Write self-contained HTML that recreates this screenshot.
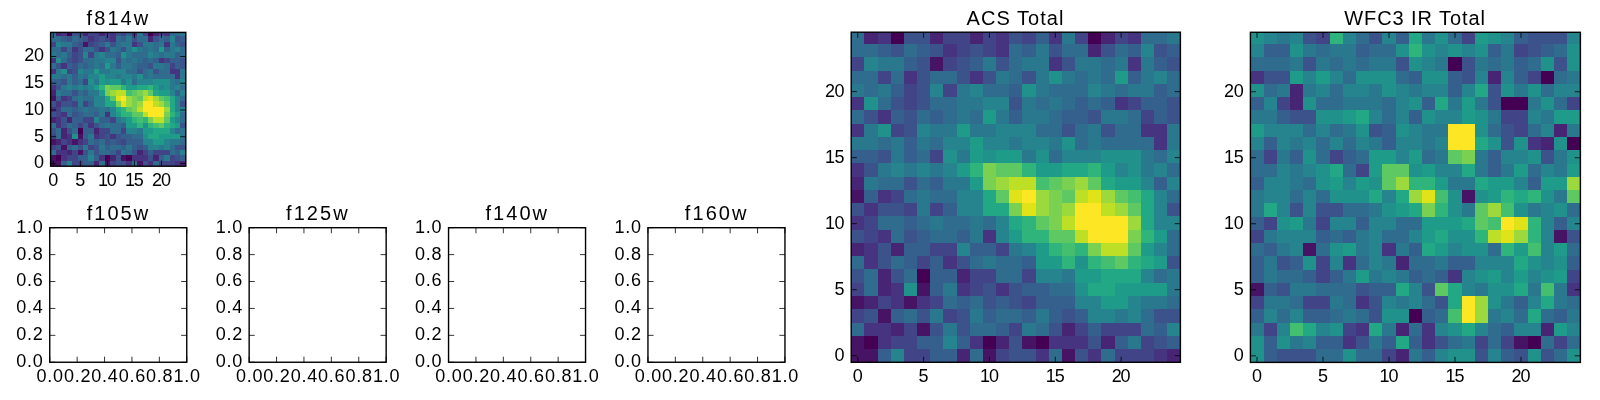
<!DOCTYPE html>
<html><head><meta charset="utf-8"><style>
html,body{margin:0;padding:0;background:#fff;width:1600px;height:400px;overflow:hidden}
svg{display:block;will-change:transform;font-family:"Liberation Sans",sans-serif}
text{fill:#000;stroke:none}
line{stroke:#000;stroke-width:0.80px}
rect.sp{fill:none;stroke:#000}
</style></head><body>
<svg width="1600" height="400" viewBox="0 0 1600 400">
<g>
<clipPath id="c1"><rect x="50.60" y="32.40" width="135.20" height="133.80"/></clipPath>
<g shape-rendering="crispEdges" clip-path="url(#c1)">
<rect x="50.60" y="30.70" width="6.01" height="6.02" fill="#2f6c8e"/>
<rect x="56.01" y="30.70" width="6.01" height="6.02" fill="#482475"/>
<rect x="61.42" y="30.70" width="6.01" height="6.02" fill="#463480"/>
<rect x="66.82" y="30.70" width="6.01" height="6.02" fill="#440154"/>
<rect x="72.23" y="30.70" width="6.01" height="6.02" fill="#3b528b"/>
<rect x="77.64" y="30.70" width="6.01" height="6.02" fill="#3b528b"/>
<rect x="83.05" y="30.70" width="6.01" height="6.02" fill="#482475"/>
<rect x="88.46" y="30.70" width="6.01" height="6.02" fill="#414487"/>
<rect x="93.86" y="30.70" width="6.01" height="6.02" fill="#414487"/>
<rect x="99.27" y="30.70" width="6.01" height="6.02" fill="#482475"/>
<rect x="104.68" y="30.70" width="6.01" height="6.02" fill="#414487"/>
<rect x="110.09" y="30.70" width="6.01" height="6.02" fill="#463480"/>
<rect x="115.50" y="30.70" width="6.01" height="6.02" fill="#3b528b"/>
<rect x="120.90" y="30.70" width="6.01" height="6.02" fill="#414487"/>
<rect x="126.31" y="30.70" width="6.01" height="6.02" fill="#355f8d"/>
<rect x="131.72" y="30.70" width="6.01" height="6.02" fill="#463480"/>
<rect x="137.13" y="30.70" width="6.01" height="6.02" fill="#2a788e"/>
<rect x="142.54" y="30.70" width="6.01" height="6.02" fill="#414487"/>
<rect x="147.94" y="30.70" width="6.01" height="6.02" fill="#440154"/>
<rect x="153.35" y="30.70" width="6.01" height="6.02" fill="#482475"/>
<rect x="158.76" y="30.70" width="6.01" height="6.02" fill="#414487"/>
<rect x="164.17" y="30.70" width="6.01" height="6.02" fill="#463480"/>
<rect x="169.58" y="30.70" width="6.01" height="6.02" fill="#2f6c8e"/>
<rect x="174.98" y="30.70" width="6.01" height="6.02" fill="#2f6c8e"/>
<rect x="180.39" y="30.70" width="6.01" height="6.02" fill="#2a788e"/>
<rect x="50.60" y="36.12" width="6.01" height="6.02" fill="#2f6c8e"/>
<rect x="56.01" y="36.12" width="6.01" height="6.02" fill="#2f6c8e"/>
<rect x="61.42" y="36.12" width="6.01" height="6.02" fill="#355f8d"/>
<rect x="66.82" y="36.12" width="6.01" height="6.02" fill="#3b528b"/>
<rect x="72.23" y="36.12" width="6.01" height="6.02" fill="#2f6c8e"/>
<rect x="77.64" y="36.12" width="6.01" height="6.02" fill="#355f8d"/>
<rect x="83.05" y="36.12" width="6.01" height="6.02" fill="#3b528b"/>
<rect x="88.46" y="36.12" width="6.01" height="6.02" fill="#463480"/>
<rect x="93.86" y="36.12" width="6.01" height="6.02" fill="#414487"/>
<rect x="99.27" y="36.12" width="6.01" height="6.02" fill="#3b528b"/>
<rect x="104.68" y="36.12" width="6.01" height="6.02" fill="#414487"/>
<rect x="110.09" y="36.12" width="6.01" height="6.02" fill="#463480"/>
<rect x="115.50" y="36.12" width="6.01" height="6.02" fill="#2f6c8e"/>
<rect x="120.90" y="36.12" width="6.01" height="6.02" fill="#355f8d"/>
<rect x="126.31" y="36.12" width="6.01" height="6.02" fill="#2a788e"/>
<rect x="131.72" y="36.12" width="6.01" height="6.02" fill="#3b528b"/>
<rect x="137.13" y="36.12" width="6.01" height="6.02" fill="#2f6c8e"/>
<rect x="142.54" y="36.12" width="6.01" height="6.02" fill="#2f6c8e"/>
<rect x="147.94" y="36.12" width="6.01" height="6.02" fill="#482475"/>
<rect x="153.35" y="36.12" width="6.01" height="6.02" fill="#3b528b"/>
<rect x="158.76" y="36.12" width="6.01" height="6.02" fill="#2f6c8e"/>
<rect x="164.17" y="36.12" width="6.01" height="6.02" fill="#355f8d"/>
<rect x="169.58" y="36.12" width="6.01" height="6.02" fill="#25848e"/>
<rect x="174.98" y="36.12" width="6.01" height="6.02" fill="#3b528b"/>
<rect x="180.39" y="36.12" width="6.01" height="6.02" fill="#355f8d"/>
<rect x="50.60" y="41.54" width="6.01" height="6.02" fill="#414487"/>
<rect x="56.01" y="41.54" width="6.01" height="6.02" fill="#25848e"/>
<rect x="61.42" y="41.54" width="6.01" height="6.02" fill="#2a788e"/>
<rect x="66.82" y="41.54" width="6.01" height="6.02" fill="#2a788e"/>
<rect x="72.23" y="41.54" width="6.01" height="6.02" fill="#355f8d"/>
<rect x="77.64" y="41.54" width="6.01" height="6.02" fill="#3b528b"/>
<rect x="83.05" y="41.54" width="6.01" height="6.02" fill="#471365"/>
<rect x="88.46" y="41.54" width="6.01" height="6.02" fill="#414487"/>
<rect x="93.86" y="41.54" width="6.01" height="6.02" fill="#3b528b"/>
<rect x="99.27" y="41.54" width="6.01" height="6.02" fill="#355f8d"/>
<rect x="104.68" y="41.54" width="6.01" height="6.02" fill="#2a788e"/>
<rect x="110.09" y="41.54" width="6.01" height="6.02" fill="#3b528b"/>
<rect x="115.50" y="41.54" width="6.01" height="6.02" fill="#2f6c8e"/>
<rect x="120.90" y="41.54" width="6.01" height="6.02" fill="#2a788e"/>
<rect x="126.31" y="41.54" width="6.01" height="6.02" fill="#2a788e"/>
<rect x="131.72" y="41.54" width="6.01" height="6.02" fill="#463480"/>
<rect x="137.13" y="41.54" width="6.01" height="6.02" fill="#3b528b"/>
<rect x="142.54" y="41.54" width="6.01" height="6.02" fill="#2a788e"/>
<rect x="147.94" y="41.54" width="6.01" height="6.02" fill="#2a788e"/>
<rect x="153.35" y="41.54" width="6.01" height="6.02" fill="#2f6c8e"/>
<rect x="158.76" y="41.54" width="6.01" height="6.02" fill="#2a788e"/>
<rect x="164.17" y="41.54" width="6.01" height="6.02" fill="#463480"/>
<rect x="169.58" y="41.54" width="6.01" height="6.02" fill="#2a788e"/>
<rect x="174.98" y="41.54" width="6.01" height="6.02" fill="#355f8d"/>
<rect x="180.39" y="41.54" width="6.01" height="6.02" fill="#3b528b"/>
<rect x="50.60" y="46.96" width="6.01" height="6.02" fill="#2f6c8e"/>
<rect x="56.01" y="46.96" width="6.01" height="6.02" fill="#2f6c8e"/>
<rect x="61.42" y="46.96" width="6.01" height="6.02" fill="#414487"/>
<rect x="66.82" y="46.96" width="6.01" height="6.02" fill="#2f6c8e"/>
<rect x="72.23" y="46.96" width="6.01" height="6.02" fill="#463480"/>
<rect x="77.64" y="46.96" width="6.01" height="6.02" fill="#3b528b"/>
<rect x="83.05" y="46.96" width="6.01" height="6.02" fill="#2f6c8e"/>
<rect x="88.46" y="46.96" width="6.01" height="6.02" fill="#2f6c8e"/>
<rect x="93.86" y="46.96" width="6.01" height="6.02" fill="#3b528b"/>
<rect x="99.27" y="46.96" width="6.01" height="6.02" fill="#463480"/>
<rect x="104.68" y="46.96" width="6.01" height="6.02" fill="#3b528b"/>
<rect x="110.09" y="46.96" width="6.01" height="6.02" fill="#2a788e"/>
<rect x="115.50" y="46.96" width="6.01" height="6.02" fill="#2f6c8e"/>
<rect x="120.90" y="46.96" width="6.01" height="6.02" fill="#3b528b"/>
<rect x="126.31" y="46.96" width="6.01" height="6.02" fill="#2a788e"/>
<rect x="131.72" y="46.96" width="6.01" height="6.02" fill="#21918c"/>
<rect x="137.13" y="46.96" width="6.01" height="6.02" fill="#2a788e"/>
<rect x="142.54" y="46.96" width="6.01" height="6.02" fill="#2f6c8e"/>
<rect x="147.94" y="46.96" width="6.01" height="6.02" fill="#2a788e"/>
<rect x="153.35" y="46.96" width="6.01" height="6.02" fill="#2f6c8e"/>
<rect x="158.76" y="46.96" width="6.01" height="6.02" fill="#1e9c89"/>
<rect x="164.17" y="46.96" width="6.01" height="6.02" fill="#355f8d"/>
<rect x="169.58" y="46.96" width="6.01" height="6.02" fill="#2a788e"/>
<rect x="174.98" y="46.96" width="6.01" height="6.02" fill="#25848e"/>
<rect x="180.39" y="46.96" width="6.01" height="6.02" fill="#2f6c8e"/>
<rect x="50.60" y="52.38" width="6.01" height="6.02" fill="#2a788e"/>
<rect x="56.01" y="52.38" width="6.01" height="6.02" fill="#2f6c8e"/>
<rect x="61.42" y="52.38" width="6.01" height="6.02" fill="#2a788e"/>
<rect x="66.82" y="52.38" width="6.01" height="6.02" fill="#355f8d"/>
<rect x="72.23" y="52.38" width="6.01" height="6.02" fill="#414487"/>
<rect x="77.64" y="52.38" width="6.01" height="6.02" fill="#3b528b"/>
<rect x="83.05" y="52.38" width="6.01" height="6.02" fill="#25848e"/>
<rect x="88.46" y="52.38" width="6.01" height="6.02" fill="#414487"/>
<rect x="93.86" y="52.38" width="6.01" height="6.02" fill="#2a788e"/>
<rect x="99.27" y="52.38" width="6.01" height="6.02" fill="#25848e"/>
<rect x="104.68" y="52.38" width="6.01" height="6.02" fill="#2f6c8e"/>
<rect x="110.09" y="52.38" width="6.01" height="6.02" fill="#2f6c8e"/>
<rect x="115.50" y="52.38" width="6.01" height="6.02" fill="#355f8d"/>
<rect x="120.90" y="52.38" width="6.01" height="6.02" fill="#21918c"/>
<rect x="126.31" y="52.38" width="6.01" height="6.02" fill="#2a788e"/>
<rect x="131.72" y="52.38" width="6.01" height="6.02" fill="#2f6c8e"/>
<rect x="137.13" y="52.38" width="6.01" height="6.02" fill="#2f6c8e"/>
<rect x="142.54" y="52.38" width="6.01" height="6.02" fill="#2f6c8e"/>
<rect x="147.94" y="52.38" width="6.01" height="6.02" fill="#25848e"/>
<rect x="153.35" y="52.38" width="6.01" height="6.02" fill="#2a788e"/>
<rect x="158.76" y="52.38" width="6.01" height="6.02" fill="#2f6c8e"/>
<rect x="164.17" y="52.38" width="6.01" height="6.02" fill="#2a788e"/>
<rect x="169.58" y="52.38" width="6.01" height="6.02" fill="#2a788e"/>
<rect x="174.98" y="52.38" width="6.01" height="6.02" fill="#355f8d"/>
<rect x="180.39" y="52.38" width="6.01" height="6.02" fill="#2f6c8e"/>
<rect x="50.60" y="57.80" width="6.01" height="6.02" fill="#463480"/>
<rect x="56.01" y="57.80" width="6.01" height="6.02" fill="#21918c"/>
<rect x="61.42" y="57.80" width="6.01" height="6.02" fill="#2f6c8e"/>
<rect x="66.82" y="57.80" width="6.01" height="6.02" fill="#3b528b"/>
<rect x="72.23" y="57.80" width="6.01" height="6.02" fill="#414487"/>
<rect x="77.64" y="57.80" width="6.01" height="6.02" fill="#3b528b"/>
<rect x="83.05" y="57.80" width="6.01" height="6.02" fill="#2f6c8e"/>
<rect x="88.46" y="57.80" width="6.01" height="6.02" fill="#2f6c8e"/>
<rect x="93.86" y="57.80" width="6.01" height="6.02" fill="#2a788e"/>
<rect x="99.27" y="57.80" width="6.01" height="6.02" fill="#2a788e"/>
<rect x="104.68" y="57.80" width="6.01" height="6.02" fill="#25848e"/>
<rect x="110.09" y="57.80" width="6.01" height="6.02" fill="#25848e"/>
<rect x="115.50" y="57.80" width="6.01" height="6.02" fill="#3b528b"/>
<rect x="120.90" y="57.80" width="6.01" height="6.02" fill="#2a788e"/>
<rect x="126.31" y="57.80" width="6.01" height="6.02" fill="#2f6c8e"/>
<rect x="131.72" y="57.80" width="6.01" height="6.02" fill="#2a788e"/>
<rect x="137.13" y="57.80" width="6.01" height="6.02" fill="#2f6c8e"/>
<rect x="142.54" y="57.80" width="6.01" height="6.02" fill="#355f8d"/>
<rect x="147.94" y="57.80" width="6.01" height="6.02" fill="#2f6c8e"/>
<rect x="153.35" y="57.80" width="6.01" height="6.02" fill="#355f8d"/>
<rect x="158.76" y="57.80" width="6.01" height="6.02" fill="#463480"/>
<rect x="164.17" y="57.80" width="6.01" height="6.02" fill="#414487"/>
<rect x="169.58" y="57.80" width="6.01" height="6.02" fill="#355f8d"/>
<rect x="174.98" y="57.80" width="6.01" height="6.02" fill="#355f8d"/>
<rect x="180.39" y="57.80" width="6.01" height="6.02" fill="#3b528b"/>
<rect x="50.60" y="63.22" width="6.01" height="6.02" fill="#2f6c8e"/>
<rect x="56.01" y="63.22" width="6.01" height="6.02" fill="#3b528b"/>
<rect x="61.42" y="63.22" width="6.01" height="6.02" fill="#463480"/>
<rect x="66.82" y="63.22" width="6.01" height="6.02" fill="#355f8d"/>
<rect x="72.23" y="63.22" width="6.01" height="6.02" fill="#3b528b"/>
<rect x="77.64" y="63.22" width="6.01" height="6.02" fill="#2f6c8e"/>
<rect x="83.05" y="63.22" width="6.01" height="6.02" fill="#355f8d"/>
<rect x="88.46" y="63.22" width="6.01" height="6.02" fill="#2f6c8e"/>
<rect x="93.86" y="63.22" width="6.01" height="6.02" fill="#2a788e"/>
<rect x="99.27" y="63.22" width="6.01" height="6.02" fill="#2f6c8e"/>
<rect x="104.68" y="63.22" width="6.01" height="6.02" fill="#1e9c89"/>
<rect x="110.09" y="63.22" width="6.01" height="6.02" fill="#2a788e"/>
<rect x="115.50" y="63.22" width="6.01" height="6.02" fill="#355f8d"/>
<rect x="120.90" y="63.22" width="6.01" height="6.02" fill="#2a788e"/>
<rect x="126.31" y="63.22" width="6.01" height="6.02" fill="#2a788e"/>
<rect x="131.72" y="63.22" width="6.01" height="6.02" fill="#2f6c8e"/>
<rect x="137.13" y="63.22" width="6.01" height="6.02" fill="#355f8d"/>
<rect x="142.54" y="63.22" width="6.01" height="6.02" fill="#355f8d"/>
<rect x="147.94" y="63.22" width="6.01" height="6.02" fill="#3b528b"/>
<rect x="153.35" y="63.22" width="6.01" height="6.02" fill="#2a788e"/>
<rect x="158.76" y="63.22" width="6.01" height="6.02" fill="#2a788e"/>
<rect x="164.17" y="63.22" width="6.01" height="6.02" fill="#2f6c8e"/>
<rect x="169.58" y="63.22" width="6.01" height="6.02" fill="#414487"/>
<rect x="174.98" y="63.22" width="6.01" height="6.02" fill="#355f8d"/>
<rect x="180.39" y="63.22" width="6.01" height="6.02" fill="#3b528b"/>
<rect x="50.60" y="68.64" width="6.01" height="6.02" fill="#463480"/>
<rect x="56.01" y="68.64" width="6.01" height="6.02" fill="#2a788e"/>
<rect x="61.42" y="68.64" width="6.01" height="6.02" fill="#21918c"/>
<rect x="66.82" y="68.64" width="6.01" height="6.02" fill="#414487"/>
<rect x="72.23" y="68.64" width="6.01" height="6.02" fill="#3b528b"/>
<rect x="77.64" y="68.64" width="6.01" height="6.02" fill="#25848e"/>
<rect x="83.05" y="68.64" width="6.01" height="6.02" fill="#2a788e"/>
<rect x="88.46" y="68.64" width="6.01" height="6.02" fill="#2a788e"/>
<rect x="93.86" y="68.64" width="6.01" height="6.02" fill="#1e9c89"/>
<rect x="99.27" y="68.64" width="6.01" height="6.02" fill="#2a788e"/>
<rect x="104.68" y="68.64" width="6.01" height="6.02" fill="#2a788e"/>
<rect x="110.09" y="68.64" width="6.01" height="6.02" fill="#25848e"/>
<rect x="115.50" y="68.64" width="6.01" height="6.02" fill="#25848e"/>
<rect x="120.90" y="68.64" width="6.01" height="6.02" fill="#25848e"/>
<rect x="126.31" y="68.64" width="6.01" height="6.02" fill="#2f6c8e"/>
<rect x="131.72" y="68.64" width="6.01" height="6.02" fill="#2f6c8e"/>
<rect x="137.13" y="68.64" width="6.01" height="6.02" fill="#3b528b"/>
<rect x="142.54" y="68.64" width="6.01" height="6.02" fill="#2f6c8e"/>
<rect x="147.94" y="68.64" width="6.01" height="6.02" fill="#2a788e"/>
<rect x="153.35" y="68.64" width="6.01" height="6.02" fill="#3b528b"/>
<rect x="158.76" y="68.64" width="6.01" height="6.02" fill="#2f6c8e"/>
<rect x="164.17" y="68.64" width="6.01" height="6.02" fill="#2f6c8e"/>
<rect x="169.58" y="68.64" width="6.01" height="6.02" fill="#463480"/>
<rect x="174.98" y="68.64" width="6.01" height="6.02" fill="#463480"/>
<rect x="180.39" y="68.64" width="6.01" height="6.02" fill="#2a788e"/>
<rect x="50.60" y="74.06" width="6.01" height="6.02" fill="#2a788e"/>
<rect x="56.01" y="74.06" width="6.01" height="6.02" fill="#2a788e"/>
<rect x="61.42" y="74.06" width="6.01" height="6.02" fill="#2f6c8e"/>
<rect x="66.82" y="74.06" width="6.01" height="6.02" fill="#2a788e"/>
<rect x="72.23" y="74.06" width="6.01" height="6.02" fill="#355f8d"/>
<rect x="77.64" y="74.06" width="6.01" height="6.02" fill="#2a788e"/>
<rect x="83.05" y="74.06" width="6.01" height="6.02" fill="#2f6c8e"/>
<rect x="88.46" y="74.06" width="6.01" height="6.02" fill="#25848e"/>
<rect x="93.86" y="74.06" width="6.01" height="6.02" fill="#25848e"/>
<rect x="99.27" y="74.06" width="6.01" height="6.02" fill="#1e9c89"/>
<rect x="104.68" y="74.06" width="6.01" height="6.02" fill="#25848e"/>
<rect x="110.09" y="74.06" width="6.01" height="6.02" fill="#25848e"/>
<rect x="115.50" y="74.06" width="6.01" height="6.02" fill="#2a788e"/>
<rect x="120.90" y="74.06" width="6.01" height="6.02" fill="#25848e"/>
<rect x="126.31" y="74.06" width="6.01" height="6.02" fill="#25848e"/>
<rect x="131.72" y="74.06" width="6.01" height="6.02" fill="#2a788e"/>
<rect x="137.13" y="74.06" width="6.01" height="6.02" fill="#21918c"/>
<rect x="142.54" y="74.06" width="6.01" height="6.02" fill="#2f6c8e"/>
<rect x="147.94" y="74.06" width="6.01" height="6.02" fill="#2a788e"/>
<rect x="153.35" y="74.06" width="6.01" height="6.02" fill="#2f6c8e"/>
<rect x="158.76" y="74.06" width="6.01" height="6.02" fill="#2f6c8e"/>
<rect x="164.17" y="74.06" width="6.01" height="6.02" fill="#2f6c8e"/>
<rect x="169.58" y="74.06" width="6.01" height="6.02" fill="#2f6c8e"/>
<rect x="174.98" y="74.06" width="6.01" height="6.02" fill="#463480"/>
<rect x="180.39" y="74.06" width="6.01" height="6.02" fill="#2a788e"/>
<rect x="50.60" y="79.48" width="6.01" height="6.02" fill="#355f8d"/>
<rect x="56.01" y="79.48" width="6.01" height="6.02" fill="#355f8d"/>
<rect x="61.42" y="79.48" width="6.01" height="6.02" fill="#3b528b"/>
<rect x="66.82" y="79.48" width="6.01" height="6.02" fill="#2a788e"/>
<rect x="72.23" y="79.48" width="6.01" height="6.02" fill="#355f8d"/>
<rect x="77.64" y="79.48" width="6.01" height="6.02" fill="#2f6c8e"/>
<rect x="83.05" y="79.48" width="6.01" height="6.02" fill="#414487"/>
<rect x="88.46" y="79.48" width="6.01" height="6.02" fill="#21918c"/>
<rect x="93.86" y="79.48" width="6.01" height="6.02" fill="#2a788e"/>
<rect x="99.27" y="79.48" width="6.01" height="6.02" fill="#1e9c89"/>
<rect x="104.68" y="79.48" width="6.01" height="6.02" fill="#21918c"/>
<rect x="110.09" y="79.48" width="6.01" height="6.02" fill="#1e9c89"/>
<rect x="115.50" y="79.48" width="6.01" height="6.02" fill="#1e9c89"/>
<rect x="120.90" y="79.48" width="6.01" height="6.02" fill="#2a788e"/>
<rect x="126.31" y="79.48" width="6.01" height="6.02" fill="#21918c"/>
<rect x="131.72" y="79.48" width="6.01" height="6.02" fill="#2f6c8e"/>
<rect x="137.13" y="79.48" width="6.01" height="6.02" fill="#25848e"/>
<rect x="142.54" y="79.48" width="6.01" height="6.02" fill="#25848e"/>
<rect x="147.94" y="79.48" width="6.01" height="6.02" fill="#25848e"/>
<rect x="153.35" y="79.48" width="6.01" height="6.02" fill="#21918c"/>
<rect x="158.76" y="79.48" width="6.01" height="6.02" fill="#21918c"/>
<rect x="164.17" y="79.48" width="6.01" height="6.02" fill="#21918c"/>
<rect x="169.58" y="79.48" width="6.01" height="6.02" fill="#2a788e"/>
<rect x="174.98" y="79.48" width="6.01" height="6.02" fill="#2f6c8e"/>
<rect x="180.39" y="79.48" width="6.01" height="6.02" fill="#25848e"/>
<rect x="50.60" y="84.90" width="6.01" height="6.02" fill="#463480"/>
<rect x="56.01" y="84.90" width="6.01" height="6.02" fill="#3b528b"/>
<rect x="61.42" y="84.90" width="6.01" height="6.02" fill="#2a788e"/>
<rect x="66.82" y="84.90" width="6.01" height="6.02" fill="#25848e"/>
<rect x="72.23" y="84.90" width="6.01" height="6.02" fill="#2a788e"/>
<rect x="77.64" y="84.90" width="6.01" height="6.02" fill="#25848e"/>
<rect x="83.05" y="84.90" width="6.01" height="6.02" fill="#2a788e"/>
<rect x="88.46" y="84.90" width="6.01" height="6.02" fill="#25848e"/>
<rect x="93.86" y="84.90" width="6.01" height="6.02" fill="#1e9c89"/>
<rect x="99.27" y="84.90" width="6.01" height="6.02" fill="#2fb47c"/>
<rect x="104.68" y="84.90" width="6.01" height="6.02" fill="#7ad151"/>
<rect x="110.09" y="84.90" width="6.01" height="6.02" fill="#5ec962"/>
<rect x="115.50" y="84.90" width="6.01" height="6.02" fill="#5ec962"/>
<rect x="120.90" y="84.90" width="6.01" height="6.02" fill="#2fb47c"/>
<rect x="126.31" y="84.90" width="6.01" height="6.02" fill="#1e9c89"/>
<rect x="131.72" y="84.90" width="6.01" height="6.02" fill="#1e9c89"/>
<rect x="137.13" y="84.90" width="6.01" height="6.02" fill="#22a884"/>
<rect x="142.54" y="84.90" width="6.01" height="6.02" fill="#22a884"/>
<rect x="147.94" y="84.90" width="6.01" height="6.02" fill="#2fb47c"/>
<rect x="153.35" y="84.90" width="6.01" height="6.02" fill="#1e9c89"/>
<rect x="158.76" y="84.90" width="6.01" height="6.02" fill="#25848e"/>
<rect x="164.17" y="84.90" width="6.01" height="6.02" fill="#21918c"/>
<rect x="169.58" y="84.90" width="6.01" height="6.02" fill="#2a788e"/>
<rect x="174.98" y="84.90" width="6.01" height="6.02" fill="#25848e"/>
<rect x="180.39" y="84.90" width="6.01" height="6.02" fill="#2f6c8e"/>
<rect x="50.60" y="90.32" width="6.01" height="6.02" fill="#482475"/>
<rect x="56.01" y="90.32" width="6.01" height="6.02" fill="#2a788e"/>
<rect x="61.42" y="90.32" width="6.01" height="6.02" fill="#2f6c8e"/>
<rect x="66.82" y="90.32" width="6.01" height="6.02" fill="#2f6c8e"/>
<rect x="72.23" y="90.32" width="6.01" height="6.02" fill="#3b528b"/>
<rect x="77.64" y="90.32" width="6.01" height="6.02" fill="#2f6c8e"/>
<rect x="83.05" y="90.32" width="6.01" height="6.02" fill="#355f8d"/>
<rect x="88.46" y="90.32" width="6.01" height="6.02" fill="#2a788e"/>
<rect x="93.86" y="90.32" width="6.01" height="6.02" fill="#2a788e"/>
<rect x="99.27" y="90.32" width="6.01" height="6.02" fill="#1e9c89"/>
<rect x="104.68" y="90.32" width="6.01" height="6.02" fill="#7ad151"/>
<rect x="110.09" y="90.32" width="6.01" height="6.02" fill="#9bd93c"/>
<rect x="115.50" y="90.32" width="6.01" height="6.02" fill="#bddf26"/>
<rect x="120.90" y="90.32" width="6.01" height="6.02" fill="#bddf26"/>
<rect x="126.31" y="90.32" width="6.01" height="6.02" fill="#44bf70"/>
<rect x="131.72" y="90.32" width="6.01" height="6.02" fill="#5ec962"/>
<rect x="137.13" y="90.32" width="6.01" height="6.02" fill="#7ad151"/>
<rect x="142.54" y="90.32" width="6.01" height="6.02" fill="#9bd93c"/>
<rect x="147.94" y="90.32" width="6.01" height="6.02" fill="#5ec962"/>
<rect x="153.35" y="90.32" width="6.01" height="6.02" fill="#22a884"/>
<rect x="158.76" y="90.32" width="6.01" height="6.02" fill="#1e9c89"/>
<rect x="164.17" y="90.32" width="6.01" height="6.02" fill="#1e9c89"/>
<rect x="169.58" y="90.32" width="6.01" height="6.02" fill="#25848e"/>
<rect x="174.98" y="90.32" width="6.01" height="6.02" fill="#355f8d"/>
<rect x="180.39" y="90.32" width="6.01" height="6.02" fill="#25848e"/>
<rect x="50.60" y="95.74" width="6.01" height="6.02" fill="#471365"/>
<rect x="56.01" y="95.74" width="6.01" height="6.02" fill="#355f8d"/>
<rect x="61.42" y="95.74" width="6.01" height="6.02" fill="#463480"/>
<rect x="66.82" y="95.74" width="6.01" height="6.02" fill="#414487"/>
<rect x="72.23" y="95.74" width="6.01" height="6.02" fill="#2f6c8e"/>
<rect x="77.64" y="95.74" width="6.01" height="6.02" fill="#2a788e"/>
<rect x="83.05" y="95.74" width="6.01" height="6.02" fill="#2f6c8e"/>
<rect x="88.46" y="95.74" width="6.01" height="6.02" fill="#2f6c8e"/>
<rect x="93.86" y="95.74" width="6.01" height="6.02" fill="#25848e"/>
<rect x="99.27" y="95.74" width="6.01" height="6.02" fill="#25848e"/>
<rect x="104.68" y="95.74" width="6.01" height="6.02" fill="#22a884"/>
<rect x="110.09" y="95.74" width="6.01" height="6.02" fill="#5ec962"/>
<rect x="115.50" y="95.74" width="6.01" height="6.02" fill="#dfe318"/>
<rect x="120.90" y="95.74" width="6.01" height="6.02" fill="#fde725"/>
<rect x="126.31" y="95.74" width="6.01" height="6.02" fill="#9bd93c"/>
<rect x="131.72" y="95.74" width="6.01" height="6.02" fill="#7ad151"/>
<rect x="137.13" y="95.74" width="6.01" height="6.02" fill="#5ec962"/>
<rect x="142.54" y="95.74" width="6.01" height="6.02" fill="#bddf26"/>
<rect x="147.94" y="95.74" width="6.01" height="6.02" fill="#dfe318"/>
<rect x="153.35" y="95.74" width="6.01" height="6.02" fill="#9bd93c"/>
<rect x="158.76" y="95.74" width="6.01" height="6.02" fill="#5ec962"/>
<rect x="164.17" y="95.74" width="6.01" height="6.02" fill="#44bf70"/>
<rect x="169.58" y="95.74" width="6.01" height="6.02" fill="#22a884"/>
<rect x="174.98" y="95.74" width="6.01" height="6.02" fill="#25848e"/>
<rect x="180.39" y="95.74" width="6.01" height="6.02" fill="#2f6c8e"/>
<rect x="50.60" y="101.16" width="6.01" height="6.02" fill="#3b528b"/>
<rect x="56.01" y="101.16" width="6.01" height="6.02" fill="#463480"/>
<rect x="61.42" y="101.16" width="6.01" height="6.02" fill="#3b528b"/>
<rect x="66.82" y="101.16" width="6.01" height="6.02" fill="#3b528b"/>
<rect x="72.23" y="101.16" width="6.01" height="6.02" fill="#414487"/>
<rect x="77.64" y="101.16" width="6.01" height="6.02" fill="#2a788e"/>
<rect x="83.05" y="101.16" width="6.01" height="6.02" fill="#414487"/>
<rect x="88.46" y="101.16" width="6.01" height="6.02" fill="#355f8d"/>
<rect x="93.86" y="101.16" width="6.01" height="6.02" fill="#25848e"/>
<rect x="99.27" y="101.16" width="6.01" height="6.02" fill="#25848e"/>
<rect x="104.68" y="101.16" width="6.01" height="6.02" fill="#22a884"/>
<rect x="110.09" y="101.16" width="6.01" height="6.02" fill="#22a884"/>
<rect x="115.50" y="101.16" width="6.01" height="6.02" fill="#7ad151"/>
<rect x="120.90" y="101.16" width="6.01" height="6.02" fill="#dfe318"/>
<rect x="126.31" y="101.16" width="6.01" height="6.02" fill="#9bd93c"/>
<rect x="131.72" y="101.16" width="6.01" height="6.02" fill="#7ad151"/>
<rect x="137.13" y="101.16" width="6.01" height="6.02" fill="#9bd93c"/>
<rect x="142.54" y="101.16" width="6.01" height="6.02" fill="#fde725"/>
<rect x="147.94" y="101.16" width="6.01" height="6.02" fill="#fde725"/>
<rect x="153.35" y="101.16" width="6.01" height="6.02" fill="#bddf26"/>
<rect x="158.76" y="101.16" width="6.01" height="6.02" fill="#9bd93c"/>
<rect x="164.17" y="101.16" width="6.01" height="6.02" fill="#5ec962"/>
<rect x="169.58" y="101.16" width="6.01" height="6.02" fill="#22a884"/>
<rect x="174.98" y="101.16" width="6.01" height="6.02" fill="#25848e"/>
<rect x="180.39" y="101.16" width="6.01" height="6.02" fill="#3b528b"/>
<rect x="50.60" y="106.58" width="6.01" height="6.02" fill="#463480"/>
<rect x="56.01" y="106.58" width="6.01" height="6.02" fill="#414487"/>
<rect x="61.42" y="106.58" width="6.01" height="6.02" fill="#2f6c8e"/>
<rect x="66.82" y="106.58" width="6.01" height="6.02" fill="#2f6c8e"/>
<rect x="72.23" y="106.58" width="6.01" height="6.02" fill="#355f8d"/>
<rect x="77.64" y="106.58" width="6.01" height="6.02" fill="#2f6c8e"/>
<rect x="83.05" y="106.58" width="6.01" height="6.02" fill="#2a788e"/>
<rect x="88.46" y="106.58" width="6.01" height="6.02" fill="#2f6c8e"/>
<rect x="93.86" y="106.58" width="6.01" height="6.02" fill="#2f6c8e"/>
<rect x="99.27" y="106.58" width="6.01" height="6.02" fill="#2a788e"/>
<rect x="104.68" y="106.58" width="6.01" height="6.02" fill="#2f6c8e"/>
<rect x="110.09" y="106.58" width="6.01" height="6.02" fill="#25848e"/>
<rect x="115.50" y="106.58" width="6.01" height="6.02" fill="#22a884"/>
<rect x="120.90" y="106.58" width="6.01" height="6.02" fill="#2fb47c"/>
<rect x="126.31" y="106.58" width="6.01" height="6.02" fill="#5ec962"/>
<rect x="131.72" y="106.58" width="6.01" height="6.02" fill="#7ad151"/>
<rect x="137.13" y="106.58" width="6.01" height="6.02" fill="#bddf26"/>
<rect x="142.54" y="106.58" width="6.01" height="6.02" fill="#fde725"/>
<rect x="147.94" y="106.58" width="6.01" height="6.02" fill="#fde725"/>
<rect x="153.35" y="106.58" width="6.01" height="6.02" fill="#fde725"/>
<rect x="158.76" y="106.58" width="6.01" height="6.02" fill="#fde725"/>
<rect x="164.17" y="106.58" width="6.01" height="6.02" fill="#9bd93c"/>
<rect x="169.58" y="106.58" width="6.01" height="6.02" fill="#22a884"/>
<rect x="174.98" y="106.58" width="6.01" height="6.02" fill="#25848e"/>
<rect x="180.39" y="106.58" width="6.01" height="6.02" fill="#25848e"/>
<rect x="50.60" y="112.00" width="6.01" height="6.02" fill="#3b528b"/>
<rect x="56.01" y="112.00" width="6.01" height="6.02" fill="#414487"/>
<rect x="61.42" y="112.00" width="6.01" height="6.02" fill="#463480"/>
<rect x="66.82" y="112.00" width="6.01" height="6.02" fill="#2f6c8e"/>
<rect x="72.23" y="112.00" width="6.01" height="6.02" fill="#3b528b"/>
<rect x="77.64" y="112.00" width="6.01" height="6.02" fill="#355f8d"/>
<rect x="83.05" y="112.00" width="6.01" height="6.02" fill="#2f6c8e"/>
<rect x="88.46" y="112.00" width="6.01" height="6.02" fill="#2f6c8e"/>
<rect x="93.86" y="112.00" width="6.01" height="6.02" fill="#355f8d"/>
<rect x="99.27" y="112.00" width="6.01" height="6.02" fill="#2a788e"/>
<rect x="104.68" y="112.00" width="6.01" height="6.02" fill="#463480"/>
<rect x="110.09" y="112.00" width="6.01" height="6.02" fill="#25848e"/>
<rect x="115.50" y="112.00" width="6.01" height="6.02" fill="#1e9c89"/>
<rect x="120.90" y="112.00" width="6.01" height="6.02" fill="#2fb47c"/>
<rect x="126.31" y="112.00" width="6.01" height="6.02" fill="#2fb47c"/>
<rect x="131.72" y="112.00" width="6.01" height="6.02" fill="#5ec962"/>
<rect x="137.13" y="112.00" width="6.01" height="6.02" fill="#5ec962"/>
<rect x="142.54" y="112.00" width="6.01" height="6.02" fill="#bddf26"/>
<rect x="147.94" y="112.00" width="6.01" height="6.02" fill="#fde725"/>
<rect x="153.35" y="112.00" width="6.01" height="6.02" fill="#fde725"/>
<rect x="158.76" y="112.00" width="6.01" height="6.02" fill="#fde725"/>
<rect x="164.17" y="112.00" width="6.01" height="6.02" fill="#7ad151"/>
<rect x="169.58" y="112.00" width="6.01" height="6.02" fill="#2fb47c"/>
<rect x="174.98" y="112.00" width="6.01" height="6.02" fill="#1e9c89"/>
<rect x="180.39" y="112.00" width="6.01" height="6.02" fill="#2f6c8e"/>
<rect x="50.60" y="117.42" width="6.01" height="6.02" fill="#482475"/>
<rect x="56.01" y="117.42" width="6.01" height="6.02" fill="#463480"/>
<rect x="61.42" y="117.42" width="6.01" height="6.02" fill="#3b528b"/>
<rect x="66.82" y="117.42" width="6.01" height="6.02" fill="#482475"/>
<rect x="72.23" y="117.42" width="6.01" height="6.02" fill="#355f8d"/>
<rect x="77.64" y="117.42" width="6.01" height="6.02" fill="#355f8d"/>
<rect x="83.05" y="117.42" width="6.01" height="6.02" fill="#414487"/>
<rect x="88.46" y="117.42" width="6.01" height="6.02" fill="#414487"/>
<rect x="93.86" y="117.42" width="6.01" height="6.02" fill="#25848e"/>
<rect x="99.27" y="117.42" width="6.01" height="6.02" fill="#355f8d"/>
<rect x="104.68" y="117.42" width="6.01" height="6.02" fill="#355f8d"/>
<rect x="110.09" y="117.42" width="6.01" height="6.02" fill="#414487"/>
<rect x="115.50" y="117.42" width="6.01" height="6.02" fill="#2a788e"/>
<rect x="120.90" y="117.42" width="6.01" height="6.02" fill="#25848e"/>
<rect x="126.31" y="117.42" width="6.01" height="6.02" fill="#1e9c89"/>
<rect x="131.72" y="117.42" width="6.01" height="6.02" fill="#2fb47c"/>
<rect x="137.13" y="117.42" width="6.01" height="6.02" fill="#44bf70"/>
<rect x="142.54" y="117.42" width="6.01" height="6.02" fill="#2fb47c"/>
<rect x="147.94" y="117.42" width="6.01" height="6.02" fill="#7ad151"/>
<rect x="153.35" y="117.42" width="6.01" height="6.02" fill="#bddf26"/>
<rect x="158.76" y="117.42" width="6.01" height="6.02" fill="#bddf26"/>
<rect x="164.17" y="117.42" width="6.01" height="6.02" fill="#5ec962"/>
<rect x="169.58" y="117.42" width="6.01" height="6.02" fill="#1e9c89"/>
<rect x="174.98" y="117.42" width="6.01" height="6.02" fill="#25848e"/>
<rect x="180.39" y="117.42" width="6.01" height="6.02" fill="#2f6c8e"/>
<rect x="50.60" y="122.84" width="6.01" height="6.02" fill="#2f6c8e"/>
<rect x="56.01" y="122.84" width="6.01" height="6.02" fill="#463480"/>
<rect x="61.42" y="122.84" width="6.01" height="6.02" fill="#3b528b"/>
<rect x="66.82" y="122.84" width="6.01" height="6.02" fill="#2f6c8e"/>
<rect x="72.23" y="122.84" width="6.01" height="6.02" fill="#355f8d"/>
<rect x="77.64" y="122.84" width="6.01" height="6.02" fill="#414487"/>
<rect x="83.05" y="122.84" width="6.01" height="6.02" fill="#355f8d"/>
<rect x="88.46" y="122.84" width="6.01" height="6.02" fill="#463480"/>
<rect x="93.86" y="122.84" width="6.01" height="6.02" fill="#3b528b"/>
<rect x="99.27" y="122.84" width="6.01" height="6.02" fill="#2f6c8e"/>
<rect x="104.68" y="122.84" width="6.01" height="6.02" fill="#2a788e"/>
<rect x="110.09" y="122.84" width="6.01" height="6.02" fill="#2f6c8e"/>
<rect x="115.50" y="122.84" width="6.01" height="6.02" fill="#2f6c8e"/>
<rect x="120.90" y="122.84" width="6.01" height="6.02" fill="#355f8d"/>
<rect x="126.31" y="122.84" width="6.01" height="6.02" fill="#1e9c89"/>
<rect x="131.72" y="122.84" width="6.01" height="6.02" fill="#1e9c89"/>
<rect x="137.13" y="122.84" width="6.01" height="6.02" fill="#2fb47c"/>
<rect x="142.54" y="122.84" width="6.01" height="6.02" fill="#21918c"/>
<rect x="147.94" y="122.84" width="6.01" height="6.02" fill="#2fb47c"/>
<rect x="153.35" y="122.84" width="6.01" height="6.02" fill="#44bf70"/>
<rect x="158.76" y="122.84" width="6.01" height="6.02" fill="#5ec962"/>
<rect x="164.17" y="122.84" width="6.01" height="6.02" fill="#2fb47c"/>
<rect x="169.58" y="122.84" width="6.01" height="6.02" fill="#22a884"/>
<rect x="174.98" y="122.84" width="6.01" height="6.02" fill="#1e9c89"/>
<rect x="180.39" y="122.84" width="6.01" height="6.02" fill="#3b528b"/>
<rect x="50.60" y="128.26" width="6.01" height="6.02" fill="#3b528b"/>
<rect x="56.01" y="128.26" width="6.01" height="6.02" fill="#2f6c8e"/>
<rect x="61.42" y="128.26" width="6.01" height="6.02" fill="#482475"/>
<rect x="66.82" y="128.26" width="6.01" height="6.02" fill="#3b528b"/>
<rect x="72.23" y="128.26" width="6.01" height="6.02" fill="#2f6c8e"/>
<rect x="77.64" y="128.26" width="6.01" height="6.02" fill="#440154"/>
<rect x="83.05" y="128.26" width="6.01" height="6.02" fill="#355f8d"/>
<rect x="88.46" y="128.26" width="6.01" height="6.02" fill="#355f8d"/>
<rect x="93.86" y="128.26" width="6.01" height="6.02" fill="#482475"/>
<rect x="99.27" y="128.26" width="6.01" height="6.02" fill="#414487"/>
<rect x="104.68" y="128.26" width="6.01" height="6.02" fill="#414487"/>
<rect x="110.09" y="128.26" width="6.01" height="6.02" fill="#2f6c8e"/>
<rect x="115.50" y="128.26" width="6.01" height="6.02" fill="#2f6c8e"/>
<rect x="120.90" y="128.26" width="6.01" height="6.02" fill="#414487"/>
<rect x="126.31" y="128.26" width="6.01" height="6.02" fill="#25848e"/>
<rect x="131.72" y="128.26" width="6.01" height="6.02" fill="#25848e"/>
<rect x="137.13" y="128.26" width="6.01" height="6.02" fill="#2a788e"/>
<rect x="142.54" y="128.26" width="6.01" height="6.02" fill="#1e9c89"/>
<rect x="147.94" y="128.26" width="6.01" height="6.02" fill="#1e9c89"/>
<rect x="153.35" y="128.26" width="6.01" height="6.02" fill="#22a884"/>
<rect x="158.76" y="128.26" width="6.01" height="6.02" fill="#22a884"/>
<rect x="164.17" y="128.26" width="6.01" height="6.02" fill="#22a884"/>
<rect x="169.58" y="128.26" width="6.01" height="6.02" fill="#25848e"/>
<rect x="174.98" y="128.26" width="6.01" height="6.02" fill="#2f6c8e"/>
<rect x="180.39" y="128.26" width="6.01" height="6.02" fill="#2a788e"/>
<rect x="50.60" y="133.68" width="6.01" height="6.02" fill="#414487"/>
<rect x="56.01" y="133.68" width="6.01" height="6.02" fill="#2f6c8e"/>
<rect x="61.42" y="133.68" width="6.01" height="6.02" fill="#482475"/>
<rect x="66.82" y="133.68" width="6.01" height="6.02" fill="#463480"/>
<rect x="72.23" y="133.68" width="6.01" height="6.02" fill="#21918c"/>
<rect x="77.64" y="133.68" width="6.01" height="6.02" fill="#471365"/>
<rect x="83.05" y="133.68" width="6.01" height="6.02" fill="#355f8d"/>
<rect x="88.46" y="133.68" width="6.01" height="6.02" fill="#2a788e"/>
<rect x="93.86" y="133.68" width="6.01" height="6.02" fill="#463480"/>
<rect x="99.27" y="133.68" width="6.01" height="6.02" fill="#414487"/>
<rect x="104.68" y="133.68" width="6.01" height="6.02" fill="#3b528b"/>
<rect x="110.09" y="133.68" width="6.01" height="6.02" fill="#463480"/>
<rect x="115.50" y="133.68" width="6.01" height="6.02" fill="#3b528b"/>
<rect x="120.90" y="133.68" width="6.01" height="6.02" fill="#355f8d"/>
<rect x="126.31" y="133.68" width="6.01" height="6.02" fill="#355f8d"/>
<rect x="131.72" y="133.68" width="6.01" height="6.02" fill="#2f6c8e"/>
<rect x="137.13" y="133.68" width="6.01" height="6.02" fill="#2f6c8e"/>
<rect x="142.54" y="133.68" width="6.01" height="6.02" fill="#21918c"/>
<rect x="147.94" y="133.68" width="6.01" height="6.02" fill="#22a884"/>
<rect x="153.35" y="133.68" width="6.01" height="6.02" fill="#22a884"/>
<rect x="158.76" y="133.68" width="6.01" height="6.02" fill="#1e9c89"/>
<rect x="164.17" y="133.68" width="6.01" height="6.02" fill="#1e9c89"/>
<rect x="169.58" y="133.68" width="6.01" height="6.02" fill="#1e9c89"/>
<rect x="174.98" y="133.68" width="6.01" height="6.02" fill="#1e9c89"/>
<rect x="180.39" y="133.68" width="6.01" height="6.02" fill="#2a788e"/>
<rect x="50.60" y="139.10" width="6.01" height="6.02" fill="#471365"/>
<rect x="56.01" y="139.10" width="6.01" height="6.02" fill="#482475"/>
<rect x="61.42" y="139.10" width="6.01" height="6.02" fill="#414487"/>
<rect x="66.82" y="139.10" width="6.01" height="6.02" fill="#463480"/>
<rect x="72.23" y="139.10" width="6.01" height="6.02" fill="#471365"/>
<rect x="77.64" y="139.10" width="6.01" height="6.02" fill="#463480"/>
<rect x="83.05" y="139.10" width="6.01" height="6.02" fill="#414487"/>
<rect x="88.46" y="139.10" width="6.01" height="6.02" fill="#2f6c8e"/>
<rect x="93.86" y="139.10" width="6.01" height="6.02" fill="#355f8d"/>
<rect x="99.27" y="139.10" width="6.01" height="6.02" fill="#2f6c8e"/>
<rect x="104.68" y="139.10" width="6.01" height="6.02" fill="#3b528b"/>
<rect x="110.09" y="139.10" width="6.01" height="6.02" fill="#355f8d"/>
<rect x="115.50" y="139.10" width="6.01" height="6.02" fill="#3b528b"/>
<rect x="120.90" y="139.10" width="6.01" height="6.02" fill="#414487"/>
<rect x="126.31" y="139.10" width="6.01" height="6.02" fill="#355f8d"/>
<rect x="131.72" y="139.10" width="6.01" height="6.02" fill="#355f8d"/>
<rect x="137.13" y="139.10" width="6.01" height="6.02" fill="#355f8d"/>
<rect x="142.54" y="139.10" width="6.01" height="6.02" fill="#25848e"/>
<rect x="147.94" y="139.10" width="6.01" height="6.02" fill="#25848e"/>
<rect x="153.35" y="139.10" width="6.01" height="6.02" fill="#1e9c89"/>
<rect x="158.76" y="139.10" width="6.01" height="6.02" fill="#1e9c89"/>
<rect x="164.17" y="139.10" width="6.01" height="6.02" fill="#25848e"/>
<rect x="169.58" y="139.10" width="6.01" height="6.02" fill="#2a788e"/>
<rect x="174.98" y="139.10" width="6.01" height="6.02" fill="#2a788e"/>
<rect x="180.39" y="139.10" width="6.01" height="6.02" fill="#2f6c8e"/>
<rect x="50.60" y="144.52" width="6.01" height="6.02" fill="#414487"/>
<rect x="56.01" y="144.52" width="6.01" height="6.02" fill="#3b528b"/>
<rect x="61.42" y="144.52" width="6.01" height="6.02" fill="#471365"/>
<rect x="66.82" y="144.52" width="6.01" height="6.02" fill="#355f8d"/>
<rect x="72.23" y="144.52" width="6.01" height="6.02" fill="#2f6c8e"/>
<rect x="77.64" y="144.52" width="6.01" height="6.02" fill="#3b528b"/>
<rect x="83.05" y="144.52" width="6.01" height="6.02" fill="#2a788e"/>
<rect x="88.46" y="144.52" width="6.01" height="6.02" fill="#414487"/>
<rect x="93.86" y="144.52" width="6.01" height="6.02" fill="#3b528b"/>
<rect x="99.27" y="144.52" width="6.01" height="6.02" fill="#2a788e"/>
<rect x="104.68" y="144.52" width="6.01" height="6.02" fill="#355f8d"/>
<rect x="110.09" y="144.52" width="6.01" height="6.02" fill="#2f6c8e"/>
<rect x="115.50" y="144.52" width="6.01" height="6.02" fill="#2f6c8e"/>
<rect x="120.90" y="144.52" width="6.01" height="6.02" fill="#355f8d"/>
<rect x="126.31" y="144.52" width="6.01" height="6.02" fill="#2a788e"/>
<rect x="131.72" y="144.52" width="6.01" height="6.02" fill="#355f8d"/>
<rect x="137.13" y="144.52" width="6.01" height="6.02" fill="#3b528b"/>
<rect x="142.54" y="144.52" width="6.01" height="6.02" fill="#355f8d"/>
<rect x="147.94" y="144.52" width="6.01" height="6.02" fill="#25848e"/>
<rect x="153.35" y="144.52" width="6.01" height="6.02" fill="#25848e"/>
<rect x="158.76" y="144.52" width="6.01" height="6.02" fill="#2a788e"/>
<rect x="164.17" y="144.52" width="6.01" height="6.02" fill="#25848e"/>
<rect x="169.58" y="144.52" width="6.01" height="6.02" fill="#2f6c8e"/>
<rect x="174.98" y="144.52" width="6.01" height="6.02" fill="#3b528b"/>
<rect x="180.39" y="144.52" width="6.01" height="6.02" fill="#3b528b"/>
<rect x="50.60" y="149.94" width="6.01" height="6.02" fill="#2f6c8e"/>
<rect x="56.01" y="149.94" width="6.01" height="6.02" fill="#463480"/>
<rect x="61.42" y="149.94" width="6.01" height="6.02" fill="#463480"/>
<rect x="66.82" y="149.94" width="6.01" height="6.02" fill="#482475"/>
<rect x="72.23" y="149.94" width="6.01" height="6.02" fill="#414487"/>
<rect x="77.64" y="149.94" width="6.01" height="6.02" fill="#471365"/>
<rect x="83.05" y="149.94" width="6.01" height="6.02" fill="#3b528b"/>
<rect x="88.46" y="149.94" width="6.01" height="6.02" fill="#2a788e"/>
<rect x="93.86" y="149.94" width="6.01" height="6.02" fill="#3b528b"/>
<rect x="99.27" y="149.94" width="6.01" height="6.02" fill="#2f6c8e"/>
<rect x="104.68" y="149.94" width="6.01" height="6.02" fill="#2f6c8e"/>
<rect x="110.09" y="149.94" width="6.01" height="6.02" fill="#355f8d"/>
<rect x="115.50" y="149.94" width="6.01" height="6.02" fill="#414487"/>
<rect x="120.90" y="149.94" width="6.01" height="6.02" fill="#2a788e"/>
<rect x="126.31" y="149.94" width="6.01" height="6.02" fill="#2f6c8e"/>
<rect x="131.72" y="149.94" width="6.01" height="6.02" fill="#3b528b"/>
<rect x="137.13" y="149.94" width="6.01" height="6.02" fill="#482475"/>
<rect x="142.54" y="149.94" width="6.01" height="6.02" fill="#414487"/>
<rect x="147.94" y="149.94" width="6.01" height="6.02" fill="#355f8d"/>
<rect x="153.35" y="149.94" width="6.01" height="6.02" fill="#414487"/>
<rect x="158.76" y="149.94" width="6.01" height="6.02" fill="#414487"/>
<rect x="164.17" y="149.94" width="6.01" height="6.02" fill="#414487"/>
<rect x="169.58" y="149.94" width="6.01" height="6.02" fill="#2f6c8e"/>
<rect x="174.98" y="149.94" width="6.01" height="6.02" fill="#355f8d"/>
<rect x="180.39" y="149.94" width="6.01" height="6.02" fill="#25848e"/>
<rect x="50.60" y="155.36" width="6.01" height="6.02" fill="#471365"/>
<rect x="56.01" y="155.36" width="6.01" height="6.02" fill="#440154"/>
<rect x="61.42" y="155.36" width="6.01" height="6.02" fill="#463480"/>
<rect x="66.82" y="155.36" width="6.01" height="6.02" fill="#414487"/>
<rect x="72.23" y="155.36" width="6.01" height="6.02" fill="#414487"/>
<rect x="77.64" y="155.36" width="6.01" height="6.02" fill="#355f8d"/>
<rect x="83.05" y="155.36" width="6.01" height="6.02" fill="#355f8d"/>
<rect x="88.46" y="155.36" width="6.01" height="6.02" fill="#25848e"/>
<rect x="93.86" y="155.36" width="6.01" height="6.02" fill="#355f8d"/>
<rect x="99.27" y="155.36" width="6.01" height="6.02" fill="#463480"/>
<rect x="104.68" y="155.36" width="6.01" height="6.02" fill="#440154"/>
<rect x="110.09" y="155.36" width="6.01" height="6.02" fill="#482475"/>
<rect x="115.50" y="155.36" width="6.01" height="6.02" fill="#3b528b"/>
<rect x="120.90" y="155.36" width="6.01" height="6.02" fill="#471365"/>
<rect x="126.31" y="155.36" width="6.01" height="6.02" fill="#440154"/>
<rect x="131.72" y="155.36" width="6.01" height="6.02" fill="#463480"/>
<rect x="137.13" y="155.36" width="6.01" height="6.02" fill="#463480"/>
<rect x="142.54" y="155.36" width="6.01" height="6.02" fill="#463480"/>
<rect x="147.94" y="155.36" width="6.01" height="6.02" fill="#3b528b"/>
<rect x="153.35" y="155.36" width="6.01" height="6.02" fill="#482475"/>
<rect x="158.76" y="155.36" width="6.01" height="6.02" fill="#355f8d"/>
<rect x="164.17" y="155.36" width="6.01" height="6.02" fill="#2a788e"/>
<rect x="169.58" y="155.36" width="6.01" height="6.02" fill="#414487"/>
<rect x="174.98" y="155.36" width="6.01" height="6.02" fill="#3b528b"/>
<rect x="180.39" y="155.36" width="6.01" height="6.02" fill="#355f8d"/>
<rect x="50.60" y="160.78" width="6.01" height="6.02" fill="#471365"/>
<rect x="56.01" y="160.78" width="6.01" height="6.02" fill="#471365"/>
<rect x="61.42" y="160.78" width="6.01" height="6.02" fill="#355f8d"/>
<rect x="66.82" y="160.78" width="6.01" height="6.02" fill="#25848e"/>
<rect x="72.23" y="160.78" width="6.01" height="6.02" fill="#414487"/>
<rect x="77.64" y="160.78" width="6.01" height="6.02" fill="#414487"/>
<rect x="83.05" y="160.78" width="6.01" height="6.02" fill="#355f8d"/>
<rect x="88.46" y="160.78" width="6.01" height="6.02" fill="#355f8d"/>
<rect x="93.86" y="160.78" width="6.01" height="6.02" fill="#482475"/>
<rect x="99.27" y="160.78" width="6.01" height="6.02" fill="#2f6c8e"/>
<rect x="104.68" y="160.78" width="6.01" height="6.02" fill="#471365"/>
<rect x="110.09" y="160.78" width="6.01" height="6.02" fill="#414487"/>
<rect x="115.50" y="160.78" width="6.01" height="6.02" fill="#3b528b"/>
<rect x="120.90" y="160.78" width="6.01" height="6.02" fill="#3b528b"/>
<rect x="126.31" y="160.78" width="6.01" height="6.02" fill="#463480"/>
<rect x="131.72" y="160.78" width="6.01" height="6.02" fill="#2f6c8e"/>
<rect x="137.13" y="160.78" width="6.01" height="6.02" fill="#471365"/>
<rect x="142.54" y="160.78" width="6.01" height="6.02" fill="#3b528b"/>
<rect x="147.94" y="160.78" width="6.01" height="6.02" fill="#463480"/>
<rect x="153.35" y="160.78" width="6.01" height="6.02" fill="#2f6c8e"/>
<rect x="158.76" y="160.78" width="6.01" height="6.02" fill="#414487"/>
<rect x="164.17" y="160.78" width="6.01" height="6.02" fill="#414487"/>
<rect x="169.58" y="160.78" width="6.01" height="6.02" fill="#414487"/>
<rect x="174.98" y="160.78" width="6.01" height="6.02" fill="#463480"/>
<rect x="180.39" y="160.78" width="6.01" height="6.02" fill="#482475"/>
</g>
<line x1="53.30" y1="166.20" x2="53.30" y2="160.60"/>
<line x1="53.30" y1="32.40" x2="53.30" y2="38.00"/>
<line x1="50.60" y1="163.52" x2="56.20" y2="163.52"/>
<line x1="185.80" y1="163.52" x2="180.20" y2="163.52"/>
<line x1="80.34" y1="166.20" x2="80.34" y2="160.60"/>
<line x1="80.34" y1="32.40" x2="80.34" y2="38.00"/>
<line x1="50.60" y1="136.76" x2="56.20" y2="136.76"/>
<line x1="185.80" y1="136.76" x2="180.20" y2="136.76"/>
<line x1="107.38" y1="166.20" x2="107.38" y2="160.60"/>
<line x1="107.38" y1="32.40" x2="107.38" y2="38.00"/>
<line x1="50.60" y1="110.00" x2="56.20" y2="110.00"/>
<line x1="185.80" y1="110.00" x2="180.20" y2="110.00"/>
<line x1="134.42" y1="166.20" x2="134.42" y2="160.60"/>
<line x1="134.42" y1="32.40" x2="134.42" y2="38.00"/>
<line x1="50.60" y1="83.24" x2="56.20" y2="83.24"/>
<line x1="185.80" y1="83.24" x2="180.20" y2="83.24"/>
<line x1="161.46" y1="166.20" x2="161.46" y2="160.60"/>
<line x1="161.46" y1="32.40" x2="161.46" y2="38.00"/>
<line x1="50.60" y1="56.48" x2="56.20" y2="56.48"/>
<line x1="185.80" y1="56.48" x2="180.20" y2="56.48"/>
<rect class="sp" x="50.60" y="32.40" width="135.20" height="133.80" stroke-width="1.40"/>
<text x="53.30" y="185.70" font-size="18.00" text-anchor="middle">0</text>
<text x="44.00" y="168.42" font-size="18.00" text-anchor="end">0</text>
<text x="80.34" y="185.70" font-size="18.00" text-anchor="middle">5</text>
<text x="44.00" y="141.66" font-size="18.00" text-anchor="end">5</text>
<text x="107.38" y="185.70" font-size="18.00" text-anchor="middle" textLength="18.90" lengthAdjust="spacing">10</text>
<text x="44.00" y="114.90" font-size="18.00" text-anchor="end" textLength="19.70" lengthAdjust="spacing">10</text>
<text x="134.42" y="185.70" font-size="18.00" text-anchor="middle" textLength="18.90" lengthAdjust="spacing">15</text>
<text x="44.00" y="88.14" font-size="18.00" text-anchor="end" textLength="19.70" lengthAdjust="spacing">15</text>
<text x="161.46" y="185.70" font-size="18.00" text-anchor="middle" textLength="18.90" lengthAdjust="spacing">20</text>
<text x="44.00" y="61.38" font-size="18.00" text-anchor="end" textLength="19.70" lengthAdjust="spacing">20</text>
<text x="117.40" y="25.00" font-size="20.00" text-anchor="middle" textLength="61.56" lengthAdjust="spacing">f814w</text>
<rect class="sp" x="49.75" y="227.70" width="137.00" height="134.55" stroke-width="1.40"/>
<line x1="49.75" y1="362.25" x2="49.75" y2="356.65"/>
<line x1="49.75" y1="227.70" x2="49.75" y2="233.30"/>
<line x1="49.75" y1="362.25" x2="55.35" y2="362.25"/>
<line x1="186.75" y1="362.25" x2="181.15" y2="362.25"/>
<line x1="77.15" y1="362.25" x2="77.15" y2="356.65"/>
<line x1="77.15" y1="227.70" x2="77.15" y2="233.30"/>
<line x1="49.75" y1="335.34" x2="55.35" y2="335.34"/>
<line x1="186.75" y1="335.34" x2="181.15" y2="335.34"/>
<line x1="104.55" y1="362.25" x2="104.55" y2="356.65"/>
<line x1="104.55" y1="227.70" x2="104.55" y2="233.30"/>
<line x1="49.75" y1="308.43" x2="55.35" y2="308.43"/>
<line x1="186.75" y1="308.43" x2="181.15" y2="308.43"/>
<line x1="131.95" y1="362.25" x2="131.95" y2="356.65"/>
<line x1="131.95" y1="227.70" x2="131.95" y2="233.30"/>
<line x1="49.75" y1="281.52" x2="55.35" y2="281.52"/>
<line x1="186.75" y1="281.52" x2="181.15" y2="281.52"/>
<line x1="159.35" y1="362.25" x2="159.35" y2="356.65"/>
<line x1="159.35" y1="227.70" x2="159.35" y2="233.30"/>
<line x1="49.75" y1="254.61" x2="55.35" y2="254.61"/>
<line x1="186.75" y1="254.61" x2="181.15" y2="254.61"/>
<line x1="186.75" y1="362.25" x2="186.75" y2="356.65"/>
<line x1="186.75" y1="227.70" x2="186.75" y2="233.30"/>
<line x1="49.75" y1="227.70" x2="55.35" y2="227.70"/>
<line x1="186.75" y1="227.70" x2="181.15" y2="227.70"/>
<text x="49.75" y="381.55" font-size="18.00" text-anchor="middle" textLength="26.51" lengthAdjust="spacing">0.0</text>
<text x="42.75" y="367.15" font-size="18.00" text-anchor="end" textLength="26.51" lengthAdjust="spacing">0.0</text>
<text x="77.15" y="381.55" font-size="18.00" text-anchor="middle" textLength="26.51" lengthAdjust="spacing">0.2</text>
<text x="42.75" y="340.24" font-size="18.00" text-anchor="end" textLength="26.51" lengthAdjust="spacing">0.2</text>
<text x="104.55" y="381.55" font-size="18.00" text-anchor="middle" textLength="26.51" lengthAdjust="spacing">0.4</text>
<text x="42.75" y="313.33" font-size="18.00" text-anchor="end" textLength="26.51" lengthAdjust="spacing">0.4</text>
<text x="131.95" y="381.55" font-size="18.00" text-anchor="middle" textLength="26.51" lengthAdjust="spacing">0.6</text>
<text x="42.75" y="286.42" font-size="18.00" text-anchor="end" textLength="26.51" lengthAdjust="spacing">0.6</text>
<text x="159.35" y="381.55" font-size="18.00" text-anchor="middle" textLength="26.51" lengthAdjust="spacing">0.8</text>
<text x="42.75" y="259.51" font-size="18.00" text-anchor="end" textLength="26.51" lengthAdjust="spacing">0.8</text>
<text x="186.75" y="381.55" font-size="18.00" text-anchor="middle" textLength="26.51" lengthAdjust="spacing">1.0</text>
<text x="42.75" y="232.60" font-size="18.00" text-anchor="end" textLength="26.51" lengthAdjust="spacing">1.0</text>
<text x="117.45" y="220.30" font-size="20.00" text-anchor="middle" textLength="61.56" lengthAdjust="spacing">f105w</text>
<rect class="sp" x="249.15" y="227.70" width="137.00" height="134.55" stroke-width="1.40"/>
<line x1="249.15" y1="362.25" x2="249.15" y2="356.65"/>
<line x1="249.15" y1="227.70" x2="249.15" y2="233.30"/>
<line x1="249.15" y1="362.25" x2="254.75" y2="362.25"/>
<line x1="386.15" y1="362.25" x2="380.55" y2="362.25"/>
<line x1="276.55" y1="362.25" x2="276.55" y2="356.65"/>
<line x1="276.55" y1="227.70" x2="276.55" y2="233.30"/>
<line x1="249.15" y1="335.34" x2="254.75" y2="335.34"/>
<line x1="386.15" y1="335.34" x2="380.55" y2="335.34"/>
<line x1="303.95" y1="362.25" x2="303.95" y2="356.65"/>
<line x1="303.95" y1="227.70" x2="303.95" y2="233.30"/>
<line x1="249.15" y1="308.43" x2="254.75" y2="308.43"/>
<line x1="386.15" y1="308.43" x2="380.55" y2="308.43"/>
<line x1="331.35" y1="362.25" x2="331.35" y2="356.65"/>
<line x1="331.35" y1="227.70" x2="331.35" y2="233.30"/>
<line x1="249.15" y1="281.52" x2="254.75" y2="281.52"/>
<line x1="386.15" y1="281.52" x2="380.55" y2="281.52"/>
<line x1="358.75" y1="362.25" x2="358.75" y2="356.65"/>
<line x1="358.75" y1="227.70" x2="358.75" y2="233.30"/>
<line x1="249.15" y1="254.61" x2="254.75" y2="254.61"/>
<line x1="386.15" y1="254.61" x2="380.55" y2="254.61"/>
<line x1="386.15" y1="362.25" x2="386.15" y2="356.65"/>
<line x1="386.15" y1="227.70" x2="386.15" y2="233.30"/>
<line x1="249.15" y1="227.70" x2="254.75" y2="227.70"/>
<line x1="386.15" y1="227.70" x2="380.55" y2="227.70"/>
<text x="249.15" y="381.55" font-size="18.00" text-anchor="middle" textLength="26.51" lengthAdjust="spacing">0.0</text>
<text x="242.15" y="367.15" font-size="18.00" text-anchor="end" textLength="26.51" lengthAdjust="spacing">0.0</text>
<text x="276.55" y="381.55" font-size="18.00" text-anchor="middle" textLength="26.51" lengthAdjust="spacing">0.2</text>
<text x="242.15" y="340.24" font-size="18.00" text-anchor="end" textLength="26.51" lengthAdjust="spacing">0.2</text>
<text x="303.95" y="381.55" font-size="18.00" text-anchor="middle" textLength="26.51" lengthAdjust="spacing">0.4</text>
<text x="242.15" y="313.33" font-size="18.00" text-anchor="end" textLength="26.51" lengthAdjust="spacing">0.4</text>
<text x="331.35" y="381.55" font-size="18.00" text-anchor="middle" textLength="26.51" lengthAdjust="spacing">0.6</text>
<text x="242.15" y="286.42" font-size="18.00" text-anchor="end" textLength="26.51" lengthAdjust="spacing">0.6</text>
<text x="358.75" y="381.55" font-size="18.00" text-anchor="middle" textLength="26.51" lengthAdjust="spacing">0.8</text>
<text x="242.15" y="259.51" font-size="18.00" text-anchor="end" textLength="26.51" lengthAdjust="spacing">0.8</text>
<text x="386.15" y="381.55" font-size="18.00" text-anchor="middle" textLength="26.51" lengthAdjust="spacing">1.0</text>
<text x="242.15" y="232.60" font-size="18.00" text-anchor="end" textLength="26.51" lengthAdjust="spacing">1.0</text>
<text x="316.85" y="220.30" font-size="20.00" text-anchor="middle" textLength="61.56" lengthAdjust="spacing">f125w</text>
<rect class="sp" x="448.55" y="227.70" width="137.00" height="134.55" stroke-width="1.40"/>
<line x1="448.55" y1="362.25" x2="448.55" y2="356.65"/>
<line x1="448.55" y1="227.70" x2="448.55" y2="233.30"/>
<line x1="448.55" y1="362.25" x2="454.15" y2="362.25"/>
<line x1="585.55" y1="362.25" x2="579.95" y2="362.25"/>
<line x1="475.95" y1="362.25" x2="475.95" y2="356.65"/>
<line x1="475.95" y1="227.70" x2="475.95" y2="233.30"/>
<line x1="448.55" y1="335.34" x2="454.15" y2="335.34"/>
<line x1="585.55" y1="335.34" x2="579.95" y2="335.34"/>
<line x1="503.35" y1="362.25" x2="503.35" y2="356.65"/>
<line x1="503.35" y1="227.70" x2="503.35" y2="233.30"/>
<line x1="448.55" y1="308.43" x2="454.15" y2="308.43"/>
<line x1="585.55" y1="308.43" x2="579.95" y2="308.43"/>
<line x1="530.75" y1="362.25" x2="530.75" y2="356.65"/>
<line x1="530.75" y1="227.70" x2="530.75" y2="233.30"/>
<line x1="448.55" y1="281.52" x2="454.15" y2="281.52"/>
<line x1="585.55" y1="281.52" x2="579.95" y2="281.52"/>
<line x1="558.15" y1="362.25" x2="558.15" y2="356.65"/>
<line x1="558.15" y1="227.70" x2="558.15" y2="233.30"/>
<line x1="448.55" y1="254.61" x2="454.15" y2="254.61"/>
<line x1="585.55" y1="254.61" x2="579.95" y2="254.61"/>
<line x1="585.55" y1="362.25" x2="585.55" y2="356.65"/>
<line x1="585.55" y1="227.70" x2="585.55" y2="233.30"/>
<line x1="448.55" y1="227.70" x2="454.15" y2="227.70"/>
<line x1="585.55" y1="227.70" x2="579.95" y2="227.70"/>
<text x="448.55" y="381.55" font-size="18.00" text-anchor="middle" textLength="26.51" lengthAdjust="spacing">0.0</text>
<text x="441.55" y="367.15" font-size="18.00" text-anchor="end" textLength="26.51" lengthAdjust="spacing">0.0</text>
<text x="475.95" y="381.55" font-size="18.00" text-anchor="middle" textLength="26.51" lengthAdjust="spacing">0.2</text>
<text x="441.55" y="340.24" font-size="18.00" text-anchor="end" textLength="26.51" lengthAdjust="spacing">0.2</text>
<text x="503.35" y="381.55" font-size="18.00" text-anchor="middle" textLength="26.51" lengthAdjust="spacing">0.4</text>
<text x="441.55" y="313.33" font-size="18.00" text-anchor="end" textLength="26.51" lengthAdjust="spacing">0.4</text>
<text x="530.75" y="381.55" font-size="18.00" text-anchor="middle" textLength="26.51" lengthAdjust="spacing">0.6</text>
<text x="441.55" y="286.42" font-size="18.00" text-anchor="end" textLength="26.51" lengthAdjust="spacing">0.6</text>
<text x="558.15" y="381.55" font-size="18.00" text-anchor="middle" textLength="26.51" lengthAdjust="spacing">0.8</text>
<text x="441.55" y="259.51" font-size="18.00" text-anchor="end" textLength="26.51" lengthAdjust="spacing">0.8</text>
<text x="585.55" y="381.55" font-size="18.00" text-anchor="middle" textLength="26.51" lengthAdjust="spacing">1.0</text>
<text x="441.55" y="232.60" font-size="18.00" text-anchor="end" textLength="26.51" lengthAdjust="spacing">1.0</text>
<text x="516.25" y="220.30" font-size="20.00" text-anchor="middle" textLength="61.56" lengthAdjust="spacing">f140w</text>
<rect class="sp" x="647.95" y="227.70" width="137.00" height="134.55" stroke-width="1.40"/>
<line x1="647.95" y1="362.25" x2="647.95" y2="356.65"/>
<line x1="647.95" y1="227.70" x2="647.95" y2="233.30"/>
<line x1="647.95" y1="362.25" x2="653.55" y2="362.25"/>
<line x1="784.95" y1="362.25" x2="779.35" y2="362.25"/>
<line x1="675.35" y1="362.25" x2="675.35" y2="356.65"/>
<line x1="675.35" y1="227.70" x2="675.35" y2="233.30"/>
<line x1="647.95" y1="335.34" x2="653.55" y2="335.34"/>
<line x1="784.95" y1="335.34" x2="779.35" y2="335.34"/>
<line x1="702.75" y1="362.25" x2="702.75" y2="356.65"/>
<line x1="702.75" y1="227.70" x2="702.75" y2="233.30"/>
<line x1="647.95" y1="308.43" x2="653.55" y2="308.43"/>
<line x1="784.95" y1="308.43" x2="779.35" y2="308.43"/>
<line x1="730.15" y1="362.25" x2="730.15" y2="356.65"/>
<line x1="730.15" y1="227.70" x2="730.15" y2="233.30"/>
<line x1="647.95" y1="281.52" x2="653.55" y2="281.52"/>
<line x1="784.95" y1="281.52" x2="779.35" y2="281.52"/>
<line x1="757.55" y1="362.25" x2="757.55" y2="356.65"/>
<line x1="757.55" y1="227.70" x2="757.55" y2="233.30"/>
<line x1="647.95" y1="254.61" x2="653.55" y2="254.61"/>
<line x1="784.95" y1="254.61" x2="779.35" y2="254.61"/>
<line x1="784.95" y1="362.25" x2="784.95" y2="356.65"/>
<line x1="784.95" y1="227.70" x2="784.95" y2="233.30"/>
<line x1="647.95" y1="227.70" x2="653.55" y2="227.70"/>
<line x1="784.95" y1="227.70" x2="779.35" y2="227.70"/>
<text x="647.95" y="381.55" font-size="18.00" text-anchor="middle" textLength="26.51" lengthAdjust="spacing">0.0</text>
<text x="640.95" y="367.15" font-size="18.00" text-anchor="end" textLength="26.51" lengthAdjust="spacing">0.0</text>
<text x="675.35" y="381.55" font-size="18.00" text-anchor="middle" textLength="26.51" lengthAdjust="spacing">0.2</text>
<text x="640.95" y="340.24" font-size="18.00" text-anchor="end" textLength="26.51" lengthAdjust="spacing">0.2</text>
<text x="702.75" y="381.55" font-size="18.00" text-anchor="middle" textLength="26.51" lengthAdjust="spacing">0.4</text>
<text x="640.95" y="313.33" font-size="18.00" text-anchor="end" textLength="26.51" lengthAdjust="spacing">0.4</text>
<text x="730.15" y="381.55" font-size="18.00" text-anchor="middle" textLength="26.51" lengthAdjust="spacing">0.6</text>
<text x="640.95" y="286.42" font-size="18.00" text-anchor="end" textLength="26.51" lengthAdjust="spacing">0.6</text>
<text x="757.55" y="381.55" font-size="18.00" text-anchor="middle" textLength="26.51" lengthAdjust="spacing">0.8</text>
<text x="640.95" y="259.51" font-size="18.00" text-anchor="end" textLength="26.51" lengthAdjust="spacing">0.8</text>
<text x="784.95" y="381.55" font-size="18.00" text-anchor="middle" textLength="26.51" lengthAdjust="spacing">1.0</text>
<text x="640.95" y="232.60" font-size="18.00" text-anchor="end" textLength="26.51" lengthAdjust="spacing">1.0</text>
<text x="715.65" y="220.30" font-size="20.00" text-anchor="middle" textLength="61.56" lengthAdjust="spacing">f160w</text>
<clipPath id="c2"><rect x="851.20" y="32.20" width="329.20" height="330.10"/></clipPath>
<g shape-rendering="crispEdges" clip-path="url(#c2)">
<rect x="851.20" y="30.80" width="13.77" height="13.86" fill="#2f6c8e"/>
<rect x="864.37" y="30.80" width="13.77" height="13.86" fill="#482475"/>
<rect x="877.54" y="30.80" width="13.77" height="13.86" fill="#463480"/>
<rect x="890.70" y="30.80" width="13.77" height="13.86" fill="#440154"/>
<rect x="903.87" y="30.80" width="13.77" height="13.86" fill="#3b528b"/>
<rect x="917.04" y="30.80" width="13.77" height="13.86" fill="#3b528b"/>
<rect x="930.21" y="30.80" width="13.77" height="13.86" fill="#482475"/>
<rect x="943.38" y="30.80" width="13.77" height="13.86" fill="#414487"/>
<rect x="956.54" y="30.80" width="13.77" height="13.86" fill="#414487"/>
<rect x="969.71" y="30.80" width="13.77" height="13.86" fill="#482475"/>
<rect x="982.88" y="30.80" width="13.77" height="13.86" fill="#414487"/>
<rect x="996.05" y="30.80" width="13.77" height="13.86" fill="#463480"/>
<rect x="1009.22" y="30.80" width="13.77" height="13.86" fill="#3b528b"/>
<rect x="1022.38" y="30.80" width="13.77" height="13.86" fill="#414487"/>
<rect x="1035.55" y="30.80" width="13.77" height="13.86" fill="#355f8d"/>
<rect x="1048.72" y="30.80" width="13.77" height="13.86" fill="#463480"/>
<rect x="1061.89" y="30.80" width="13.77" height="13.86" fill="#2a788e"/>
<rect x="1075.06" y="30.80" width="13.77" height="13.86" fill="#414487"/>
<rect x="1088.22" y="30.80" width="13.77" height="13.86" fill="#440154"/>
<rect x="1101.39" y="30.80" width="13.77" height="13.86" fill="#482475"/>
<rect x="1114.56" y="30.80" width="13.77" height="13.86" fill="#414487"/>
<rect x="1127.73" y="30.80" width="13.77" height="13.86" fill="#463480"/>
<rect x="1140.90" y="30.80" width="13.77" height="13.86" fill="#2f6c8e"/>
<rect x="1154.06" y="30.80" width="13.77" height="13.86" fill="#2f6c8e"/>
<rect x="1167.23" y="30.80" width="13.77" height="13.86" fill="#2a788e"/>
<rect x="851.20" y="44.06" width="13.77" height="13.86" fill="#2f6c8e"/>
<rect x="864.37" y="44.06" width="13.77" height="13.86" fill="#2f6c8e"/>
<rect x="877.54" y="44.06" width="13.77" height="13.86" fill="#355f8d"/>
<rect x="890.70" y="44.06" width="13.77" height="13.86" fill="#3b528b"/>
<rect x="903.87" y="44.06" width="13.77" height="13.86" fill="#2f6c8e"/>
<rect x="917.04" y="44.06" width="13.77" height="13.86" fill="#355f8d"/>
<rect x="930.21" y="44.06" width="13.77" height="13.86" fill="#3b528b"/>
<rect x="943.38" y="44.06" width="13.77" height="13.86" fill="#463480"/>
<rect x="956.54" y="44.06" width="13.77" height="13.86" fill="#414487"/>
<rect x="969.71" y="44.06" width="13.77" height="13.86" fill="#3b528b"/>
<rect x="982.88" y="44.06" width="13.77" height="13.86" fill="#414487"/>
<rect x="996.05" y="44.06" width="13.77" height="13.86" fill="#463480"/>
<rect x="1009.22" y="44.06" width="13.77" height="13.86" fill="#2f6c8e"/>
<rect x="1022.38" y="44.06" width="13.77" height="13.86" fill="#355f8d"/>
<rect x="1035.55" y="44.06" width="13.77" height="13.86" fill="#2a788e"/>
<rect x="1048.72" y="44.06" width="13.77" height="13.86" fill="#3b528b"/>
<rect x="1061.89" y="44.06" width="13.77" height="13.86" fill="#2f6c8e"/>
<rect x="1075.06" y="44.06" width="13.77" height="13.86" fill="#2f6c8e"/>
<rect x="1088.22" y="44.06" width="13.77" height="13.86" fill="#482475"/>
<rect x="1101.39" y="44.06" width="13.77" height="13.86" fill="#3b528b"/>
<rect x="1114.56" y="44.06" width="13.77" height="13.86" fill="#2f6c8e"/>
<rect x="1127.73" y="44.06" width="13.77" height="13.86" fill="#355f8d"/>
<rect x="1140.90" y="44.06" width="13.77" height="13.86" fill="#25848e"/>
<rect x="1154.06" y="44.06" width="13.77" height="13.86" fill="#3b528b"/>
<rect x="1167.23" y="44.06" width="13.77" height="13.86" fill="#355f8d"/>
<rect x="851.20" y="57.32" width="13.77" height="13.86" fill="#414487"/>
<rect x="864.37" y="57.32" width="13.77" height="13.86" fill="#25848e"/>
<rect x="877.54" y="57.32" width="13.77" height="13.86" fill="#2a788e"/>
<rect x="890.70" y="57.32" width="13.77" height="13.86" fill="#2a788e"/>
<rect x="903.87" y="57.32" width="13.77" height="13.86" fill="#355f8d"/>
<rect x="917.04" y="57.32" width="13.77" height="13.86" fill="#3b528b"/>
<rect x="930.21" y="57.32" width="13.77" height="13.86" fill="#471365"/>
<rect x="943.38" y="57.32" width="13.77" height="13.86" fill="#414487"/>
<rect x="956.54" y="57.32" width="13.77" height="13.86" fill="#3b528b"/>
<rect x="969.71" y="57.32" width="13.77" height="13.86" fill="#355f8d"/>
<rect x="982.88" y="57.32" width="13.77" height="13.86" fill="#2a788e"/>
<rect x="996.05" y="57.32" width="13.77" height="13.86" fill="#3b528b"/>
<rect x="1009.22" y="57.32" width="13.77" height="13.86" fill="#2f6c8e"/>
<rect x="1022.38" y="57.32" width="13.77" height="13.86" fill="#2a788e"/>
<rect x="1035.55" y="57.32" width="13.77" height="13.86" fill="#2a788e"/>
<rect x="1048.72" y="57.32" width="13.77" height="13.86" fill="#463480"/>
<rect x="1061.89" y="57.32" width="13.77" height="13.86" fill="#3b528b"/>
<rect x="1075.06" y="57.32" width="13.77" height="13.86" fill="#2a788e"/>
<rect x="1088.22" y="57.32" width="13.77" height="13.86" fill="#2a788e"/>
<rect x="1101.39" y="57.32" width="13.77" height="13.86" fill="#2f6c8e"/>
<rect x="1114.56" y="57.32" width="13.77" height="13.86" fill="#2a788e"/>
<rect x="1127.73" y="57.32" width="13.77" height="13.86" fill="#463480"/>
<rect x="1140.90" y="57.32" width="13.77" height="13.86" fill="#2a788e"/>
<rect x="1154.06" y="57.32" width="13.77" height="13.86" fill="#355f8d"/>
<rect x="1167.23" y="57.32" width="13.77" height="13.86" fill="#3b528b"/>
<rect x="851.20" y="70.58" width="13.77" height="13.86" fill="#2f6c8e"/>
<rect x="864.37" y="70.58" width="13.77" height="13.86" fill="#2f6c8e"/>
<rect x="877.54" y="70.58" width="13.77" height="13.86" fill="#414487"/>
<rect x="890.70" y="70.58" width="13.77" height="13.86" fill="#2f6c8e"/>
<rect x="903.87" y="70.58" width="13.77" height="13.86" fill="#463480"/>
<rect x="917.04" y="70.58" width="13.77" height="13.86" fill="#3b528b"/>
<rect x="930.21" y="70.58" width="13.77" height="13.86" fill="#2f6c8e"/>
<rect x="943.38" y="70.58" width="13.77" height="13.86" fill="#2f6c8e"/>
<rect x="956.54" y="70.58" width="13.77" height="13.86" fill="#3b528b"/>
<rect x="969.71" y="70.58" width="13.77" height="13.86" fill="#463480"/>
<rect x="982.88" y="70.58" width="13.77" height="13.86" fill="#3b528b"/>
<rect x="996.05" y="70.58" width="13.77" height="13.86" fill="#2a788e"/>
<rect x="1009.22" y="70.58" width="13.77" height="13.86" fill="#2f6c8e"/>
<rect x="1022.38" y="70.58" width="13.77" height="13.86" fill="#3b528b"/>
<rect x="1035.55" y="70.58" width="13.77" height="13.86" fill="#2a788e"/>
<rect x="1048.72" y="70.58" width="13.77" height="13.86" fill="#21918c"/>
<rect x="1061.89" y="70.58" width="13.77" height="13.86" fill="#2a788e"/>
<rect x="1075.06" y="70.58" width="13.77" height="13.86" fill="#2f6c8e"/>
<rect x="1088.22" y="70.58" width="13.77" height="13.86" fill="#2a788e"/>
<rect x="1101.39" y="70.58" width="13.77" height="13.86" fill="#2f6c8e"/>
<rect x="1114.56" y="70.58" width="13.77" height="13.86" fill="#1e9c89"/>
<rect x="1127.73" y="70.58" width="13.77" height="13.86" fill="#355f8d"/>
<rect x="1140.90" y="70.58" width="13.77" height="13.86" fill="#2a788e"/>
<rect x="1154.06" y="70.58" width="13.77" height="13.86" fill="#25848e"/>
<rect x="1167.23" y="70.58" width="13.77" height="13.86" fill="#2f6c8e"/>
<rect x="851.20" y="83.84" width="13.77" height="13.86" fill="#2a788e"/>
<rect x="864.37" y="83.84" width="13.77" height="13.86" fill="#2f6c8e"/>
<rect x="877.54" y="83.84" width="13.77" height="13.86" fill="#2a788e"/>
<rect x="890.70" y="83.84" width="13.77" height="13.86" fill="#355f8d"/>
<rect x="903.87" y="83.84" width="13.77" height="13.86" fill="#414487"/>
<rect x="917.04" y="83.84" width="13.77" height="13.86" fill="#3b528b"/>
<rect x="930.21" y="83.84" width="13.77" height="13.86" fill="#25848e"/>
<rect x="943.38" y="83.84" width="13.77" height="13.86" fill="#414487"/>
<rect x="956.54" y="83.84" width="13.77" height="13.86" fill="#2a788e"/>
<rect x="969.71" y="83.84" width="13.77" height="13.86" fill="#25848e"/>
<rect x="982.88" y="83.84" width="13.77" height="13.86" fill="#2f6c8e"/>
<rect x="996.05" y="83.84" width="13.77" height="13.86" fill="#2f6c8e"/>
<rect x="1009.22" y="83.84" width="13.77" height="13.86" fill="#355f8d"/>
<rect x="1022.38" y="83.84" width="13.77" height="13.86" fill="#21918c"/>
<rect x="1035.55" y="83.84" width="13.77" height="13.86" fill="#2a788e"/>
<rect x="1048.72" y="83.84" width="13.77" height="13.86" fill="#2f6c8e"/>
<rect x="1061.89" y="83.84" width="13.77" height="13.86" fill="#2f6c8e"/>
<rect x="1075.06" y="83.84" width="13.77" height="13.86" fill="#2f6c8e"/>
<rect x="1088.22" y="83.84" width="13.77" height="13.86" fill="#25848e"/>
<rect x="1101.39" y="83.84" width="13.77" height="13.86" fill="#2a788e"/>
<rect x="1114.56" y="83.84" width="13.77" height="13.86" fill="#2f6c8e"/>
<rect x="1127.73" y="83.84" width="13.77" height="13.86" fill="#2a788e"/>
<rect x="1140.90" y="83.84" width="13.77" height="13.86" fill="#2a788e"/>
<rect x="1154.06" y="83.84" width="13.77" height="13.86" fill="#355f8d"/>
<rect x="1167.23" y="83.84" width="13.77" height="13.86" fill="#2f6c8e"/>
<rect x="851.20" y="97.10" width="13.77" height="13.86" fill="#463480"/>
<rect x="864.37" y="97.10" width="13.77" height="13.86" fill="#21918c"/>
<rect x="877.54" y="97.10" width="13.77" height="13.86" fill="#2f6c8e"/>
<rect x="890.70" y="97.10" width="13.77" height="13.86" fill="#3b528b"/>
<rect x="903.87" y="97.10" width="13.77" height="13.86" fill="#414487"/>
<rect x="917.04" y="97.10" width="13.77" height="13.86" fill="#3b528b"/>
<rect x="930.21" y="97.10" width="13.77" height="13.86" fill="#2f6c8e"/>
<rect x="943.38" y="97.10" width="13.77" height="13.86" fill="#2f6c8e"/>
<rect x="956.54" y="97.10" width="13.77" height="13.86" fill="#2a788e"/>
<rect x="969.71" y="97.10" width="13.77" height="13.86" fill="#2a788e"/>
<rect x="982.88" y="97.10" width="13.77" height="13.86" fill="#25848e"/>
<rect x="996.05" y="97.10" width="13.77" height="13.86" fill="#25848e"/>
<rect x="1009.22" y="97.10" width="13.77" height="13.86" fill="#3b528b"/>
<rect x="1022.38" y="97.10" width="13.77" height="13.86" fill="#2a788e"/>
<rect x="1035.55" y="97.10" width="13.77" height="13.86" fill="#2f6c8e"/>
<rect x="1048.72" y="97.10" width="13.77" height="13.86" fill="#2a788e"/>
<rect x="1061.89" y="97.10" width="13.77" height="13.86" fill="#2f6c8e"/>
<rect x="1075.06" y="97.10" width="13.77" height="13.86" fill="#355f8d"/>
<rect x="1088.22" y="97.10" width="13.77" height="13.86" fill="#2f6c8e"/>
<rect x="1101.39" y="97.10" width="13.77" height="13.86" fill="#355f8d"/>
<rect x="1114.56" y="97.10" width="13.77" height="13.86" fill="#463480"/>
<rect x="1127.73" y="97.10" width="13.77" height="13.86" fill="#414487"/>
<rect x="1140.90" y="97.10" width="13.77" height="13.86" fill="#355f8d"/>
<rect x="1154.06" y="97.10" width="13.77" height="13.86" fill="#355f8d"/>
<rect x="1167.23" y="97.10" width="13.77" height="13.86" fill="#3b528b"/>
<rect x="851.20" y="110.36" width="13.77" height="13.86" fill="#2f6c8e"/>
<rect x="864.37" y="110.36" width="13.77" height="13.86" fill="#3b528b"/>
<rect x="877.54" y="110.36" width="13.77" height="13.86" fill="#463480"/>
<rect x="890.70" y="110.36" width="13.77" height="13.86" fill="#355f8d"/>
<rect x="903.87" y="110.36" width="13.77" height="13.86" fill="#3b528b"/>
<rect x="917.04" y="110.36" width="13.77" height="13.86" fill="#2f6c8e"/>
<rect x="930.21" y="110.36" width="13.77" height="13.86" fill="#355f8d"/>
<rect x="943.38" y="110.36" width="13.77" height="13.86" fill="#2f6c8e"/>
<rect x="956.54" y="110.36" width="13.77" height="13.86" fill="#2a788e"/>
<rect x="969.71" y="110.36" width="13.77" height="13.86" fill="#2f6c8e"/>
<rect x="982.88" y="110.36" width="13.77" height="13.86" fill="#1e9c89"/>
<rect x="996.05" y="110.36" width="13.77" height="13.86" fill="#2a788e"/>
<rect x="1009.22" y="110.36" width="13.77" height="13.86" fill="#355f8d"/>
<rect x="1022.38" y="110.36" width="13.77" height="13.86" fill="#2a788e"/>
<rect x="1035.55" y="110.36" width="13.77" height="13.86" fill="#2a788e"/>
<rect x="1048.72" y="110.36" width="13.77" height="13.86" fill="#2f6c8e"/>
<rect x="1061.89" y="110.36" width="13.77" height="13.86" fill="#355f8d"/>
<rect x="1075.06" y="110.36" width="13.77" height="13.86" fill="#355f8d"/>
<rect x="1088.22" y="110.36" width="13.77" height="13.86" fill="#3b528b"/>
<rect x="1101.39" y="110.36" width="13.77" height="13.86" fill="#2a788e"/>
<rect x="1114.56" y="110.36" width="13.77" height="13.86" fill="#2a788e"/>
<rect x="1127.73" y="110.36" width="13.77" height="13.86" fill="#2f6c8e"/>
<rect x="1140.90" y="110.36" width="13.77" height="13.86" fill="#414487"/>
<rect x="1154.06" y="110.36" width="13.77" height="13.86" fill="#355f8d"/>
<rect x="1167.23" y="110.36" width="13.77" height="13.86" fill="#3b528b"/>
<rect x="851.20" y="123.62" width="13.77" height="13.86" fill="#463480"/>
<rect x="864.37" y="123.62" width="13.77" height="13.86" fill="#2a788e"/>
<rect x="877.54" y="123.62" width="13.77" height="13.86" fill="#21918c"/>
<rect x="890.70" y="123.62" width="13.77" height="13.86" fill="#414487"/>
<rect x="903.87" y="123.62" width="13.77" height="13.86" fill="#3b528b"/>
<rect x="917.04" y="123.62" width="13.77" height="13.86" fill="#25848e"/>
<rect x="930.21" y="123.62" width="13.77" height="13.86" fill="#2a788e"/>
<rect x="943.38" y="123.62" width="13.77" height="13.86" fill="#2a788e"/>
<rect x="956.54" y="123.62" width="13.77" height="13.86" fill="#1e9c89"/>
<rect x="969.71" y="123.62" width="13.77" height="13.86" fill="#2a788e"/>
<rect x="982.88" y="123.62" width="13.77" height="13.86" fill="#2a788e"/>
<rect x="996.05" y="123.62" width="13.77" height="13.86" fill="#25848e"/>
<rect x="1009.22" y="123.62" width="13.77" height="13.86" fill="#25848e"/>
<rect x="1022.38" y="123.62" width="13.77" height="13.86" fill="#25848e"/>
<rect x="1035.55" y="123.62" width="13.77" height="13.86" fill="#2f6c8e"/>
<rect x="1048.72" y="123.62" width="13.77" height="13.86" fill="#2f6c8e"/>
<rect x="1061.89" y="123.62" width="13.77" height="13.86" fill="#3b528b"/>
<rect x="1075.06" y="123.62" width="13.77" height="13.86" fill="#2f6c8e"/>
<rect x="1088.22" y="123.62" width="13.77" height="13.86" fill="#2a788e"/>
<rect x="1101.39" y="123.62" width="13.77" height="13.86" fill="#3b528b"/>
<rect x="1114.56" y="123.62" width="13.77" height="13.86" fill="#2f6c8e"/>
<rect x="1127.73" y="123.62" width="13.77" height="13.86" fill="#2f6c8e"/>
<rect x="1140.90" y="123.62" width="13.77" height="13.86" fill="#463480"/>
<rect x="1154.06" y="123.62" width="13.77" height="13.86" fill="#463480"/>
<rect x="1167.23" y="123.62" width="13.77" height="13.86" fill="#2a788e"/>
<rect x="851.20" y="136.88" width="13.77" height="13.86" fill="#2a788e"/>
<rect x="864.37" y="136.88" width="13.77" height="13.86" fill="#2a788e"/>
<rect x="877.54" y="136.88" width="13.77" height="13.86" fill="#2f6c8e"/>
<rect x="890.70" y="136.88" width="13.77" height="13.86" fill="#2a788e"/>
<rect x="903.87" y="136.88" width="13.77" height="13.86" fill="#355f8d"/>
<rect x="917.04" y="136.88" width="13.77" height="13.86" fill="#2a788e"/>
<rect x="930.21" y="136.88" width="13.77" height="13.86" fill="#2f6c8e"/>
<rect x="943.38" y="136.88" width="13.77" height="13.86" fill="#25848e"/>
<rect x="956.54" y="136.88" width="13.77" height="13.86" fill="#25848e"/>
<rect x="969.71" y="136.88" width="13.77" height="13.86" fill="#1e9c89"/>
<rect x="982.88" y="136.88" width="13.77" height="13.86" fill="#25848e"/>
<rect x="996.05" y="136.88" width="13.77" height="13.86" fill="#25848e"/>
<rect x="1009.22" y="136.88" width="13.77" height="13.86" fill="#2a788e"/>
<rect x="1022.38" y="136.88" width="13.77" height="13.86" fill="#25848e"/>
<rect x="1035.55" y="136.88" width="13.77" height="13.86" fill="#25848e"/>
<rect x="1048.72" y="136.88" width="13.77" height="13.86" fill="#2a788e"/>
<rect x="1061.89" y="136.88" width="13.77" height="13.86" fill="#21918c"/>
<rect x="1075.06" y="136.88" width="13.77" height="13.86" fill="#2f6c8e"/>
<rect x="1088.22" y="136.88" width="13.77" height="13.86" fill="#2a788e"/>
<rect x="1101.39" y="136.88" width="13.77" height="13.86" fill="#2f6c8e"/>
<rect x="1114.56" y="136.88" width="13.77" height="13.86" fill="#2f6c8e"/>
<rect x="1127.73" y="136.88" width="13.77" height="13.86" fill="#2f6c8e"/>
<rect x="1140.90" y="136.88" width="13.77" height="13.86" fill="#2f6c8e"/>
<rect x="1154.06" y="136.88" width="13.77" height="13.86" fill="#463480"/>
<rect x="1167.23" y="136.88" width="13.77" height="13.86" fill="#2a788e"/>
<rect x="851.20" y="150.14" width="13.77" height="13.86" fill="#355f8d"/>
<rect x="864.37" y="150.14" width="13.77" height="13.86" fill="#355f8d"/>
<rect x="877.54" y="150.14" width="13.77" height="13.86" fill="#3b528b"/>
<rect x="890.70" y="150.14" width="13.77" height="13.86" fill="#2a788e"/>
<rect x="903.87" y="150.14" width="13.77" height="13.86" fill="#355f8d"/>
<rect x="917.04" y="150.14" width="13.77" height="13.86" fill="#2f6c8e"/>
<rect x="930.21" y="150.14" width="13.77" height="13.86" fill="#414487"/>
<rect x="943.38" y="150.14" width="13.77" height="13.86" fill="#21918c"/>
<rect x="956.54" y="150.14" width="13.77" height="13.86" fill="#2a788e"/>
<rect x="969.71" y="150.14" width="13.77" height="13.86" fill="#1e9c89"/>
<rect x="982.88" y="150.14" width="13.77" height="13.86" fill="#21918c"/>
<rect x="996.05" y="150.14" width="13.77" height="13.86" fill="#1e9c89"/>
<rect x="1009.22" y="150.14" width="13.77" height="13.86" fill="#1e9c89"/>
<rect x="1022.38" y="150.14" width="13.77" height="13.86" fill="#2a788e"/>
<rect x="1035.55" y="150.14" width="13.77" height="13.86" fill="#21918c"/>
<rect x="1048.72" y="150.14" width="13.77" height="13.86" fill="#2f6c8e"/>
<rect x="1061.89" y="150.14" width="13.77" height="13.86" fill="#25848e"/>
<rect x="1075.06" y="150.14" width="13.77" height="13.86" fill="#25848e"/>
<rect x="1088.22" y="150.14" width="13.77" height="13.86" fill="#25848e"/>
<rect x="1101.39" y="150.14" width="13.77" height="13.86" fill="#21918c"/>
<rect x="1114.56" y="150.14" width="13.77" height="13.86" fill="#21918c"/>
<rect x="1127.73" y="150.14" width="13.77" height="13.86" fill="#21918c"/>
<rect x="1140.90" y="150.14" width="13.77" height="13.86" fill="#2a788e"/>
<rect x="1154.06" y="150.14" width="13.77" height="13.86" fill="#2f6c8e"/>
<rect x="1167.23" y="150.14" width="13.77" height="13.86" fill="#25848e"/>
<rect x="851.20" y="163.40" width="13.77" height="13.86" fill="#463480"/>
<rect x="864.37" y="163.40" width="13.77" height="13.86" fill="#3b528b"/>
<rect x="877.54" y="163.40" width="13.77" height="13.86" fill="#2a788e"/>
<rect x="890.70" y="163.40" width="13.77" height="13.86" fill="#25848e"/>
<rect x="903.87" y="163.40" width="13.77" height="13.86" fill="#2a788e"/>
<rect x="917.04" y="163.40" width="13.77" height="13.86" fill="#25848e"/>
<rect x="930.21" y="163.40" width="13.77" height="13.86" fill="#2a788e"/>
<rect x="943.38" y="163.40" width="13.77" height="13.86" fill="#25848e"/>
<rect x="956.54" y="163.40" width="13.77" height="13.86" fill="#1e9c89"/>
<rect x="969.71" y="163.40" width="13.77" height="13.86" fill="#2fb47c"/>
<rect x="982.88" y="163.40" width="13.77" height="13.86" fill="#7ad151"/>
<rect x="996.05" y="163.40" width="13.77" height="13.86" fill="#5ec962"/>
<rect x="1009.22" y="163.40" width="13.77" height="13.86" fill="#5ec962"/>
<rect x="1022.38" y="163.40" width="13.77" height="13.86" fill="#2fb47c"/>
<rect x="1035.55" y="163.40" width="13.77" height="13.86" fill="#1e9c89"/>
<rect x="1048.72" y="163.40" width="13.77" height="13.86" fill="#1e9c89"/>
<rect x="1061.89" y="163.40" width="13.77" height="13.86" fill="#22a884"/>
<rect x="1075.06" y="163.40" width="13.77" height="13.86" fill="#22a884"/>
<rect x="1088.22" y="163.40" width="13.77" height="13.86" fill="#2fb47c"/>
<rect x="1101.39" y="163.40" width="13.77" height="13.86" fill="#1e9c89"/>
<rect x="1114.56" y="163.40" width="13.77" height="13.86" fill="#25848e"/>
<rect x="1127.73" y="163.40" width="13.77" height="13.86" fill="#21918c"/>
<rect x="1140.90" y="163.40" width="13.77" height="13.86" fill="#2a788e"/>
<rect x="1154.06" y="163.40" width="13.77" height="13.86" fill="#25848e"/>
<rect x="1167.23" y="163.40" width="13.77" height="13.86" fill="#2f6c8e"/>
<rect x="851.20" y="176.66" width="13.77" height="13.86" fill="#482475"/>
<rect x="864.37" y="176.66" width="13.77" height="13.86" fill="#2a788e"/>
<rect x="877.54" y="176.66" width="13.77" height="13.86" fill="#2f6c8e"/>
<rect x="890.70" y="176.66" width="13.77" height="13.86" fill="#2f6c8e"/>
<rect x="903.87" y="176.66" width="13.77" height="13.86" fill="#3b528b"/>
<rect x="917.04" y="176.66" width="13.77" height="13.86" fill="#2f6c8e"/>
<rect x="930.21" y="176.66" width="13.77" height="13.86" fill="#355f8d"/>
<rect x="943.38" y="176.66" width="13.77" height="13.86" fill="#2a788e"/>
<rect x="956.54" y="176.66" width="13.77" height="13.86" fill="#2a788e"/>
<rect x="969.71" y="176.66" width="13.77" height="13.86" fill="#1e9c89"/>
<rect x="982.88" y="176.66" width="13.77" height="13.86" fill="#7ad151"/>
<rect x="996.05" y="176.66" width="13.77" height="13.86" fill="#9bd93c"/>
<rect x="1009.22" y="176.66" width="13.77" height="13.86" fill="#bddf26"/>
<rect x="1022.38" y="176.66" width="13.77" height="13.86" fill="#bddf26"/>
<rect x="1035.55" y="176.66" width="13.77" height="13.86" fill="#44bf70"/>
<rect x="1048.72" y="176.66" width="13.77" height="13.86" fill="#5ec962"/>
<rect x="1061.89" y="176.66" width="13.77" height="13.86" fill="#7ad151"/>
<rect x="1075.06" y="176.66" width="13.77" height="13.86" fill="#9bd93c"/>
<rect x="1088.22" y="176.66" width="13.77" height="13.86" fill="#5ec962"/>
<rect x="1101.39" y="176.66" width="13.77" height="13.86" fill="#22a884"/>
<rect x="1114.56" y="176.66" width="13.77" height="13.86" fill="#1e9c89"/>
<rect x="1127.73" y="176.66" width="13.77" height="13.86" fill="#1e9c89"/>
<rect x="1140.90" y="176.66" width="13.77" height="13.86" fill="#25848e"/>
<rect x="1154.06" y="176.66" width="13.77" height="13.86" fill="#355f8d"/>
<rect x="1167.23" y="176.66" width="13.77" height="13.86" fill="#25848e"/>
<rect x="851.20" y="189.92" width="13.77" height="13.86" fill="#471365"/>
<rect x="864.37" y="189.92" width="13.77" height="13.86" fill="#355f8d"/>
<rect x="877.54" y="189.92" width="13.77" height="13.86" fill="#463480"/>
<rect x="890.70" y="189.92" width="13.77" height="13.86" fill="#414487"/>
<rect x="903.87" y="189.92" width="13.77" height="13.86" fill="#2f6c8e"/>
<rect x="917.04" y="189.92" width="13.77" height="13.86" fill="#2a788e"/>
<rect x="930.21" y="189.92" width="13.77" height="13.86" fill="#2f6c8e"/>
<rect x="943.38" y="189.92" width="13.77" height="13.86" fill="#2f6c8e"/>
<rect x="956.54" y="189.92" width="13.77" height="13.86" fill="#25848e"/>
<rect x="969.71" y="189.92" width="13.77" height="13.86" fill="#25848e"/>
<rect x="982.88" y="189.92" width="13.77" height="13.86" fill="#22a884"/>
<rect x="996.05" y="189.92" width="13.77" height="13.86" fill="#5ec962"/>
<rect x="1009.22" y="189.92" width="13.77" height="13.86" fill="#dfe318"/>
<rect x="1022.38" y="189.92" width="13.77" height="13.86" fill="#fde725"/>
<rect x="1035.55" y="189.92" width="13.77" height="13.86" fill="#9bd93c"/>
<rect x="1048.72" y="189.92" width="13.77" height="13.86" fill="#7ad151"/>
<rect x="1061.89" y="189.92" width="13.77" height="13.86" fill="#5ec962"/>
<rect x="1075.06" y="189.92" width="13.77" height="13.86" fill="#bddf26"/>
<rect x="1088.22" y="189.92" width="13.77" height="13.86" fill="#dfe318"/>
<rect x="1101.39" y="189.92" width="13.77" height="13.86" fill="#9bd93c"/>
<rect x="1114.56" y="189.92" width="13.77" height="13.86" fill="#5ec962"/>
<rect x="1127.73" y="189.92" width="13.77" height="13.86" fill="#44bf70"/>
<rect x="1140.90" y="189.92" width="13.77" height="13.86" fill="#22a884"/>
<rect x="1154.06" y="189.92" width="13.77" height="13.86" fill="#25848e"/>
<rect x="1167.23" y="189.92" width="13.77" height="13.86" fill="#2f6c8e"/>
<rect x="851.20" y="203.18" width="13.77" height="13.86" fill="#3b528b"/>
<rect x="864.37" y="203.18" width="13.77" height="13.86" fill="#463480"/>
<rect x="877.54" y="203.18" width="13.77" height="13.86" fill="#3b528b"/>
<rect x="890.70" y="203.18" width="13.77" height="13.86" fill="#3b528b"/>
<rect x="903.87" y="203.18" width="13.77" height="13.86" fill="#414487"/>
<rect x="917.04" y="203.18" width="13.77" height="13.86" fill="#2a788e"/>
<rect x="930.21" y="203.18" width="13.77" height="13.86" fill="#414487"/>
<rect x="943.38" y="203.18" width="13.77" height="13.86" fill="#355f8d"/>
<rect x="956.54" y="203.18" width="13.77" height="13.86" fill="#25848e"/>
<rect x="969.71" y="203.18" width="13.77" height="13.86" fill="#25848e"/>
<rect x="982.88" y="203.18" width="13.77" height="13.86" fill="#22a884"/>
<rect x="996.05" y="203.18" width="13.77" height="13.86" fill="#22a884"/>
<rect x="1009.22" y="203.18" width="13.77" height="13.86" fill="#7ad151"/>
<rect x="1022.38" y="203.18" width="13.77" height="13.86" fill="#dfe318"/>
<rect x="1035.55" y="203.18" width="13.77" height="13.86" fill="#9bd93c"/>
<rect x="1048.72" y="203.18" width="13.77" height="13.86" fill="#7ad151"/>
<rect x="1061.89" y="203.18" width="13.77" height="13.86" fill="#9bd93c"/>
<rect x="1075.06" y="203.18" width="13.77" height="13.86" fill="#fde725"/>
<rect x="1088.22" y="203.18" width="13.77" height="13.86" fill="#fde725"/>
<rect x="1101.39" y="203.18" width="13.77" height="13.86" fill="#bddf26"/>
<rect x="1114.56" y="203.18" width="13.77" height="13.86" fill="#9bd93c"/>
<rect x="1127.73" y="203.18" width="13.77" height="13.86" fill="#5ec962"/>
<rect x="1140.90" y="203.18" width="13.77" height="13.86" fill="#22a884"/>
<rect x="1154.06" y="203.18" width="13.77" height="13.86" fill="#25848e"/>
<rect x="1167.23" y="203.18" width="13.77" height="13.86" fill="#3b528b"/>
<rect x="851.20" y="216.44" width="13.77" height="13.86" fill="#463480"/>
<rect x="864.37" y="216.44" width="13.77" height="13.86" fill="#414487"/>
<rect x="877.54" y="216.44" width="13.77" height="13.86" fill="#2f6c8e"/>
<rect x="890.70" y="216.44" width="13.77" height="13.86" fill="#2f6c8e"/>
<rect x="903.87" y="216.44" width="13.77" height="13.86" fill="#355f8d"/>
<rect x="917.04" y="216.44" width="13.77" height="13.86" fill="#2f6c8e"/>
<rect x="930.21" y="216.44" width="13.77" height="13.86" fill="#2a788e"/>
<rect x="943.38" y="216.44" width="13.77" height="13.86" fill="#2f6c8e"/>
<rect x="956.54" y="216.44" width="13.77" height="13.86" fill="#2f6c8e"/>
<rect x="969.71" y="216.44" width="13.77" height="13.86" fill="#2a788e"/>
<rect x="982.88" y="216.44" width="13.77" height="13.86" fill="#2f6c8e"/>
<rect x="996.05" y="216.44" width="13.77" height="13.86" fill="#25848e"/>
<rect x="1009.22" y="216.44" width="13.77" height="13.86" fill="#22a884"/>
<rect x="1022.38" y="216.44" width="13.77" height="13.86" fill="#2fb47c"/>
<rect x="1035.55" y="216.44" width="13.77" height="13.86" fill="#5ec962"/>
<rect x="1048.72" y="216.44" width="13.77" height="13.86" fill="#7ad151"/>
<rect x="1061.89" y="216.44" width="13.77" height="13.86" fill="#bddf26"/>
<rect x="1075.06" y="216.44" width="13.77" height="13.86" fill="#fde725"/>
<rect x="1088.22" y="216.44" width="13.77" height="13.86" fill="#fde725"/>
<rect x="1101.39" y="216.44" width="13.77" height="13.86" fill="#fde725"/>
<rect x="1114.56" y="216.44" width="13.77" height="13.86" fill="#fde725"/>
<rect x="1127.73" y="216.44" width="13.77" height="13.86" fill="#9bd93c"/>
<rect x="1140.90" y="216.44" width="13.77" height="13.86" fill="#22a884"/>
<rect x="1154.06" y="216.44" width="13.77" height="13.86" fill="#25848e"/>
<rect x="1167.23" y="216.44" width="13.77" height="13.86" fill="#25848e"/>
<rect x="851.20" y="229.70" width="13.77" height="13.86" fill="#3b528b"/>
<rect x="864.37" y="229.70" width="13.77" height="13.86" fill="#414487"/>
<rect x="877.54" y="229.70" width="13.77" height="13.86" fill="#463480"/>
<rect x="890.70" y="229.70" width="13.77" height="13.86" fill="#2f6c8e"/>
<rect x="903.87" y="229.70" width="13.77" height="13.86" fill="#3b528b"/>
<rect x="917.04" y="229.70" width="13.77" height="13.86" fill="#355f8d"/>
<rect x="930.21" y="229.70" width="13.77" height="13.86" fill="#2f6c8e"/>
<rect x="943.38" y="229.70" width="13.77" height="13.86" fill="#2f6c8e"/>
<rect x="956.54" y="229.70" width="13.77" height="13.86" fill="#355f8d"/>
<rect x="969.71" y="229.70" width="13.77" height="13.86" fill="#2a788e"/>
<rect x="982.88" y="229.70" width="13.77" height="13.86" fill="#463480"/>
<rect x="996.05" y="229.70" width="13.77" height="13.86" fill="#25848e"/>
<rect x="1009.22" y="229.70" width="13.77" height="13.86" fill="#1e9c89"/>
<rect x="1022.38" y="229.70" width="13.77" height="13.86" fill="#2fb47c"/>
<rect x="1035.55" y="229.70" width="13.77" height="13.86" fill="#2fb47c"/>
<rect x="1048.72" y="229.70" width="13.77" height="13.86" fill="#5ec962"/>
<rect x="1061.89" y="229.70" width="13.77" height="13.86" fill="#5ec962"/>
<rect x="1075.06" y="229.70" width="13.77" height="13.86" fill="#bddf26"/>
<rect x="1088.22" y="229.70" width="13.77" height="13.86" fill="#fde725"/>
<rect x="1101.39" y="229.70" width="13.77" height="13.86" fill="#fde725"/>
<rect x="1114.56" y="229.70" width="13.77" height="13.86" fill="#fde725"/>
<rect x="1127.73" y="229.70" width="13.77" height="13.86" fill="#7ad151"/>
<rect x="1140.90" y="229.70" width="13.77" height="13.86" fill="#2fb47c"/>
<rect x="1154.06" y="229.70" width="13.77" height="13.86" fill="#1e9c89"/>
<rect x="1167.23" y="229.70" width="13.77" height="13.86" fill="#2f6c8e"/>
<rect x="851.20" y="242.96" width="13.77" height="13.86" fill="#482475"/>
<rect x="864.37" y="242.96" width="13.77" height="13.86" fill="#463480"/>
<rect x="877.54" y="242.96" width="13.77" height="13.86" fill="#3b528b"/>
<rect x="890.70" y="242.96" width="13.77" height="13.86" fill="#482475"/>
<rect x="903.87" y="242.96" width="13.77" height="13.86" fill="#355f8d"/>
<rect x="917.04" y="242.96" width="13.77" height="13.86" fill="#355f8d"/>
<rect x="930.21" y="242.96" width="13.77" height="13.86" fill="#414487"/>
<rect x="943.38" y="242.96" width="13.77" height="13.86" fill="#414487"/>
<rect x="956.54" y="242.96" width="13.77" height="13.86" fill="#25848e"/>
<rect x="969.71" y="242.96" width="13.77" height="13.86" fill="#355f8d"/>
<rect x="982.88" y="242.96" width="13.77" height="13.86" fill="#355f8d"/>
<rect x="996.05" y="242.96" width="13.77" height="13.86" fill="#414487"/>
<rect x="1009.22" y="242.96" width="13.77" height="13.86" fill="#2a788e"/>
<rect x="1022.38" y="242.96" width="13.77" height="13.86" fill="#25848e"/>
<rect x="1035.55" y="242.96" width="13.77" height="13.86" fill="#1e9c89"/>
<rect x="1048.72" y="242.96" width="13.77" height="13.86" fill="#2fb47c"/>
<rect x="1061.89" y="242.96" width="13.77" height="13.86" fill="#44bf70"/>
<rect x="1075.06" y="242.96" width="13.77" height="13.86" fill="#2fb47c"/>
<rect x="1088.22" y="242.96" width="13.77" height="13.86" fill="#7ad151"/>
<rect x="1101.39" y="242.96" width="13.77" height="13.86" fill="#bddf26"/>
<rect x="1114.56" y="242.96" width="13.77" height="13.86" fill="#bddf26"/>
<rect x="1127.73" y="242.96" width="13.77" height="13.86" fill="#5ec962"/>
<rect x="1140.90" y="242.96" width="13.77" height="13.86" fill="#1e9c89"/>
<rect x="1154.06" y="242.96" width="13.77" height="13.86" fill="#25848e"/>
<rect x="1167.23" y="242.96" width="13.77" height="13.86" fill="#2f6c8e"/>
<rect x="851.20" y="256.22" width="13.77" height="13.86" fill="#2f6c8e"/>
<rect x="864.37" y="256.22" width="13.77" height="13.86" fill="#463480"/>
<rect x="877.54" y="256.22" width="13.77" height="13.86" fill="#3b528b"/>
<rect x="890.70" y="256.22" width="13.77" height="13.86" fill="#2f6c8e"/>
<rect x="903.87" y="256.22" width="13.77" height="13.86" fill="#355f8d"/>
<rect x="917.04" y="256.22" width="13.77" height="13.86" fill="#414487"/>
<rect x="930.21" y="256.22" width="13.77" height="13.86" fill="#355f8d"/>
<rect x="943.38" y="256.22" width="13.77" height="13.86" fill="#463480"/>
<rect x="956.54" y="256.22" width="13.77" height="13.86" fill="#3b528b"/>
<rect x="969.71" y="256.22" width="13.77" height="13.86" fill="#2f6c8e"/>
<rect x="982.88" y="256.22" width="13.77" height="13.86" fill="#2a788e"/>
<rect x="996.05" y="256.22" width="13.77" height="13.86" fill="#2f6c8e"/>
<rect x="1009.22" y="256.22" width="13.77" height="13.86" fill="#2f6c8e"/>
<rect x="1022.38" y="256.22" width="13.77" height="13.86" fill="#355f8d"/>
<rect x="1035.55" y="256.22" width="13.77" height="13.86" fill="#1e9c89"/>
<rect x="1048.72" y="256.22" width="13.77" height="13.86" fill="#1e9c89"/>
<rect x="1061.89" y="256.22" width="13.77" height="13.86" fill="#2fb47c"/>
<rect x="1075.06" y="256.22" width="13.77" height="13.86" fill="#21918c"/>
<rect x="1088.22" y="256.22" width="13.77" height="13.86" fill="#2fb47c"/>
<rect x="1101.39" y="256.22" width="13.77" height="13.86" fill="#44bf70"/>
<rect x="1114.56" y="256.22" width="13.77" height="13.86" fill="#5ec962"/>
<rect x="1127.73" y="256.22" width="13.77" height="13.86" fill="#2fb47c"/>
<rect x="1140.90" y="256.22" width="13.77" height="13.86" fill="#22a884"/>
<rect x="1154.06" y="256.22" width="13.77" height="13.86" fill="#1e9c89"/>
<rect x="1167.23" y="256.22" width="13.77" height="13.86" fill="#3b528b"/>
<rect x="851.20" y="269.48" width="13.77" height="13.86" fill="#3b528b"/>
<rect x="864.37" y="269.48" width="13.77" height="13.86" fill="#2f6c8e"/>
<rect x="877.54" y="269.48" width="13.77" height="13.86" fill="#482475"/>
<rect x="890.70" y="269.48" width="13.77" height="13.86" fill="#3b528b"/>
<rect x="903.87" y="269.48" width="13.77" height="13.86" fill="#2f6c8e"/>
<rect x="917.04" y="269.48" width="13.77" height="13.86" fill="#440154"/>
<rect x="930.21" y="269.48" width="13.77" height="13.86" fill="#355f8d"/>
<rect x="943.38" y="269.48" width="13.77" height="13.86" fill="#355f8d"/>
<rect x="956.54" y="269.48" width="13.77" height="13.86" fill="#482475"/>
<rect x="969.71" y="269.48" width="13.77" height="13.86" fill="#414487"/>
<rect x="982.88" y="269.48" width="13.77" height="13.86" fill="#414487"/>
<rect x="996.05" y="269.48" width="13.77" height="13.86" fill="#2f6c8e"/>
<rect x="1009.22" y="269.48" width="13.77" height="13.86" fill="#2f6c8e"/>
<rect x="1022.38" y="269.48" width="13.77" height="13.86" fill="#414487"/>
<rect x="1035.55" y="269.48" width="13.77" height="13.86" fill="#25848e"/>
<rect x="1048.72" y="269.48" width="13.77" height="13.86" fill="#25848e"/>
<rect x="1061.89" y="269.48" width="13.77" height="13.86" fill="#2a788e"/>
<rect x="1075.06" y="269.48" width="13.77" height="13.86" fill="#1e9c89"/>
<rect x="1088.22" y="269.48" width="13.77" height="13.86" fill="#1e9c89"/>
<rect x="1101.39" y="269.48" width="13.77" height="13.86" fill="#22a884"/>
<rect x="1114.56" y="269.48" width="13.77" height="13.86" fill="#22a884"/>
<rect x="1127.73" y="269.48" width="13.77" height="13.86" fill="#22a884"/>
<rect x="1140.90" y="269.48" width="13.77" height="13.86" fill="#25848e"/>
<rect x="1154.06" y="269.48" width="13.77" height="13.86" fill="#2f6c8e"/>
<rect x="1167.23" y="269.48" width="13.77" height="13.86" fill="#2a788e"/>
<rect x="851.20" y="282.74" width="13.77" height="13.86" fill="#414487"/>
<rect x="864.37" y="282.74" width="13.77" height="13.86" fill="#2f6c8e"/>
<rect x="877.54" y="282.74" width="13.77" height="13.86" fill="#482475"/>
<rect x="890.70" y="282.74" width="13.77" height="13.86" fill="#463480"/>
<rect x="903.87" y="282.74" width="13.77" height="13.86" fill="#21918c"/>
<rect x="917.04" y="282.74" width="13.77" height="13.86" fill="#471365"/>
<rect x="930.21" y="282.74" width="13.77" height="13.86" fill="#355f8d"/>
<rect x="943.38" y="282.74" width="13.77" height="13.86" fill="#2a788e"/>
<rect x="956.54" y="282.74" width="13.77" height="13.86" fill="#463480"/>
<rect x="969.71" y="282.74" width="13.77" height="13.86" fill="#414487"/>
<rect x="982.88" y="282.74" width="13.77" height="13.86" fill="#3b528b"/>
<rect x="996.05" y="282.74" width="13.77" height="13.86" fill="#463480"/>
<rect x="1009.22" y="282.74" width="13.77" height="13.86" fill="#3b528b"/>
<rect x="1022.38" y="282.74" width="13.77" height="13.86" fill="#355f8d"/>
<rect x="1035.55" y="282.74" width="13.77" height="13.86" fill="#355f8d"/>
<rect x="1048.72" y="282.74" width="13.77" height="13.86" fill="#2f6c8e"/>
<rect x="1061.89" y="282.74" width="13.77" height="13.86" fill="#2f6c8e"/>
<rect x="1075.06" y="282.74" width="13.77" height="13.86" fill="#21918c"/>
<rect x="1088.22" y="282.74" width="13.77" height="13.86" fill="#22a884"/>
<rect x="1101.39" y="282.74" width="13.77" height="13.86" fill="#22a884"/>
<rect x="1114.56" y="282.74" width="13.77" height="13.86" fill="#1e9c89"/>
<rect x="1127.73" y="282.74" width="13.77" height="13.86" fill="#1e9c89"/>
<rect x="1140.90" y="282.74" width="13.77" height="13.86" fill="#1e9c89"/>
<rect x="1154.06" y="282.74" width="13.77" height="13.86" fill="#1e9c89"/>
<rect x="1167.23" y="282.74" width="13.77" height="13.86" fill="#2a788e"/>
<rect x="851.20" y="296.00" width="13.77" height="13.86" fill="#471365"/>
<rect x="864.37" y="296.00" width="13.77" height="13.86" fill="#482475"/>
<rect x="877.54" y="296.00" width="13.77" height="13.86" fill="#414487"/>
<rect x="890.70" y="296.00" width="13.77" height="13.86" fill="#463480"/>
<rect x="903.87" y="296.00" width="13.77" height="13.86" fill="#471365"/>
<rect x="917.04" y="296.00" width="13.77" height="13.86" fill="#463480"/>
<rect x="930.21" y="296.00" width="13.77" height="13.86" fill="#414487"/>
<rect x="943.38" y="296.00" width="13.77" height="13.86" fill="#2f6c8e"/>
<rect x="956.54" y="296.00" width="13.77" height="13.86" fill="#355f8d"/>
<rect x="969.71" y="296.00" width="13.77" height="13.86" fill="#2f6c8e"/>
<rect x="982.88" y="296.00" width="13.77" height="13.86" fill="#3b528b"/>
<rect x="996.05" y="296.00" width="13.77" height="13.86" fill="#355f8d"/>
<rect x="1009.22" y="296.00" width="13.77" height="13.86" fill="#3b528b"/>
<rect x="1022.38" y="296.00" width="13.77" height="13.86" fill="#414487"/>
<rect x="1035.55" y="296.00" width="13.77" height="13.86" fill="#355f8d"/>
<rect x="1048.72" y="296.00" width="13.77" height="13.86" fill="#355f8d"/>
<rect x="1061.89" y="296.00" width="13.77" height="13.86" fill="#355f8d"/>
<rect x="1075.06" y="296.00" width="13.77" height="13.86" fill="#25848e"/>
<rect x="1088.22" y="296.00" width="13.77" height="13.86" fill="#25848e"/>
<rect x="1101.39" y="296.00" width="13.77" height="13.86" fill="#1e9c89"/>
<rect x="1114.56" y="296.00" width="13.77" height="13.86" fill="#1e9c89"/>
<rect x="1127.73" y="296.00" width="13.77" height="13.86" fill="#25848e"/>
<rect x="1140.90" y="296.00" width="13.77" height="13.86" fill="#2a788e"/>
<rect x="1154.06" y="296.00" width="13.77" height="13.86" fill="#2a788e"/>
<rect x="1167.23" y="296.00" width="13.77" height="13.86" fill="#2f6c8e"/>
<rect x="851.20" y="309.26" width="13.77" height="13.86" fill="#414487"/>
<rect x="864.37" y="309.26" width="13.77" height="13.86" fill="#3b528b"/>
<rect x="877.54" y="309.26" width="13.77" height="13.86" fill="#471365"/>
<rect x="890.70" y="309.26" width="13.77" height="13.86" fill="#355f8d"/>
<rect x="903.87" y="309.26" width="13.77" height="13.86" fill="#2f6c8e"/>
<rect x="917.04" y="309.26" width="13.77" height="13.86" fill="#3b528b"/>
<rect x="930.21" y="309.26" width="13.77" height="13.86" fill="#2a788e"/>
<rect x="943.38" y="309.26" width="13.77" height="13.86" fill="#414487"/>
<rect x="956.54" y="309.26" width="13.77" height="13.86" fill="#3b528b"/>
<rect x="969.71" y="309.26" width="13.77" height="13.86" fill="#2a788e"/>
<rect x="982.88" y="309.26" width="13.77" height="13.86" fill="#355f8d"/>
<rect x="996.05" y="309.26" width="13.77" height="13.86" fill="#2f6c8e"/>
<rect x="1009.22" y="309.26" width="13.77" height="13.86" fill="#2f6c8e"/>
<rect x="1022.38" y="309.26" width="13.77" height="13.86" fill="#355f8d"/>
<rect x="1035.55" y="309.26" width="13.77" height="13.86" fill="#2a788e"/>
<rect x="1048.72" y="309.26" width="13.77" height="13.86" fill="#355f8d"/>
<rect x="1061.89" y="309.26" width="13.77" height="13.86" fill="#3b528b"/>
<rect x="1075.06" y="309.26" width="13.77" height="13.86" fill="#355f8d"/>
<rect x="1088.22" y="309.26" width="13.77" height="13.86" fill="#25848e"/>
<rect x="1101.39" y="309.26" width="13.77" height="13.86" fill="#25848e"/>
<rect x="1114.56" y="309.26" width="13.77" height="13.86" fill="#2a788e"/>
<rect x="1127.73" y="309.26" width="13.77" height="13.86" fill="#25848e"/>
<rect x="1140.90" y="309.26" width="13.77" height="13.86" fill="#2f6c8e"/>
<rect x="1154.06" y="309.26" width="13.77" height="13.86" fill="#3b528b"/>
<rect x="1167.23" y="309.26" width="13.77" height="13.86" fill="#3b528b"/>
<rect x="851.20" y="322.52" width="13.77" height="13.86" fill="#2f6c8e"/>
<rect x="864.37" y="322.52" width="13.77" height="13.86" fill="#463480"/>
<rect x="877.54" y="322.52" width="13.77" height="13.86" fill="#463480"/>
<rect x="890.70" y="322.52" width="13.77" height="13.86" fill="#482475"/>
<rect x="903.87" y="322.52" width="13.77" height="13.86" fill="#414487"/>
<rect x="917.04" y="322.52" width="13.77" height="13.86" fill="#471365"/>
<rect x="930.21" y="322.52" width="13.77" height="13.86" fill="#3b528b"/>
<rect x="943.38" y="322.52" width="13.77" height="13.86" fill="#2a788e"/>
<rect x="956.54" y="322.52" width="13.77" height="13.86" fill="#3b528b"/>
<rect x="969.71" y="322.52" width="13.77" height="13.86" fill="#2f6c8e"/>
<rect x="982.88" y="322.52" width="13.77" height="13.86" fill="#2f6c8e"/>
<rect x="996.05" y="322.52" width="13.77" height="13.86" fill="#355f8d"/>
<rect x="1009.22" y="322.52" width="13.77" height="13.86" fill="#414487"/>
<rect x="1022.38" y="322.52" width="13.77" height="13.86" fill="#2a788e"/>
<rect x="1035.55" y="322.52" width="13.77" height="13.86" fill="#2f6c8e"/>
<rect x="1048.72" y="322.52" width="13.77" height="13.86" fill="#3b528b"/>
<rect x="1061.89" y="322.52" width="13.77" height="13.86" fill="#482475"/>
<rect x="1075.06" y="322.52" width="13.77" height="13.86" fill="#414487"/>
<rect x="1088.22" y="322.52" width="13.77" height="13.86" fill="#355f8d"/>
<rect x="1101.39" y="322.52" width="13.77" height="13.86" fill="#414487"/>
<rect x="1114.56" y="322.52" width="13.77" height="13.86" fill="#414487"/>
<rect x="1127.73" y="322.52" width="13.77" height="13.86" fill="#414487"/>
<rect x="1140.90" y="322.52" width="13.77" height="13.86" fill="#2f6c8e"/>
<rect x="1154.06" y="322.52" width="13.77" height="13.86" fill="#355f8d"/>
<rect x="1167.23" y="322.52" width="13.77" height="13.86" fill="#25848e"/>
<rect x="851.20" y="335.78" width="13.77" height="13.86" fill="#471365"/>
<rect x="864.37" y="335.78" width="13.77" height="13.86" fill="#440154"/>
<rect x="877.54" y="335.78" width="13.77" height="13.86" fill="#463480"/>
<rect x="890.70" y="335.78" width="13.77" height="13.86" fill="#414487"/>
<rect x="903.87" y="335.78" width="13.77" height="13.86" fill="#414487"/>
<rect x="917.04" y="335.78" width="13.77" height="13.86" fill="#355f8d"/>
<rect x="930.21" y="335.78" width="13.77" height="13.86" fill="#355f8d"/>
<rect x="943.38" y="335.78" width="13.77" height="13.86" fill="#25848e"/>
<rect x="956.54" y="335.78" width="13.77" height="13.86" fill="#355f8d"/>
<rect x="969.71" y="335.78" width="13.77" height="13.86" fill="#463480"/>
<rect x="982.88" y="335.78" width="13.77" height="13.86" fill="#440154"/>
<rect x="996.05" y="335.78" width="13.77" height="13.86" fill="#482475"/>
<rect x="1009.22" y="335.78" width="13.77" height="13.86" fill="#3b528b"/>
<rect x="1022.38" y="335.78" width="13.77" height="13.86" fill="#471365"/>
<rect x="1035.55" y="335.78" width="13.77" height="13.86" fill="#440154"/>
<rect x="1048.72" y="335.78" width="13.77" height="13.86" fill="#463480"/>
<rect x="1061.89" y="335.78" width="13.77" height="13.86" fill="#463480"/>
<rect x="1075.06" y="335.78" width="13.77" height="13.86" fill="#463480"/>
<rect x="1088.22" y="335.78" width="13.77" height="13.86" fill="#3b528b"/>
<rect x="1101.39" y="335.78" width="13.77" height="13.86" fill="#482475"/>
<rect x="1114.56" y="335.78" width="13.77" height="13.86" fill="#355f8d"/>
<rect x="1127.73" y="335.78" width="13.77" height="13.86" fill="#2a788e"/>
<rect x="1140.90" y="335.78" width="13.77" height="13.86" fill="#414487"/>
<rect x="1154.06" y="335.78" width="13.77" height="13.86" fill="#3b528b"/>
<rect x="1167.23" y="335.78" width="13.77" height="13.86" fill="#355f8d"/>
<rect x="851.20" y="349.04" width="13.77" height="13.86" fill="#471365"/>
<rect x="864.37" y="349.04" width="13.77" height="13.86" fill="#471365"/>
<rect x="877.54" y="349.04" width="13.77" height="13.86" fill="#355f8d"/>
<rect x="890.70" y="349.04" width="13.77" height="13.86" fill="#25848e"/>
<rect x="903.87" y="349.04" width="13.77" height="13.86" fill="#414487"/>
<rect x="917.04" y="349.04" width="13.77" height="13.86" fill="#414487"/>
<rect x="930.21" y="349.04" width="13.77" height="13.86" fill="#355f8d"/>
<rect x="943.38" y="349.04" width="13.77" height="13.86" fill="#355f8d"/>
<rect x="956.54" y="349.04" width="13.77" height="13.86" fill="#482475"/>
<rect x="969.71" y="349.04" width="13.77" height="13.86" fill="#2f6c8e"/>
<rect x="982.88" y="349.04" width="13.77" height="13.86" fill="#471365"/>
<rect x="996.05" y="349.04" width="13.77" height="13.86" fill="#414487"/>
<rect x="1009.22" y="349.04" width="13.77" height="13.86" fill="#3b528b"/>
<rect x="1022.38" y="349.04" width="13.77" height="13.86" fill="#3b528b"/>
<rect x="1035.55" y="349.04" width="13.77" height="13.86" fill="#463480"/>
<rect x="1048.72" y="349.04" width="13.77" height="13.86" fill="#2f6c8e"/>
<rect x="1061.89" y="349.04" width="13.77" height="13.86" fill="#471365"/>
<rect x="1075.06" y="349.04" width="13.77" height="13.86" fill="#3b528b"/>
<rect x="1088.22" y="349.04" width="13.77" height="13.86" fill="#463480"/>
<rect x="1101.39" y="349.04" width="13.77" height="13.86" fill="#2f6c8e"/>
<rect x="1114.56" y="349.04" width="13.77" height="13.86" fill="#414487"/>
<rect x="1127.73" y="349.04" width="13.77" height="13.86" fill="#414487"/>
<rect x="1140.90" y="349.04" width="13.77" height="13.86" fill="#414487"/>
<rect x="1154.06" y="349.04" width="13.77" height="13.86" fill="#463480"/>
<rect x="1167.23" y="349.04" width="13.77" height="13.86" fill="#482475"/>
</g>
<line x1="857.78" y1="362.30" x2="857.78" y2="356.70"/>
<line x1="857.78" y1="32.20" x2="857.78" y2="37.80"/>
<line x1="851.20" y1="355.70" x2="856.80" y2="355.70"/>
<line x1="1180.40" y1="355.70" x2="1174.80" y2="355.70"/>
<line x1="923.62" y1="362.30" x2="923.62" y2="356.70"/>
<line x1="923.62" y1="32.20" x2="923.62" y2="37.80"/>
<line x1="851.20" y1="289.68" x2="856.80" y2="289.68"/>
<line x1="1180.40" y1="289.68" x2="1174.80" y2="289.68"/>
<line x1="989.46" y1="362.30" x2="989.46" y2="356.70"/>
<line x1="989.46" y1="32.20" x2="989.46" y2="37.80"/>
<line x1="851.20" y1="223.66" x2="856.80" y2="223.66"/>
<line x1="1180.40" y1="223.66" x2="1174.80" y2="223.66"/>
<line x1="1055.30" y1="362.30" x2="1055.30" y2="356.70"/>
<line x1="1055.30" y1="32.20" x2="1055.30" y2="37.80"/>
<line x1="851.20" y1="157.64" x2="856.80" y2="157.64"/>
<line x1="1180.40" y1="157.64" x2="1174.80" y2="157.64"/>
<line x1="1121.14" y1="362.30" x2="1121.14" y2="356.70"/>
<line x1="1121.14" y1="32.20" x2="1121.14" y2="37.80"/>
<line x1="851.20" y1="91.62" x2="856.80" y2="91.62"/>
<line x1="1180.40" y1="91.62" x2="1174.80" y2="91.62"/>
<rect class="sp" x="851.20" y="32.20" width="329.20" height="330.10" stroke-width="1.40"/>
<text x="857.78" y="381.80" font-size="18.00" text-anchor="middle">0</text>
<text x="844.60" y="360.60" font-size="18.00" text-anchor="end">0</text>
<text x="923.62" y="381.80" font-size="18.00" text-anchor="middle">5</text>
<text x="844.60" y="294.58" font-size="18.00" text-anchor="end">5</text>
<text x="989.46" y="381.80" font-size="18.00" text-anchor="middle" textLength="18.90" lengthAdjust="spacing">10</text>
<text x="844.60" y="228.56" font-size="18.00" text-anchor="end" textLength="19.70" lengthAdjust="spacing">10</text>
<text x="1055.30" y="381.80" font-size="18.00" text-anchor="middle" textLength="18.90" lengthAdjust="spacing">15</text>
<text x="844.60" y="162.54" font-size="18.00" text-anchor="end" textLength="19.70" lengthAdjust="spacing">15</text>
<text x="1121.14" y="381.80" font-size="18.00" text-anchor="middle" textLength="18.90" lengthAdjust="spacing">20</text>
<text x="844.60" y="96.52" font-size="18.00" text-anchor="end" textLength="19.70" lengthAdjust="spacing">20</text>
<text x="1015.00" y="24.80" font-size="20.00" text-anchor="middle" textLength="96.82" lengthAdjust="spacing">ACS Total</text>
<clipPath id="c3"><rect x="1250.40" y="32.30" width="330.00" height="330.10"/></clipPath>
<g shape-rendering="crispEdges" clip-path="url(#c3)">
<rect x="1250.40" y="30.90" width="13.80" height="13.86" fill="#21918c"/>
<rect x="1263.60" y="30.90" width="13.80" height="13.86" fill="#25848e"/>
<rect x="1276.80" y="30.90" width="13.80" height="13.86" fill="#2a788e"/>
<rect x="1290.00" y="30.90" width="13.80" height="13.86" fill="#25848e"/>
<rect x="1303.20" y="30.90" width="13.80" height="13.86" fill="#3b528b"/>
<rect x="1316.40" y="30.90" width="13.80" height="13.86" fill="#414487"/>
<rect x="1329.60" y="30.90" width="13.80" height="13.86" fill="#2fb47c"/>
<rect x="1342.80" y="30.90" width="13.80" height="13.86" fill="#25848e"/>
<rect x="1356.00" y="30.90" width="13.80" height="13.86" fill="#2f6c8e"/>
<rect x="1369.20" y="30.90" width="13.80" height="13.86" fill="#3b528b"/>
<rect x="1382.40" y="30.90" width="13.80" height="13.86" fill="#25848e"/>
<rect x="1395.60" y="30.90" width="13.80" height="13.86" fill="#355f8d"/>
<rect x="1408.80" y="30.90" width="13.80" height="13.86" fill="#22a884"/>
<rect x="1422.00" y="30.90" width="13.80" height="13.86" fill="#2a788e"/>
<rect x="1435.20" y="30.90" width="13.80" height="13.86" fill="#21918c"/>
<rect x="1448.40" y="30.90" width="13.80" height="13.86" fill="#2f6c8e"/>
<rect x="1461.60" y="30.90" width="13.80" height="13.86" fill="#414487"/>
<rect x="1474.80" y="30.90" width="13.80" height="13.86" fill="#1e9c89"/>
<rect x="1488.00" y="30.90" width="13.80" height="13.86" fill="#21918c"/>
<rect x="1501.20" y="30.90" width="13.80" height="13.86" fill="#25848e"/>
<rect x="1514.40" y="30.90" width="13.80" height="13.86" fill="#355f8d"/>
<rect x="1527.60" y="30.90" width="13.80" height="13.86" fill="#3b528b"/>
<rect x="1540.80" y="30.90" width="13.80" height="13.86" fill="#3b528b"/>
<rect x="1554.00" y="30.90" width="13.80" height="13.86" fill="#3b528b"/>
<rect x="1567.20" y="30.90" width="13.80" height="13.86" fill="#25848e"/>
<rect x="1250.40" y="44.16" width="13.80" height="13.86" fill="#25848e"/>
<rect x="1263.60" y="44.16" width="13.80" height="13.86" fill="#355f8d"/>
<rect x="1276.80" y="44.16" width="13.80" height="13.86" fill="#355f8d"/>
<rect x="1290.00" y="44.16" width="13.80" height="13.86" fill="#21918c"/>
<rect x="1303.20" y="44.16" width="13.80" height="13.86" fill="#2a788e"/>
<rect x="1316.40" y="44.16" width="13.80" height="13.86" fill="#2f6c8e"/>
<rect x="1329.60" y="44.16" width="13.80" height="13.86" fill="#2a788e"/>
<rect x="1342.80" y="44.16" width="13.80" height="13.86" fill="#2a788e"/>
<rect x="1356.00" y="44.16" width="13.80" height="13.86" fill="#355f8d"/>
<rect x="1369.20" y="44.16" width="13.80" height="13.86" fill="#2f6c8e"/>
<rect x="1382.40" y="44.16" width="13.80" height="13.86" fill="#2f6c8e"/>
<rect x="1395.60" y="44.16" width="13.80" height="13.86" fill="#21918c"/>
<rect x="1408.80" y="44.16" width="13.80" height="13.86" fill="#2fb47c"/>
<rect x="1422.00" y="44.16" width="13.80" height="13.86" fill="#21918c"/>
<rect x="1435.20" y="44.16" width="13.80" height="13.86" fill="#25848e"/>
<rect x="1448.40" y="44.16" width="13.80" height="13.86" fill="#21918c"/>
<rect x="1461.60" y="44.16" width="13.80" height="13.86" fill="#25848e"/>
<rect x="1474.80" y="44.16" width="13.80" height="13.86" fill="#21918c"/>
<rect x="1488.00" y="44.16" width="13.80" height="13.86" fill="#355f8d"/>
<rect x="1501.20" y="44.16" width="13.80" height="13.86" fill="#2a788e"/>
<rect x="1514.40" y="44.16" width="13.80" height="13.86" fill="#414487"/>
<rect x="1527.60" y="44.16" width="13.80" height="13.86" fill="#3b528b"/>
<rect x="1540.80" y="44.16" width="13.80" height="13.86" fill="#355f8d"/>
<rect x="1554.00" y="44.16" width="13.80" height="13.86" fill="#2f6c8e"/>
<rect x="1567.20" y="44.16" width="13.80" height="13.86" fill="#21918c"/>
<rect x="1250.40" y="57.42" width="13.80" height="13.86" fill="#2f6c8e"/>
<rect x="1263.60" y="57.42" width="13.80" height="13.86" fill="#2f6c8e"/>
<rect x="1276.80" y="57.42" width="13.80" height="13.86" fill="#2f6c8e"/>
<rect x="1290.00" y="57.42" width="13.80" height="13.86" fill="#2a788e"/>
<rect x="1303.20" y="57.42" width="13.80" height="13.86" fill="#3b528b"/>
<rect x="1316.40" y="57.42" width="13.80" height="13.86" fill="#2a788e"/>
<rect x="1329.60" y="57.42" width="13.80" height="13.86" fill="#2f6c8e"/>
<rect x="1342.80" y="57.42" width="13.80" height="13.86" fill="#2a788e"/>
<rect x="1356.00" y="57.42" width="13.80" height="13.86" fill="#2f6c8e"/>
<rect x="1369.20" y="57.42" width="13.80" height="13.86" fill="#2a788e"/>
<rect x="1382.40" y="57.42" width="13.80" height="13.86" fill="#2a788e"/>
<rect x="1395.60" y="57.42" width="13.80" height="13.86" fill="#3b528b"/>
<rect x="1408.80" y="57.42" width="13.80" height="13.86" fill="#21918c"/>
<rect x="1422.00" y="57.42" width="13.80" height="13.86" fill="#25848e"/>
<rect x="1435.20" y="57.42" width="13.80" height="13.86" fill="#2a788e"/>
<rect x="1448.40" y="57.42" width="13.80" height="13.86" fill="#440154"/>
<rect x="1461.60" y="57.42" width="13.80" height="13.86" fill="#3b528b"/>
<rect x="1474.80" y="57.42" width="13.80" height="13.86" fill="#2a788e"/>
<rect x="1488.00" y="57.42" width="13.80" height="13.86" fill="#2f6c8e"/>
<rect x="1501.20" y="57.42" width="13.80" height="13.86" fill="#2a788e"/>
<rect x="1514.40" y="57.42" width="13.80" height="13.86" fill="#355f8d"/>
<rect x="1527.60" y="57.42" width="13.80" height="13.86" fill="#2f6c8e"/>
<rect x="1540.80" y="57.42" width="13.80" height="13.86" fill="#21918c"/>
<rect x="1554.00" y="57.42" width="13.80" height="13.86" fill="#3b528b"/>
<rect x="1567.20" y="57.42" width="13.80" height="13.86" fill="#21918c"/>
<rect x="1250.40" y="70.68" width="13.80" height="13.86" fill="#463480"/>
<rect x="1263.60" y="70.68" width="13.80" height="13.86" fill="#3b528b"/>
<rect x="1276.80" y="70.68" width="13.80" height="13.86" fill="#3b528b"/>
<rect x="1290.00" y="70.68" width="13.80" height="13.86" fill="#1e9c89"/>
<rect x="1303.20" y="70.68" width="13.80" height="13.86" fill="#25848e"/>
<rect x="1316.40" y="70.68" width="13.80" height="13.86" fill="#1e9c89"/>
<rect x="1329.60" y="70.68" width="13.80" height="13.86" fill="#25848e"/>
<rect x="1342.80" y="70.68" width="13.80" height="13.86" fill="#2f6c8e"/>
<rect x="1356.00" y="70.68" width="13.80" height="13.86" fill="#21918c"/>
<rect x="1369.20" y="70.68" width="13.80" height="13.86" fill="#21918c"/>
<rect x="1382.40" y="70.68" width="13.80" height="13.86" fill="#21918c"/>
<rect x="1395.60" y="70.68" width="13.80" height="13.86" fill="#2f6c8e"/>
<rect x="1408.80" y="70.68" width="13.80" height="13.86" fill="#355f8d"/>
<rect x="1422.00" y="70.68" width="13.80" height="13.86" fill="#21918c"/>
<rect x="1435.20" y="70.68" width="13.80" height="13.86" fill="#21918c"/>
<rect x="1448.40" y="70.68" width="13.80" height="13.86" fill="#355f8d"/>
<rect x="1461.60" y="70.68" width="13.80" height="13.86" fill="#3b528b"/>
<rect x="1474.80" y="70.68" width="13.80" height="13.86" fill="#25848e"/>
<rect x="1488.00" y="70.68" width="13.80" height="13.86" fill="#482475"/>
<rect x="1501.20" y="70.68" width="13.80" height="13.86" fill="#25848e"/>
<rect x="1514.40" y="70.68" width="13.80" height="13.86" fill="#355f8d"/>
<rect x="1527.60" y="70.68" width="13.80" height="13.86" fill="#414487"/>
<rect x="1540.80" y="70.68" width="13.80" height="13.86" fill="#440154"/>
<rect x="1554.00" y="70.68" width="13.80" height="13.86" fill="#2f6c8e"/>
<rect x="1567.20" y="70.68" width="13.80" height="13.86" fill="#2a788e"/>
<rect x="1250.40" y="83.94" width="13.80" height="13.86" fill="#21918c"/>
<rect x="1263.60" y="83.94" width="13.80" height="13.86" fill="#2f6c8e"/>
<rect x="1276.80" y="83.94" width="13.80" height="13.86" fill="#2a788e"/>
<rect x="1290.00" y="83.94" width="13.80" height="13.86" fill="#482475"/>
<rect x="1303.20" y="83.94" width="13.80" height="13.86" fill="#2a788e"/>
<rect x="1316.40" y="83.94" width="13.80" height="13.86" fill="#25848e"/>
<rect x="1329.60" y="83.94" width="13.80" height="13.86" fill="#2f6c8e"/>
<rect x="1342.80" y="83.94" width="13.80" height="13.86" fill="#25848e"/>
<rect x="1356.00" y="83.94" width="13.80" height="13.86" fill="#25848e"/>
<rect x="1369.20" y="83.94" width="13.80" height="13.86" fill="#2a788e"/>
<rect x="1382.40" y="83.94" width="13.80" height="13.86" fill="#21918c"/>
<rect x="1395.60" y="83.94" width="13.80" height="13.86" fill="#25848e"/>
<rect x="1408.80" y="83.94" width="13.80" height="13.86" fill="#2a788e"/>
<rect x="1422.00" y="83.94" width="13.80" height="13.86" fill="#25848e"/>
<rect x="1435.20" y="83.94" width="13.80" height="13.86" fill="#25848e"/>
<rect x="1448.40" y="83.94" width="13.80" height="13.86" fill="#355f8d"/>
<rect x="1461.60" y="83.94" width="13.80" height="13.86" fill="#25848e"/>
<rect x="1474.80" y="83.94" width="13.80" height="13.86" fill="#22a884"/>
<rect x="1488.00" y="83.94" width="13.80" height="13.86" fill="#3b528b"/>
<rect x="1501.20" y="83.94" width="13.80" height="13.86" fill="#21918c"/>
<rect x="1514.40" y="83.94" width="13.80" height="13.86" fill="#2a788e"/>
<rect x="1527.60" y="83.94" width="13.80" height="13.86" fill="#21918c"/>
<rect x="1540.80" y="83.94" width="13.80" height="13.86" fill="#2f6c8e"/>
<rect x="1554.00" y="83.94" width="13.80" height="13.86" fill="#25848e"/>
<rect x="1567.20" y="83.94" width="13.80" height="13.86" fill="#25848e"/>
<rect x="1250.40" y="97.20" width="13.80" height="13.86" fill="#355f8d"/>
<rect x="1263.60" y="97.20" width="13.80" height="13.86" fill="#25848e"/>
<rect x="1276.80" y="97.20" width="13.80" height="13.86" fill="#414487"/>
<rect x="1290.00" y="97.20" width="13.80" height="13.86" fill="#482475"/>
<rect x="1303.20" y="97.20" width="13.80" height="13.86" fill="#21918c"/>
<rect x="1316.40" y="97.20" width="13.80" height="13.86" fill="#2f6c8e"/>
<rect x="1329.60" y="97.20" width="13.80" height="13.86" fill="#2f6c8e"/>
<rect x="1342.80" y="97.20" width="13.80" height="13.86" fill="#2a788e"/>
<rect x="1356.00" y="97.20" width="13.80" height="13.86" fill="#2a788e"/>
<rect x="1369.20" y="97.20" width="13.80" height="13.86" fill="#2a788e"/>
<rect x="1382.40" y="97.20" width="13.80" height="13.86" fill="#2f6c8e"/>
<rect x="1395.60" y="97.20" width="13.80" height="13.86" fill="#25848e"/>
<rect x="1408.80" y="97.20" width="13.80" height="13.86" fill="#21918c"/>
<rect x="1422.00" y="97.20" width="13.80" height="13.86" fill="#355f8d"/>
<rect x="1435.20" y="97.20" width="13.80" height="13.86" fill="#22a884"/>
<rect x="1448.40" y="97.20" width="13.80" height="13.86" fill="#2a788e"/>
<rect x="1461.60" y="97.20" width="13.80" height="13.86" fill="#1e9c89"/>
<rect x="1474.80" y="97.20" width="13.80" height="13.86" fill="#2a788e"/>
<rect x="1488.00" y="97.20" width="13.80" height="13.86" fill="#3b528b"/>
<rect x="1501.20" y="97.20" width="13.80" height="13.86" fill="#440154"/>
<rect x="1514.40" y="97.20" width="13.80" height="13.86" fill="#440154"/>
<rect x="1527.60" y="97.20" width="13.80" height="13.86" fill="#2a788e"/>
<rect x="1540.80" y="97.20" width="13.80" height="13.86" fill="#21918c"/>
<rect x="1554.00" y="97.20" width="13.80" height="13.86" fill="#2f6c8e"/>
<rect x="1567.20" y="97.20" width="13.80" height="13.86" fill="#414487"/>
<rect x="1250.40" y="110.46" width="13.80" height="13.86" fill="#2a788e"/>
<rect x="1263.60" y="110.46" width="13.80" height="13.86" fill="#2a788e"/>
<rect x="1276.80" y="110.46" width="13.80" height="13.86" fill="#355f8d"/>
<rect x="1290.00" y="110.46" width="13.80" height="13.86" fill="#3b528b"/>
<rect x="1303.20" y="110.46" width="13.80" height="13.86" fill="#3b528b"/>
<rect x="1316.40" y="110.46" width="13.80" height="13.86" fill="#21918c"/>
<rect x="1329.60" y="110.46" width="13.80" height="13.86" fill="#21918c"/>
<rect x="1342.80" y="110.46" width="13.80" height="13.86" fill="#1e9c89"/>
<rect x="1356.00" y="110.46" width="13.80" height="13.86" fill="#22a884"/>
<rect x="1369.20" y="110.46" width="13.80" height="13.86" fill="#25848e"/>
<rect x="1382.40" y="110.46" width="13.80" height="13.86" fill="#2f6c8e"/>
<rect x="1395.60" y="110.46" width="13.80" height="13.86" fill="#25848e"/>
<rect x="1408.80" y="110.46" width="13.80" height="13.86" fill="#355f8d"/>
<rect x="1422.00" y="110.46" width="13.80" height="13.86" fill="#21918c"/>
<rect x="1435.20" y="110.46" width="13.80" height="13.86" fill="#25848e"/>
<rect x="1448.40" y="110.46" width="13.80" height="13.86" fill="#25848e"/>
<rect x="1461.60" y="110.46" width="13.80" height="13.86" fill="#1e9c89"/>
<rect x="1474.80" y="110.46" width="13.80" height="13.86" fill="#21918c"/>
<rect x="1488.00" y="110.46" width="13.80" height="13.86" fill="#2a788e"/>
<rect x="1501.20" y="110.46" width="13.80" height="13.86" fill="#414487"/>
<rect x="1514.40" y="110.46" width="13.80" height="13.86" fill="#414487"/>
<rect x="1527.60" y="110.46" width="13.80" height="13.86" fill="#25848e"/>
<rect x="1540.80" y="110.46" width="13.80" height="13.86" fill="#2a788e"/>
<rect x="1554.00" y="110.46" width="13.80" height="13.86" fill="#1e9c89"/>
<rect x="1567.20" y="110.46" width="13.80" height="13.86" fill="#1e9c89"/>
<rect x="1250.40" y="123.72" width="13.80" height="13.86" fill="#1e9c89"/>
<rect x="1263.60" y="123.72" width="13.80" height="13.86" fill="#25848e"/>
<rect x="1276.80" y="123.72" width="13.80" height="13.86" fill="#25848e"/>
<rect x="1290.00" y="123.72" width="13.80" height="13.86" fill="#25848e"/>
<rect x="1303.20" y="123.72" width="13.80" height="13.86" fill="#2f6c8e"/>
<rect x="1316.40" y="123.72" width="13.80" height="13.86" fill="#25848e"/>
<rect x="1329.60" y="123.72" width="13.80" height="13.86" fill="#2f6c8e"/>
<rect x="1342.80" y="123.72" width="13.80" height="13.86" fill="#2a788e"/>
<rect x="1356.00" y="123.72" width="13.80" height="13.86" fill="#21918c"/>
<rect x="1369.20" y="123.72" width="13.80" height="13.86" fill="#3b528b"/>
<rect x="1382.40" y="123.72" width="13.80" height="13.86" fill="#355f8d"/>
<rect x="1395.60" y="123.72" width="13.80" height="13.86" fill="#21918c"/>
<rect x="1408.80" y="123.72" width="13.80" height="13.86" fill="#25848e"/>
<rect x="1422.00" y="123.72" width="13.80" height="13.86" fill="#2a788e"/>
<rect x="1435.20" y="123.72" width="13.80" height="13.86" fill="#2a788e"/>
<rect x="1448.40" y="123.72" width="13.80" height="13.86" fill="#fde725"/>
<rect x="1461.60" y="123.72" width="13.80" height="13.86" fill="#fde725"/>
<rect x="1474.80" y="123.72" width="13.80" height="13.86" fill="#21918c"/>
<rect x="1488.00" y="123.72" width="13.80" height="13.86" fill="#2f6c8e"/>
<rect x="1501.20" y="123.72" width="13.80" height="13.86" fill="#3b528b"/>
<rect x="1514.40" y="123.72" width="13.80" height="13.86" fill="#414487"/>
<rect x="1527.60" y="123.72" width="13.80" height="13.86" fill="#2f6c8e"/>
<rect x="1540.80" y="123.72" width="13.80" height="13.86" fill="#25848e"/>
<rect x="1554.00" y="123.72" width="13.80" height="13.86" fill="#482475"/>
<rect x="1567.20" y="123.72" width="13.80" height="13.86" fill="#2a788e"/>
<rect x="1250.40" y="136.98" width="13.80" height="13.86" fill="#25848e"/>
<rect x="1263.60" y="136.98" width="13.80" height="13.86" fill="#355f8d"/>
<rect x="1276.80" y="136.98" width="13.80" height="13.86" fill="#25848e"/>
<rect x="1290.00" y="136.98" width="13.80" height="13.86" fill="#2a788e"/>
<rect x="1303.20" y="136.98" width="13.80" height="13.86" fill="#25848e"/>
<rect x="1316.40" y="136.98" width="13.80" height="13.86" fill="#2f6c8e"/>
<rect x="1329.60" y="136.98" width="13.80" height="13.86" fill="#25848e"/>
<rect x="1342.80" y="136.98" width="13.80" height="13.86" fill="#2f6c8e"/>
<rect x="1356.00" y="136.98" width="13.80" height="13.86" fill="#25848e"/>
<rect x="1369.20" y="136.98" width="13.80" height="13.86" fill="#2a788e"/>
<rect x="1382.40" y="136.98" width="13.80" height="13.86" fill="#355f8d"/>
<rect x="1395.60" y="136.98" width="13.80" height="13.86" fill="#25848e"/>
<rect x="1408.80" y="136.98" width="13.80" height="13.86" fill="#25848e"/>
<rect x="1422.00" y="136.98" width="13.80" height="13.86" fill="#2a788e"/>
<rect x="1435.20" y="136.98" width="13.80" height="13.86" fill="#25848e"/>
<rect x="1448.40" y="136.98" width="13.80" height="13.86" fill="#fde725"/>
<rect x="1461.60" y="136.98" width="13.80" height="13.86" fill="#fde725"/>
<rect x="1474.80" y="136.98" width="13.80" height="13.86" fill="#22a884"/>
<rect x="1488.00" y="136.98" width="13.80" height="13.86" fill="#21918c"/>
<rect x="1501.20" y="136.98" width="13.80" height="13.86" fill="#3b528b"/>
<rect x="1514.40" y="136.98" width="13.80" height="13.86" fill="#21918c"/>
<rect x="1527.60" y="136.98" width="13.80" height="13.86" fill="#463480"/>
<rect x="1540.80" y="136.98" width="13.80" height="13.86" fill="#482475"/>
<rect x="1554.00" y="136.98" width="13.80" height="13.86" fill="#21918c"/>
<rect x="1567.20" y="136.98" width="13.80" height="13.86" fill="#440154"/>
<rect x="1250.40" y="150.24" width="13.80" height="13.86" fill="#2f6c8e"/>
<rect x="1263.60" y="150.24" width="13.80" height="13.86" fill="#414487"/>
<rect x="1276.80" y="150.24" width="13.80" height="13.86" fill="#2a788e"/>
<rect x="1290.00" y="150.24" width="13.80" height="13.86" fill="#355f8d"/>
<rect x="1303.20" y="150.24" width="13.80" height="13.86" fill="#21918c"/>
<rect x="1316.40" y="150.24" width="13.80" height="13.86" fill="#2f6c8e"/>
<rect x="1329.60" y="150.24" width="13.80" height="13.86" fill="#414487"/>
<rect x="1342.80" y="150.24" width="13.80" height="13.86" fill="#355f8d"/>
<rect x="1356.00" y="150.24" width="13.80" height="13.86" fill="#2f6c8e"/>
<rect x="1369.20" y="150.24" width="13.80" height="13.86" fill="#1e9c89"/>
<rect x="1382.40" y="150.24" width="13.80" height="13.86" fill="#1e9c89"/>
<rect x="1395.60" y="150.24" width="13.80" height="13.86" fill="#25848e"/>
<rect x="1408.80" y="150.24" width="13.80" height="13.86" fill="#1e9c89"/>
<rect x="1422.00" y="150.24" width="13.80" height="13.86" fill="#2f6c8e"/>
<rect x="1435.20" y="150.24" width="13.80" height="13.86" fill="#2a788e"/>
<rect x="1448.40" y="150.24" width="13.80" height="13.86" fill="#5ec962"/>
<rect x="1461.60" y="150.24" width="13.80" height="13.86" fill="#7ad151"/>
<rect x="1474.80" y="150.24" width="13.80" height="13.86" fill="#2a788e"/>
<rect x="1488.00" y="150.24" width="13.80" height="13.86" fill="#355f8d"/>
<rect x="1501.20" y="150.24" width="13.80" height="13.86" fill="#25848e"/>
<rect x="1514.40" y="150.24" width="13.80" height="13.86" fill="#25848e"/>
<rect x="1527.60" y="150.24" width="13.80" height="13.86" fill="#21918c"/>
<rect x="1540.80" y="150.24" width="13.80" height="13.86" fill="#3b528b"/>
<rect x="1554.00" y="150.24" width="13.80" height="13.86" fill="#2a788e"/>
<rect x="1567.20" y="150.24" width="13.80" height="13.86" fill="#21918c"/>
<rect x="1250.40" y="163.50" width="13.80" height="13.86" fill="#2f6c8e"/>
<rect x="1263.60" y="163.50" width="13.80" height="13.86" fill="#2f6c8e"/>
<rect x="1276.80" y="163.50" width="13.80" height="13.86" fill="#25848e"/>
<rect x="1290.00" y="163.50" width="13.80" height="13.86" fill="#2a788e"/>
<rect x="1303.20" y="163.50" width="13.80" height="13.86" fill="#25848e"/>
<rect x="1316.40" y="163.50" width="13.80" height="13.86" fill="#21918c"/>
<rect x="1329.60" y="163.50" width="13.80" height="13.86" fill="#22a884"/>
<rect x="1342.80" y="163.50" width="13.80" height="13.86" fill="#2f6c8e"/>
<rect x="1356.00" y="163.50" width="13.80" height="13.86" fill="#414487"/>
<rect x="1369.20" y="163.50" width="13.80" height="13.86" fill="#1e9c89"/>
<rect x="1382.40" y="163.50" width="13.80" height="13.86" fill="#5ec962"/>
<rect x="1395.60" y="163.50" width="13.80" height="13.86" fill="#5ec962"/>
<rect x="1408.80" y="163.50" width="13.80" height="13.86" fill="#21918c"/>
<rect x="1422.00" y="163.50" width="13.80" height="13.86" fill="#1e9c89"/>
<rect x="1435.20" y="163.50" width="13.80" height="13.86" fill="#25848e"/>
<rect x="1448.40" y="163.50" width="13.80" height="13.86" fill="#25848e"/>
<rect x="1461.60" y="163.50" width="13.80" height="13.86" fill="#22a884"/>
<rect x="1474.80" y="163.50" width="13.80" height="13.86" fill="#2a788e"/>
<rect x="1488.00" y="163.50" width="13.80" height="13.86" fill="#355f8d"/>
<rect x="1501.20" y="163.50" width="13.80" height="13.86" fill="#2a788e"/>
<rect x="1514.40" y="163.50" width="13.80" height="13.86" fill="#1e9c89"/>
<rect x="1527.60" y="163.50" width="13.80" height="13.86" fill="#2f6c8e"/>
<rect x="1540.80" y="163.50" width="13.80" height="13.86" fill="#25848e"/>
<rect x="1554.00" y="163.50" width="13.80" height="13.86" fill="#2a788e"/>
<rect x="1567.20" y="163.50" width="13.80" height="13.86" fill="#1e9c89"/>
<rect x="1250.40" y="176.76" width="13.80" height="13.86" fill="#355f8d"/>
<rect x="1263.60" y="176.76" width="13.80" height="13.86" fill="#25848e"/>
<rect x="1276.80" y="176.76" width="13.80" height="13.86" fill="#25848e"/>
<rect x="1290.00" y="176.76" width="13.80" height="13.86" fill="#2a788e"/>
<rect x="1303.20" y="176.76" width="13.80" height="13.86" fill="#2f6c8e"/>
<rect x="1316.40" y="176.76" width="13.80" height="13.86" fill="#21918c"/>
<rect x="1329.60" y="176.76" width="13.80" height="13.86" fill="#1e9c89"/>
<rect x="1342.80" y="176.76" width="13.80" height="13.86" fill="#25848e"/>
<rect x="1356.00" y="176.76" width="13.80" height="13.86" fill="#1e9c89"/>
<rect x="1369.20" y="176.76" width="13.80" height="13.86" fill="#21918c"/>
<rect x="1382.40" y="176.76" width="13.80" height="13.86" fill="#5ec962"/>
<rect x="1395.60" y="176.76" width="13.80" height="13.86" fill="#9bd93c"/>
<rect x="1408.80" y="176.76" width="13.80" height="13.86" fill="#2fb47c"/>
<rect x="1422.00" y="176.76" width="13.80" height="13.86" fill="#2fb47c"/>
<rect x="1435.20" y="176.76" width="13.80" height="13.86" fill="#1e9c89"/>
<rect x="1448.40" y="176.76" width="13.80" height="13.86" fill="#2a788e"/>
<rect x="1461.60" y="176.76" width="13.80" height="13.86" fill="#2a788e"/>
<rect x="1474.80" y="176.76" width="13.80" height="13.86" fill="#22a884"/>
<rect x="1488.00" y="176.76" width="13.80" height="13.86" fill="#1e9c89"/>
<rect x="1501.20" y="176.76" width="13.80" height="13.86" fill="#1e9c89"/>
<rect x="1514.40" y="176.76" width="13.80" height="13.86" fill="#25848e"/>
<rect x="1527.60" y="176.76" width="13.80" height="13.86" fill="#355f8d"/>
<rect x="1540.80" y="176.76" width="13.80" height="13.86" fill="#1e9c89"/>
<rect x="1554.00" y="176.76" width="13.80" height="13.86" fill="#1e9c89"/>
<rect x="1567.20" y="176.76" width="13.80" height="13.86" fill="#9bd93c"/>
<rect x="1250.40" y="190.02" width="13.80" height="13.86" fill="#2a788e"/>
<rect x="1263.60" y="190.02" width="13.80" height="13.86" fill="#25848e"/>
<rect x="1276.80" y="190.02" width="13.80" height="13.86" fill="#25848e"/>
<rect x="1290.00" y="190.02" width="13.80" height="13.86" fill="#2f6c8e"/>
<rect x="1303.20" y="190.02" width="13.80" height="13.86" fill="#25848e"/>
<rect x="1316.40" y="190.02" width="13.80" height="13.86" fill="#2f6c8e"/>
<rect x="1329.60" y="190.02" width="13.80" height="13.86" fill="#21918c"/>
<rect x="1342.80" y="190.02" width="13.80" height="13.86" fill="#21918c"/>
<rect x="1356.00" y="190.02" width="13.80" height="13.86" fill="#21918c"/>
<rect x="1369.20" y="190.02" width="13.80" height="13.86" fill="#22a884"/>
<rect x="1382.40" y="190.02" width="13.80" height="13.86" fill="#25848e"/>
<rect x="1395.60" y="190.02" width="13.80" height="13.86" fill="#22a884"/>
<rect x="1408.80" y="190.02" width="13.80" height="13.86" fill="#9bd93c"/>
<rect x="1422.00" y="190.02" width="13.80" height="13.86" fill="#dfe318"/>
<rect x="1435.20" y="190.02" width="13.80" height="13.86" fill="#44bf70"/>
<rect x="1448.40" y="190.02" width="13.80" height="13.86" fill="#21918c"/>
<rect x="1461.60" y="190.02" width="13.80" height="13.86" fill="#471365"/>
<rect x="1474.80" y="190.02" width="13.80" height="13.86" fill="#21918c"/>
<rect x="1488.00" y="190.02" width="13.80" height="13.86" fill="#1e9c89"/>
<rect x="1501.20" y="190.02" width="13.80" height="13.86" fill="#2fb47c"/>
<rect x="1514.40" y="190.02" width="13.80" height="13.86" fill="#22a884"/>
<rect x="1527.60" y="190.02" width="13.80" height="13.86" fill="#2fb47c"/>
<rect x="1540.80" y="190.02" width="13.80" height="13.86" fill="#21918c"/>
<rect x="1554.00" y="190.02" width="13.80" height="13.86" fill="#2a788e"/>
<rect x="1567.20" y="190.02" width="13.80" height="13.86" fill="#5ec962"/>
<rect x="1250.40" y="203.28" width="13.80" height="13.86" fill="#2a788e"/>
<rect x="1263.60" y="203.28" width="13.80" height="13.86" fill="#22a884"/>
<rect x="1276.80" y="203.28" width="13.80" height="13.86" fill="#25848e"/>
<rect x="1290.00" y="203.28" width="13.80" height="13.86" fill="#3b528b"/>
<rect x="1303.20" y="203.28" width="13.80" height="13.86" fill="#25848e"/>
<rect x="1316.40" y="203.28" width="13.80" height="13.86" fill="#3b528b"/>
<rect x="1329.60" y="203.28" width="13.80" height="13.86" fill="#3b528b"/>
<rect x="1342.80" y="203.28" width="13.80" height="13.86" fill="#2f6c8e"/>
<rect x="1356.00" y="203.28" width="13.80" height="13.86" fill="#2f6c8e"/>
<rect x="1369.20" y="203.28" width="13.80" height="13.86" fill="#2a788e"/>
<rect x="1382.40" y="203.28" width="13.80" height="13.86" fill="#21918c"/>
<rect x="1395.60" y="203.28" width="13.80" height="13.86" fill="#1e9c89"/>
<rect x="1408.80" y="203.28" width="13.80" height="13.86" fill="#22a884"/>
<rect x="1422.00" y="203.28" width="13.80" height="13.86" fill="#7ad151"/>
<rect x="1435.20" y="203.28" width="13.80" height="13.86" fill="#2fb47c"/>
<rect x="1448.40" y="203.28" width="13.80" height="13.86" fill="#21918c"/>
<rect x="1461.60" y="203.28" width="13.80" height="13.86" fill="#2a788e"/>
<rect x="1474.80" y="203.28" width="13.80" height="13.86" fill="#5ec962"/>
<rect x="1488.00" y="203.28" width="13.80" height="13.86" fill="#9bd93c"/>
<rect x="1501.20" y="203.28" width="13.80" height="13.86" fill="#44bf70"/>
<rect x="1514.40" y="203.28" width="13.80" height="13.86" fill="#21918c"/>
<rect x="1527.60" y="203.28" width="13.80" height="13.86" fill="#2a788e"/>
<rect x="1540.80" y="203.28" width="13.80" height="13.86" fill="#25848e"/>
<rect x="1554.00" y="203.28" width="13.80" height="13.86" fill="#21918c"/>
<rect x="1567.20" y="203.28" width="13.80" height="13.86" fill="#2f6c8e"/>
<rect x="1250.40" y="216.54" width="13.80" height="13.86" fill="#355f8d"/>
<rect x="1263.60" y="216.54" width="13.80" height="13.86" fill="#414487"/>
<rect x="1276.80" y="216.54" width="13.80" height="13.86" fill="#21918c"/>
<rect x="1290.00" y="216.54" width="13.80" height="13.86" fill="#1e9c89"/>
<rect x="1303.20" y="216.54" width="13.80" height="13.86" fill="#2a788e"/>
<rect x="1316.40" y="216.54" width="13.80" height="13.86" fill="#414487"/>
<rect x="1329.60" y="216.54" width="13.80" height="13.86" fill="#25848e"/>
<rect x="1342.80" y="216.54" width="13.80" height="13.86" fill="#25848e"/>
<rect x="1356.00" y="216.54" width="13.80" height="13.86" fill="#355f8d"/>
<rect x="1369.20" y="216.54" width="13.80" height="13.86" fill="#25848e"/>
<rect x="1382.40" y="216.54" width="13.80" height="13.86" fill="#25848e"/>
<rect x="1395.60" y="216.54" width="13.80" height="13.86" fill="#2f6c8e"/>
<rect x="1408.80" y="216.54" width="13.80" height="13.86" fill="#2f6c8e"/>
<rect x="1422.00" y="216.54" width="13.80" height="13.86" fill="#1e9c89"/>
<rect x="1435.20" y="216.54" width="13.80" height="13.86" fill="#1e9c89"/>
<rect x="1448.40" y="216.54" width="13.80" height="13.86" fill="#1e9c89"/>
<rect x="1461.60" y="216.54" width="13.80" height="13.86" fill="#22a884"/>
<rect x="1474.80" y="216.54" width="13.80" height="13.86" fill="#5ec962"/>
<rect x="1488.00" y="216.54" width="13.80" height="13.86" fill="#44bf70"/>
<rect x="1501.20" y="216.54" width="13.80" height="13.86" fill="#fde725"/>
<rect x="1514.40" y="216.54" width="13.80" height="13.86" fill="#dfe318"/>
<rect x="1527.60" y="216.54" width="13.80" height="13.86" fill="#2fb47c"/>
<rect x="1540.80" y="216.54" width="13.80" height="13.86" fill="#25848e"/>
<rect x="1554.00" y="216.54" width="13.80" height="13.86" fill="#355f8d"/>
<rect x="1567.20" y="216.54" width="13.80" height="13.86" fill="#25848e"/>
<rect x="1250.40" y="229.80" width="13.80" height="13.86" fill="#414487"/>
<rect x="1263.60" y="229.80" width="13.80" height="13.86" fill="#2a788e"/>
<rect x="1276.80" y="229.80" width="13.80" height="13.86" fill="#25848e"/>
<rect x="1290.00" y="229.80" width="13.80" height="13.86" fill="#25848e"/>
<rect x="1303.20" y="229.80" width="13.80" height="13.86" fill="#25848e"/>
<rect x="1316.40" y="229.80" width="13.80" height="13.86" fill="#355f8d"/>
<rect x="1329.60" y="229.80" width="13.80" height="13.86" fill="#2f6c8e"/>
<rect x="1342.80" y="229.80" width="13.80" height="13.86" fill="#355f8d"/>
<rect x="1356.00" y="229.80" width="13.80" height="13.86" fill="#2a788e"/>
<rect x="1369.20" y="229.80" width="13.80" height="13.86" fill="#25848e"/>
<rect x="1382.40" y="229.80" width="13.80" height="13.86" fill="#2f6c8e"/>
<rect x="1395.60" y="229.80" width="13.80" height="13.86" fill="#2f6c8e"/>
<rect x="1408.80" y="229.80" width="13.80" height="13.86" fill="#25848e"/>
<rect x="1422.00" y="229.80" width="13.80" height="13.86" fill="#1e9c89"/>
<rect x="1435.20" y="229.80" width="13.80" height="13.86" fill="#22a884"/>
<rect x="1448.40" y="229.80" width="13.80" height="13.86" fill="#21918c"/>
<rect x="1461.60" y="229.80" width="13.80" height="13.86" fill="#21918c"/>
<rect x="1474.80" y="229.80" width="13.80" height="13.86" fill="#2fb47c"/>
<rect x="1488.00" y="229.80" width="13.80" height="13.86" fill="#bddf26"/>
<rect x="1501.20" y="229.80" width="13.80" height="13.86" fill="#dfe318"/>
<rect x="1514.40" y="229.80" width="13.80" height="13.86" fill="#9bd93c"/>
<rect x="1527.60" y="229.80" width="13.80" height="13.86" fill="#2fb47c"/>
<rect x="1540.80" y="229.80" width="13.80" height="13.86" fill="#25848e"/>
<rect x="1554.00" y="229.80" width="13.80" height="13.86" fill="#471365"/>
<rect x="1567.20" y="229.80" width="13.80" height="13.86" fill="#3b528b"/>
<rect x="1250.40" y="243.06" width="13.80" height="13.86" fill="#2f6c8e"/>
<rect x="1263.60" y="243.06" width="13.80" height="13.86" fill="#355f8d"/>
<rect x="1276.80" y="243.06" width="13.80" height="13.86" fill="#2a788e"/>
<rect x="1290.00" y="243.06" width="13.80" height="13.86" fill="#25848e"/>
<rect x="1303.20" y="243.06" width="13.80" height="13.86" fill="#471365"/>
<rect x="1316.40" y="243.06" width="13.80" height="13.86" fill="#2f6c8e"/>
<rect x="1329.60" y="243.06" width="13.80" height="13.86" fill="#21918c"/>
<rect x="1342.80" y="243.06" width="13.80" height="13.86" fill="#1e9c89"/>
<rect x="1356.00" y="243.06" width="13.80" height="13.86" fill="#2a788e"/>
<rect x="1369.20" y="243.06" width="13.80" height="13.86" fill="#25848e"/>
<rect x="1382.40" y="243.06" width="13.80" height="13.86" fill="#463480"/>
<rect x="1395.60" y="243.06" width="13.80" height="13.86" fill="#2a788e"/>
<rect x="1408.80" y="243.06" width="13.80" height="13.86" fill="#355f8d"/>
<rect x="1422.00" y="243.06" width="13.80" height="13.86" fill="#22a884"/>
<rect x="1435.20" y="243.06" width="13.80" height="13.86" fill="#1e9c89"/>
<rect x="1448.40" y="243.06" width="13.80" height="13.86" fill="#25848e"/>
<rect x="1461.60" y="243.06" width="13.80" height="13.86" fill="#21918c"/>
<rect x="1474.80" y="243.06" width="13.80" height="13.86" fill="#21918c"/>
<rect x="1488.00" y="243.06" width="13.80" height="13.86" fill="#2f6c8e"/>
<rect x="1501.20" y="243.06" width="13.80" height="13.86" fill="#2fb47c"/>
<rect x="1514.40" y="243.06" width="13.80" height="13.86" fill="#1e9c89"/>
<rect x="1527.60" y="243.06" width="13.80" height="13.86" fill="#44bf70"/>
<rect x="1540.80" y="243.06" width="13.80" height="13.86" fill="#25848e"/>
<rect x="1554.00" y="243.06" width="13.80" height="13.86" fill="#1e9c89"/>
<rect x="1567.20" y="243.06" width="13.80" height="13.86" fill="#2f6c8e"/>
<rect x="1250.40" y="256.32" width="13.80" height="13.86" fill="#355f8d"/>
<rect x="1263.60" y="256.32" width="13.80" height="13.86" fill="#2a788e"/>
<rect x="1276.80" y="256.32" width="13.80" height="13.86" fill="#3b528b"/>
<rect x="1290.00" y="256.32" width="13.80" height="13.86" fill="#355f8d"/>
<rect x="1303.20" y="256.32" width="13.80" height="13.86" fill="#21918c"/>
<rect x="1316.40" y="256.32" width="13.80" height="13.86" fill="#414487"/>
<rect x="1329.60" y="256.32" width="13.80" height="13.86" fill="#25848e"/>
<rect x="1342.80" y="256.32" width="13.80" height="13.86" fill="#463480"/>
<rect x="1356.00" y="256.32" width="13.80" height="13.86" fill="#2f6c8e"/>
<rect x="1369.20" y="256.32" width="13.80" height="13.86" fill="#25848e"/>
<rect x="1382.40" y="256.32" width="13.80" height="13.86" fill="#2a788e"/>
<rect x="1395.60" y="256.32" width="13.80" height="13.86" fill="#482475"/>
<rect x="1408.80" y="256.32" width="13.80" height="13.86" fill="#2f6c8e"/>
<rect x="1422.00" y="256.32" width="13.80" height="13.86" fill="#2f6c8e"/>
<rect x="1435.20" y="256.32" width="13.80" height="13.86" fill="#2a788e"/>
<rect x="1448.40" y="256.32" width="13.80" height="13.86" fill="#355f8d"/>
<rect x="1461.60" y="256.32" width="13.80" height="13.86" fill="#355f8d"/>
<rect x="1474.80" y="256.32" width="13.80" height="13.86" fill="#25848e"/>
<rect x="1488.00" y="256.32" width="13.80" height="13.86" fill="#25848e"/>
<rect x="1501.20" y="256.32" width="13.80" height="13.86" fill="#25848e"/>
<rect x="1514.40" y="256.32" width="13.80" height="13.86" fill="#22a884"/>
<rect x="1527.60" y="256.32" width="13.80" height="13.86" fill="#21918c"/>
<rect x="1540.80" y="256.32" width="13.80" height="13.86" fill="#25848e"/>
<rect x="1554.00" y="256.32" width="13.80" height="13.86" fill="#21918c"/>
<rect x="1567.20" y="256.32" width="13.80" height="13.86" fill="#355f8d"/>
<rect x="1250.40" y="269.58" width="13.80" height="13.86" fill="#355f8d"/>
<rect x="1263.60" y="269.58" width="13.80" height="13.86" fill="#2a788e"/>
<rect x="1276.80" y="269.58" width="13.80" height="13.86" fill="#2f6c8e"/>
<rect x="1290.00" y="269.58" width="13.80" height="13.86" fill="#2f6c8e"/>
<rect x="1303.20" y="269.58" width="13.80" height="13.86" fill="#355f8d"/>
<rect x="1316.40" y="269.58" width="13.80" height="13.86" fill="#414487"/>
<rect x="1329.60" y="269.58" width="13.80" height="13.86" fill="#355f8d"/>
<rect x="1342.80" y="269.58" width="13.80" height="13.86" fill="#2a788e"/>
<rect x="1356.00" y="269.58" width="13.80" height="13.86" fill="#1e9c89"/>
<rect x="1369.20" y="269.58" width="13.80" height="13.86" fill="#2a788e"/>
<rect x="1382.40" y="269.58" width="13.80" height="13.86" fill="#25848e"/>
<rect x="1395.60" y="269.58" width="13.80" height="13.86" fill="#2a788e"/>
<rect x="1408.80" y="269.58" width="13.80" height="13.86" fill="#355f8d"/>
<rect x="1422.00" y="269.58" width="13.80" height="13.86" fill="#2f6c8e"/>
<rect x="1435.20" y="269.58" width="13.80" height="13.86" fill="#355f8d"/>
<rect x="1448.40" y="269.58" width="13.80" height="13.86" fill="#463480"/>
<rect x="1461.60" y="269.58" width="13.80" height="13.86" fill="#25848e"/>
<rect x="1474.80" y="269.58" width="13.80" height="13.86" fill="#21918c"/>
<rect x="1488.00" y="269.58" width="13.80" height="13.86" fill="#1e9c89"/>
<rect x="1501.20" y="269.58" width="13.80" height="13.86" fill="#25848e"/>
<rect x="1514.40" y="269.58" width="13.80" height="13.86" fill="#1e9c89"/>
<rect x="1527.60" y="269.58" width="13.80" height="13.86" fill="#25848e"/>
<rect x="1540.80" y="269.58" width="13.80" height="13.86" fill="#21918c"/>
<rect x="1554.00" y="269.58" width="13.80" height="13.86" fill="#1e9c89"/>
<rect x="1567.20" y="269.58" width="13.80" height="13.86" fill="#414487"/>
<rect x="1250.40" y="282.84" width="13.80" height="13.86" fill="#471365"/>
<rect x="1263.60" y="282.84" width="13.80" height="13.86" fill="#355f8d"/>
<rect x="1276.80" y="282.84" width="13.80" height="13.86" fill="#3b528b"/>
<rect x="1290.00" y="282.84" width="13.80" height="13.86" fill="#2a788e"/>
<rect x="1303.20" y="282.84" width="13.80" height="13.86" fill="#2a788e"/>
<rect x="1316.40" y="282.84" width="13.80" height="13.86" fill="#2f6c8e"/>
<rect x="1329.60" y="282.84" width="13.80" height="13.86" fill="#2f6c8e"/>
<rect x="1342.80" y="282.84" width="13.80" height="13.86" fill="#2f6c8e"/>
<rect x="1356.00" y="282.84" width="13.80" height="13.86" fill="#3b528b"/>
<rect x="1369.20" y="282.84" width="13.80" height="13.86" fill="#355f8d"/>
<rect x="1382.40" y="282.84" width="13.80" height="13.86" fill="#355f8d"/>
<rect x="1395.60" y="282.84" width="13.80" height="13.86" fill="#22a884"/>
<rect x="1408.80" y="282.84" width="13.80" height="13.86" fill="#25848e"/>
<rect x="1422.00" y="282.84" width="13.80" height="13.86" fill="#3b528b"/>
<rect x="1435.20" y="282.84" width="13.80" height="13.86" fill="#5ec962"/>
<rect x="1448.40" y="282.84" width="13.80" height="13.86" fill="#22a884"/>
<rect x="1461.60" y="282.84" width="13.80" height="13.86" fill="#25848e"/>
<rect x="1474.80" y="282.84" width="13.80" height="13.86" fill="#2a788e"/>
<rect x="1488.00" y="282.84" width="13.80" height="13.86" fill="#21918c"/>
<rect x="1501.20" y="282.84" width="13.80" height="13.86" fill="#21918c"/>
<rect x="1514.40" y="282.84" width="13.80" height="13.86" fill="#22a884"/>
<rect x="1527.60" y="282.84" width="13.80" height="13.86" fill="#2a788e"/>
<rect x="1540.80" y="282.84" width="13.80" height="13.86" fill="#44bf70"/>
<rect x="1554.00" y="282.84" width="13.80" height="13.86" fill="#2a788e"/>
<rect x="1567.20" y="282.84" width="13.80" height="13.86" fill="#463480"/>
<rect x="1250.40" y="296.10" width="13.80" height="13.86" fill="#414487"/>
<rect x="1263.60" y="296.10" width="13.80" height="13.86" fill="#2a788e"/>
<rect x="1276.80" y="296.10" width="13.80" height="13.86" fill="#2a788e"/>
<rect x="1290.00" y="296.10" width="13.80" height="13.86" fill="#2f6c8e"/>
<rect x="1303.20" y="296.10" width="13.80" height="13.86" fill="#414487"/>
<rect x="1316.40" y="296.10" width="13.80" height="13.86" fill="#414487"/>
<rect x="1329.60" y="296.10" width="13.80" height="13.86" fill="#2a788e"/>
<rect x="1342.80" y="296.10" width="13.80" height="13.86" fill="#2f6c8e"/>
<rect x="1356.00" y="296.10" width="13.80" height="13.86" fill="#463480"/>
<rect x="1369.20" y="296.10" width="13.80" height="13.86" fill="#3b528b"/>
<rect x="1382.40" y="296.10" width="13.80" height="13.86" fill="#25848e"/>
<rect x="1395.60" y="296.10" width="13.80" height="13.86" fill="#2a788e"/>
<rect x="1408.80" y="296.10" width="13.80" height="13.86" fill="#25848e"/>
<rect x="1422.00" y="296.10" width="13.80" height="13.86" fill="#2f6c8e"/>
<rect x="1435.20" y="296.10" width="13.80" height="13.86" fill="#3b528b"/>
<rect x="1448.40" y="296.10" width="13.80" height="13.86" fill="#22a884"/>
<rect x="1461.60" y="296.10" width="13.80" height="13.86" fill="#fde725"/>
<rect x="1474.80" y="296.10" width="13.80" height="13.86" fill="#9bd93c"/>
<rect x="1488.00" y="296.10" width="13.80" height="13.86" fill="#21918c"/>
<rect x="1501.20" y="296.10" width="13.80" height="13.86" fill="#2a788e"/>
<rect x="1514.40" y="296.10" width="13.80" height="13.86" fill="#355f8d"/>
<rect x="1527.60" y="296.10" width="13.80" height="13.86" fill="#25848e"/>
<rect x="1540.80" y="296.10" width="13.80" height="13.86" fill="#22a884"/>
<rect x="1554.00" y="296.10" width="13.80" height="13.86" fill="#2a788e"/>
<rect x="1567.20" y="296.10" width="13.80" height="13.86" fill="#2f6c8e"/>
<rect x="1250.40" y="309.36" width="13.80" height="13.86" fill="#355f8d"/>
<rect x="1263.60" y="309.36" width="13.80" height="13.86" fill="#25848e"/>
<rect x="1276.80" y="309.36" width="13.80" height="13.86" fill="#2f6c8e"/>
<rect x="1290.00" y="309.36" width="13.80" height="13.86" fill="#25848e"/>
<rect x="1303.20" y="309.36" width="13.80" height="13.86" fill="#355f8d"/>
<rect x="1316.40" y="309.36" width="13.80" height="13.86" fill="#355f8d"/>
<rect x="1329.60" y="309.36" width="13.80" height="13.86" fill="#2f6c8e"/>
<rect x="1342.80" y="309.36" width="13.80" height="13.86" fill="#2a788e"/>
<rect x="1356.00" y="309.36" width="13.80" height="13.86" fill="#2f6c8e"/>
<rect x="1369.20" y="309.36" width="13.80" height="13.86" fill="#3b528b"/>
<rect x="1382.40" y="309.36" width="13.80" height="13.86" fill="#21918c"/>
<rect x="1395.60" y="309.36" width="13.80" height="13.86" fill="#21918c"/>
<rect x="1408.80" y="309.36" width="13.80" height="13.86" fill="#440154"/>
<rect x="1422.00" y="309.36" width="13.80" height="13.86" fill="#355f8d"/>
<rect x="1435.20" y="309.36" width="13.80" height="13.86" fill="#2f6c8e"/>
<rect x="1448.40" y="309.36" width="13.80" height="13.86" fill="#44bf70"/>
<rect x="1461.60" y="309.36" width="13.80" height="13.86" fill="#fde725"/>
<rect x="1474.80" y="309.36" width="13.80" height="13.86" fill="#9bd93c"/>
<rect x="1488.00" y="309.36" width="13.80" height="13.86" fill="#2a788e"/>
<rect x="1501.20" y="309.36" width="13.80" height="13.86" fill="#25848e"/>
<rect x="1514.40" y="309.36" width="13.80" height="13.86" fill="#2f6c8e"/>
<rect x="1527.60" y="309.36" width="13.80" height="13.86" fill="#22a884"/>
<rect x="1540.80" y="309.36" width="13.80" height="13.86" fill="#2f6c8e"/>
<rect x="1554.00" y="309.36" width="13.80" height="13.86" fill="#355f8d"/>
<rect x="1567.20" y="309.36" width="13.80" height="13.86" fill="#2a788e"/>
<rect x="1250.40" y="322.62" width="13.80" height="13.86" fill="#2a788e"/>
<rect x="1263.60" y="322.62" width="13.80" height="13.86" fill="#414487"/>
<rect x="1276.80" y="322.62" width="13.80" height="13.86" fill="#25848e"/>
<rect x="1290.00" y="322.62" width="13.80" height="13.86" fill="#44bf70"/>
<rect x="1303.20" y="322.62" width="13.80" height="13.86" fill="#22a884"/>
<rect x="1316.40" y="322.62" width="13.80" height="13.86" fill="#25848e"/>
<rect x="1329.60" y="322.62" width="13.80" height="13.86" fill="#21918c"/>
<rect x="1342.80" y="322.62" width="13.80" height="13.86" fill="#414487"/>
<rect x="1356.00" y="322.62" width="13.80" height="13.86" fill="#463480"/>
<rect x="1369.20" y="322.62" width="13.80" height="13.86" fill="#22a884"/>
<rect x="1382.40" y="322.62" width="13.80" height="13.86" fill="#2a788e"/>
<rect x="1395.60" y="322.62" width="13.80" height="13.86" fill="#482475"/>
<rect x="1408.80" y="322.62" width="13.80" height="13.86" fill="#2f6c8e"/>
<rect x="1422.00" y="322.62" width="13.80" height="13.86" fill="#463480"/>
<rect x="1435.20" y="322.62" width="13.80" height="13.86" fill="#25848e"/>
<rect x="1448.40" y="322.62" width="13.80" height="13.86" fill="#21918c"/>
<rect x="1461.60" y="322.62" width="13.80" height="13.86" fill="#22a884"/>
<rect x="1474.80" y="322.62" width="13.80" height="13.86" fill="#25848e"/>
<rect x="1488.00" y="322.62" width="13.80" height="13.86" fill="#2f6c8e"/>
<rect x="1501.20" y="322.62" width="13.80" height="13.86" fill="#355f8d"/>
<rect x="1514.40" y="322.62" width="13.80" height="13.86" fill="#25848e"/>
<rect x="1527.60" y="322.62" width="13.80" height="13.86" fill="#25848e"/>
<rect x="1540.80" y="322.62" width="13.80" height="13.86" fill="#482475"/>
<rect x="1554.00" y="322.62" width="13.80" height="13.86" fill="#1e9c89"/>
<rect x="1567.20" y="322.62" width="13.80" height="13.86" fill="#25848e"/>
<rect x="1250.40" y="335.88" width="13.80" height="13.86" fill="#21918c"/>
<rect x="1263.60" y="335.88" width="13.80" height="13.86" fill="#355f8d"/>
<rect x="1276.80" y="335.88" width="13.80" height="13.86" fill="#21918c"/>
<rect x="1290.00" y="335.88" width="13.80" height="13.86" fill="#2a788e"/>
<rect x="1303.20" y="335.88" width="13.80" height="13.86" fill="#25848e"/>
<rect x="1316.40" y="335.88" width="13.80" height="13.86" fill="#355f8d"/>
<rect x="1329.60" y="335.88" width="13.80" height="13.86" fill="#355f8d"/>
<rect x="1342.80" y="335.88" width="13.80" height="13.86" fill="#463480"/>
<rect x="1356.00" y="335.88" width="13.80" height="13.86" fill="#3b528b"/>
<rect x="1369.20" y="335.88" width="13.80" height="13.86" fill="#2a788e"/>
<rect x="1382.40" y="335.88" width="13.80" height="13.86" fill="#355f8d"/>
<rect x="1395.60" y="335.88" width="13.80" height="13.86" fill="#22a884"/>
<rect x="1408.80" y="335.88" width="13.80" height="13.86" fill="#355f8d"/>
<rect x="1422.00" y="335.88" width="13.80" height="13.86" fill="#463480"/>
<rect x="1435.20" y="335.88" width="13.80" height="13.86" fill="#3b528b"/>
<rect x="1448.40" y="335.88" width="13.80" height="13.86" fill="#2f6c8e"/>
<rect x="1461.60" y="335.88" width="13.80" height="13.86" fill="#2a788e"/>
<rect x="1474.80" y="335.88" width="13.80" height="13.86" fill="#414487"/>
<rect x="1488.00" y="335.88" width="13.80" height="13.86" fill="#2f6c8e"/>
<rect x="1501.20" y="335.88" width="13.80" height="13.86" fill="#414487"/>
<rect x="1514.40" y="335.88" width="13.80" height="13.86" fill="#471365"/>
<rect x="1527.60" y="335.88" width="13.80" height="13.86" fill="#440154"/>
<rect x="1540.80" y="335.88" width="13.80" height="13.86" fill="#2f6c8e"/>
<rect x="1554.00" y="335.88" width="13.80" height="13.86" fill="#414487"/>
<rect x="1567.20" y="335.88" width="13.80" height="13.86" fill="#2f6c8e"/>
<rect x="1250.40" y="349.14" width="13.80" height="13.86" fill="#21918c"/>
<rect x="1263.60" y="349.14" width="13.80" height="13.86" fill="#355f8d"/>
<rect x="1276.80" y="349.14" width="13.80" height="13.86" fill="#3b528b"/>
<rect x="1290.00" y="349.14" width="13.80" height="13.86" fill="#3b528b"/>
<rect x="1303.20" y="349.14" width="13.80" height="13.86" fill="#3b528b"/>
<rect x="1316.40" y="349.14" width="13.80" height="13.86" fill="#2f6c8e"/>
<rect x="1329.60" y="349.14" width="13.80" height="13.86" fill="#2f6c8e"/>
<rect x="1342.80" y="349.14" width="13.80" height="13.86" fill="#21918c"/>
<rect x="1356.00" y="349.14" width="13.80" height="13.86" fill="#2f6c8e"/>
<rect x="1369.20" y="349.14" width="13.80" height="13.86" fill="#2f6c8e"/>
<rect x="1382.40" y="349.14" width="13.80" height="13.86" fill="#414487"/>
<rect x="1395.60" y="349.14" width="13.80" height="13.86" fill="#482475"/>
<rect x="1408.80" y="349.14" width="13.80" height="13.86" fill="#2a788e"/>
<rect x="1422.00" y="349.14" width="13.80" height="13.86" fill="#355f8d"/>
<rect x="1435.20" y="349.14" width="13.80" height="13.86" fill="#25848e"/>
<rect x="1448.40" y="349.14" width="13.80" height="13.86" fill="#21918c"/>
<rect x="1461.60" y="349.14" width="13.80" height="13.86" fill="#21918c"/>
<rect x="1474.80" y="349.14" width="13.80" height="13.86" fill="#3b528b"/>
<rect x="1488.00" y="349.14" width="13.80" height="13.86" fill="#25848e"/>
<rect x="1501.20" y="349.14" width="13.80" height="13.86" fill="#355f8d"/>
<rect x="1514.40" y="349.14" width="13.80" height="13.86" fill="#3b528b"/>
<rect x="1527.60" y="349.14" width="13.80" height="13.86" fill="#21918c"/>
<rect x="1540.80" y="349.14" width="13.80" height="13.86" fill="#3b528b"/>
<rect x="1554.00" y="349.14" width="13.80" height="13.86" fill="#2f6c8e"/>
<rect x="1567.20" y="349.14" width="13.80" height="13.86" fill="#21918c"/>
</g>
<line x1="1257.00" y1="362.40" x2="1257.00" y2="356.80"/>
<line x1="1257.00" y1="32.30" x2="1257.00" y2="37.90"/>
<line x1="1250.40" y1="355.80" x2="1256.00" y2="355.80"/>
<line x1="1580.40" y1="355.80" x2="1574.80" y2="355.80"/>
<line x1="1323.00" y1="362.40" x2="1323.00" y2="356.80"/>
<line x1="1323.00" y1="32.30" x2="1323.00" y2="37.90"/>
<line x1="1250.40" y1="289.78" x2="1256.00" y2="289.78"/>
<line x1="1580.40" y1="289.78" x2="1574.80" y2="289.78"/>
<line x1="1389.00" y1="362.40" x2="1389.00" y2="356.80"/>
<line x1="1389.00" y1="32.30" x2="1389.00" y2="37.90"/>
<line x1="1250.40" y1="223.76" x2="1256.00" y2="223.76"/>
<line x1="1580.40" y1="223.76" x2="1574.80" y2="223.76"/>
<line x1="1455.00" y1="362.40" x2="1455.00" y2="356.80"/>
<line x1="1455.00" y1="32.30" x2="1455.00" y2="37.90"/>
<line x1="1250.40" y1="157.74" x2="1256.00" y2="157.74"/>
<line x1="1580.40" y1="157.74" x2="1574.80" y2="157.74"/>
<line x1="1521.00" y1="362.40" x2="1521.00" y2="356.80"/>
<line x1="1521.00" y1="32.30" x2="1521.00" y2="37.90"/>
<line x1="1250.40" y1="91.72" x2="1256.00" y2="91.72"/>
<line x1="1580.40" y1="91.72" x2="1574.80" y2="91.72"/>
<rect class="sp" x="1250.40" y="32.30" width="330.00" height="330.10" stroke-width="1.40"/>
<text x="1257.00" y="381.90" font-size="18.00" text-anchor="middle">0</text>
<text x="1243.80" y="360.70" font-size="18.00" text-anchor="end">0</text>
<text x="1323.00" y="381.90" font-size="18.00" text-anchor="middle">5</text>
<text x="1243.80" y="294.68" font-size="18.00" text-anchor="end">5</text>
<text x="1389.00" y="381.90" font-size="18.00" text-anchor="middle" textLength="18.90" lengthAdjust="spacing">10</text>
<text x="1243.80" y="228.66" font-size="18.00" text-anchor="end" textLength="19.70" lengthAdjust="spacing">10</text>
<text x="1455.00" y="381.90" font-size="18.00" text-anchor="middle" textLength="18.90" lengthAdjust="spacing">15</text>
<text x="1243.80" y="162.64" font-size="18.00" text-anchor="end" textLength="19.70" lengthAdjust="spacing">15</text>
<text x="1521.00" y="381.90" font-size="18.00" text-anchor="middle" textLength="18.90" lengthAdjust="spacing">20</text>
<text x="1243.80" y="96.62" font-size="18.00" text-anchor="end" textLength="19.70" lengthAdjust="spacing">20</text>
<text x="1414.60" y="24.90" font-size="20.00" text-anchor="middle" textLength="140.60" lengthAdjust="spacing">WFC3 IR Total</text>
</g>
</svg></body></html>
